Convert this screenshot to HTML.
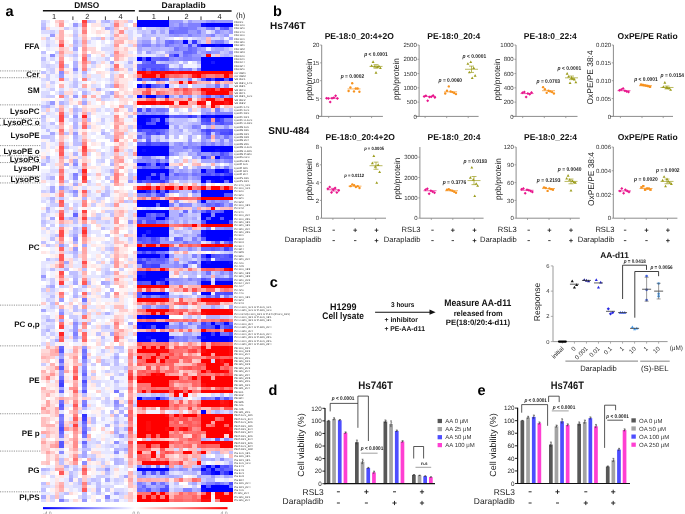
<!DOCTYPE html><html><head><meta charset="utf-8"><style>html,body{margin:0;padding:0;background:#fff;overflow:hidden}svg{display:block;will-change:transform;filter:blur(0.3px)}</style></head><body><svg width="685" height="514" viewBox="0 0 685 514" font-family='"Liberation Sans", sans-serif' text-rendering="geometricPrecision"><rect width="685" height="514" fill="#fff"/><g transform="translate(41.1,20.0) scale(4.58,3.39437)" shape-rendering="crispEdges"><path fill="#0000ff" d="M21 0h7v1h-7zM21 1h7v1h-7zM36 1h6v1h-6zM31 6h1v1h-1zM35 7h3v1h-3zM39 7h3v1h-3zM21 11h1v1h-1zM23 11h1v1h-1zM35 11h7v1h-7zM35 12h2v1h-2zM38 12h4v1h-4zM35 13h7v1h-7zM35 14h7v1h-7zM38 17h2v1h-2zM41 17h1v1h-1zM21 19h1v1h-1zM23 19h1v1h-1zM27 19h1v1h-1zM21 22h1v1h-1zM23 22h2v1h-2zM27 22h1v1h-1zM21 28h7v1h-7zM35 28h1v1h-1zM38 28h4v1h-4zM21 29h2v1h-2zM26 29h1v1h-1zM21 30h2v1h-2zM25 30h2v1h-2zM22 31h6v1h-6zM21 37h7v1h-7zM35 37h7v1h-7zM21 38h1v1h-1zM23 38h5v1h-5zM35 38h3v1h-3zM39 38h3v1h-3zM21 39h7v1h-7zM38 40h1v1h-1zM21 42h2v1h-2zM25 42h1v1h-1zM27 42h1v1h-1zM21 44h7v1h-7zM35 44h1v1h-1zM38 44h2v1h-2zM21 45h3v1h-3zM27 45h1v1h-1zM21 46h2v1h-2zM24 46h2v1h-2zM35 46h4v1h-4zM40 46h2v1h-2zM35 47h1v1h-1zM38 47h2v1h-2zM21 50h2v1h-2zM25 50h1v1h-1zM35 50h7v1h-7zM35 51h5v1h-5zM21 53h7v1h-7zM35 53h1v1h-1zM21 54h4v1h-4zM26 54h2v1h-2zM21 56h7v1h-7zM40 56h2v1h-2zM21 57h2v1h-2zM27 57h1v1h-1zM35 57h2v1h-2zM38 57h4v1h-4zM25 58h2v1h-2zM35 58h1v1h-1zM37 58h2v1h-2zM40 58h2v1h-2zM36 59h5v1h-5zM21 61h7v1h-7zM21 62h2v1h-2zM24 62h4v1h-4zM36 62h6v1h-6zM21 63h1v1h-1zM23 63h5v1h-5zM36 63h6v1h-6zM36 64h5v1h-5zM21 67h7v1h-7zM21 69h5v1h-5zM27 69h1v1h-1zM36 69h1v1h-1zM35 71h1v1h-1zM37 71h4v1h-4zM35 72h7v1h-7zM23 74h5v1h-5zM21 75h1v1h-1zM23 75h5v1h-5zM21 76h5v1h-5zM24 77h1v1h-1zM27 77h1v1h-1zM35 77h2v1h-2zM38 77h4v1h-4zM22 80h5v1h-5zM35 80h2v1h-2zM21 87h1v1h-1zM23 87h5v1h-5zM21 89h7v1h-7zM37 89h1v1h-1zM22 90h1v1h-1zM25 90h2v1h-2zM38 90h1v1h-1zM21 92h7v1h-7zM35 92h2v1h-2zM38 92h1v1h-1zM21 93h2v1h-2zM24 93h4v1h-4zM36 93h5v1h-5zM21 94h3v1h-3zM25 94h3v1h-3zM35 94h6v1h-6zM21 111h1v1h-1zM25 111h1v1h-1zM35 115h1v1h-1zM36 131h1v1h-1zM38 131h1v1h-1zM21 132h7v1h-7zM35 132h1v1h-1zM37 132h1v1h-1zM38 133h1v1h-1zM41 133h1v1h-1zM35 137h1v1h-1zM37 137h4v1h-4zM36 138h6v1h-6z"/><path fill="#0d0dff" d="M35 1h1v1h-1zM38 7h1v1h-1zM36 17h1v1h-1zM36 28h2v1h-2zM23 29h1v1h-1zM21 31h1v1h-1zM22 38h1v1h-1zM38 38h1v1h-1zM25 45h1v1h-1zM39 46h1v1h-1zM37 47h1v1h-1zM41 47h1v1h-1zM27 50h1v1h-1zM35 62h1v1h-1zM35 63h1v1h-1zM41 64h1v1h-1zM36 71h1v1h-1zM41 71h1v1h-1zM22 75h1v1h-1zM26 76h1v1h-1zM22 87h1v1h-1zM40 89h1v1h-1zM21 90h1v1h-1zM23 90h1v1h-1zM23 93h1v1h-1zM35 93h1v1h-1zM41 93h1v1h-1zM41 94h1v1h-1zM37 133h1v1h-1zM35 138h1v1h-1z"/><path fill="#1919ff" d="M37 12h1v1h-1zM40 44h1v1h-1zM23 62h1v1h-1zM21 74h2v1h-2z"/><path fill="#2626ff" d="M23 50h1v1h-1zM27 80h1v1h-1z"/><path fill="#3333ff" d="M33 6h1v1h-1zM34 7h1v1h-1zM29 10h1v1h-1zM21 17h1v1h-1zM25 17h1v1h-1zM32 28h1v1h-1zM38 29h1v1h-1zM35 40h1v1h-1zM26 42h1v1h-1zM41 45h1v1h-1zM23 46h1v1h-1zM21 47h1v1h-1zM26 47h1v1h-1zM36 56h1v1h-1zM21 71h1v1h-1zM9 116h1v1h-1zM40 133h1v1h-1z"/><path fill="#4040ff" d="M22 14h1v1h-1zM37 17h1v1h-1zM22 19h1v1h-1zM21 26h1v1h-1zM36 29h1v1h-1zM27 30h1v1h-1zM21 32h1v1h-1zM36 32h1v1h-1zM25 33h1v1h-1zM41 33h1v1h-1zM23 36h1v1h-1zM23 42h1v1h-1zM26 43h1v1h-1zM40 45h1v1h-1zM27 46h1v1h-1zM24 47h2v1h-2zM26 51h1v1h-1zM22 63h1v1h-1zM24 64h1v1h-1zM40 67h1v1h-1zM22 68h1v1h-1zM24 68h1v1h-1zM35 69h1v1h-1zM41 69h1v1h-1zM22 71h1v1h-1zM22 72h1v1h-1zM24 72h2v1h-2zM26 77h1v1h-1zM35 89h1v1h-1zM41 90h1v1h-1zM37 92h1v1h-1zM28 93h1v1h-1zM34 93h1v1h-1zM4 107h1v1h-1zM38 111h1v1h-1zM9 117h1v1h-1zM22 133h1v1h-1zM26 133h1v1h-1zM36 133h1v1h-1z"/><path fill="#4d4dff" d="M32 7h1v1h-1zM22 11h1v1h-1zM24 12h1v1h-1zM24 14h1v1h-1zM26 14h1v1h-1zM24 17h1v1h-1zM23 26h1v1h-1zM33 28h1v1h-1zM24 29h1v1h-1zM35 29h1v1h-1zM39 29h1v1h-1zM23 30h1v1h-1zM39 30h1v1h-1zM24 32h1v1h-1zM41 32h1v1h-1zM23 33h1v1h-1zM36 33h1v1h-1zM39 33h2v1h-2zM26 36h2v1h-2zM39 39h1v1h-1zM36 45h1v1h-1zM38 45h1v1h-1zM23 47h1v1h-1zM25 57h1v1h-1zM21 59h1v1h-1zM23 59h2v1h-2zM21 64h1v1h-1zM24 65h2v1h-2zM38 65h1v1h-1zM41 65h1v1h-1zM26 69h1v1h-1zM37 69h1v1h-1zM21 70h1v1h-1zM23 70h1v1h-1zM36 70h1v1h-1zM23 72h1v1h-1zM35 76h1v1h-1zM38 76h1v1h-1zM41 76h1v1h-1zM21 77h1v1h-1zM38 80h1v1h-1zM40 80h2v1h-2zM27 81h1v1h-1zM35 90h1v1h-1zM37 90h1v1h-1zM40 90h1v1h-1zM41 92h1v1h-1zM4 106h1v1h-1zM9 106h1v1h-1zM4 120h1v1h-1zM40 131h1v1h-1zM36 132h1v1h-1zM39 132h1v1h-1zM35 133h1v1h-1zM41 136h1v1h-1zM26 138h2v1h-2z"/><path fill="#5959ff" d="M40 2h1v1h-1zM26 11h2v1h-2zM22 13h5v1h-5zM25 14h1v1h-1zM26 17h1v1h-1zM35 17h1v1h-1zM40 17h1v1h-1zM24 19h1v1h-1zM39 22h1v1h-1zM29 28h3v1h-3zM24 30h1v1h-1zM36 30h1v1h-1zM38 30h1v1h-1zM22 32h2v1h-2zM25 32h1v1h-1zM35 32h1v1h-1zM37 32h1v1h-1zM39 32h2v1h-2zM24 33h1v1h-1zM21 36h2v1h-2zM24 36h2v1h-2zM27 40h1v1h-1zM40 40h2v1h-2zM22 43h1v1h-1zM36 44h2v1h-2zM35 45h1v1h-1zM22 47h1v1h-1zM26 50h1v1h-1zM25 51h1v1h-1zM40 51h2v1h-2zM38 54h1v1h-1zM39 56h1v1h-1zM23 57h1v1h-1zM26 57h1v1h-1zM23 58h1v1h-1zM27 58h1v1h-1zM36 58h1v1h-1zM39 58h1v1h-1zM35 59h1v1h-1zM41 59h1v1h-1zM22 64h1v1h-1zM25 64h1v1h-1zM35 64h1v1h-1zM22 65h1v1h-1zM37 67h1v1h-1zM38 69h1v1h-1zM40 69h1v1h-1zM25 70h2v1h-2zM39 70h3v1h-3zM31 72h1v1h-1zM27 76h1v1h-1zM39 76h2v1h-2zM22 77h2v1h-2zM21 80h1v1h-1zM39 80h1v1h-1zM21 81h1v1h-1zM23 81h1v1h-1zM26 81h1v1h-1zM38 81h1v1h-1zM39 89h1v1h-1zM24 90h1v1h-1zM27 90h1v1h-1zM36 90h1v1h-1zM4 97h1v1h-1zM4 102h1v1h-1zM9 109h1v1h-1zM23 111h2v1h-2zM26 111h1v1h-1zM40 111h1v1h-1zM4 113h1v1h-1zM9 121h1v1h-1zM4 124h1v1h-1zM4 125h1v1h-1zM35 131h1v1h-1zM37 131h1v1h-1zM39 131h1v1h-1zM24 133h1v1h-1zM39 133h1v1h-1zM27 137h1v1h-1zM36 137h1v1h-1zM23 138h1v1h-1z"/><path fill="#6666ff" d="M39 2h1v1h-1zM28 3h1v1h-1zM28 6h1v1h-1zM32 8h1v1h-1zM31 9h2v1h-2zM28 10h1v1h-1zM24 11h2v1h-2zM23 12h1v1h-1zM21 13h1v1h-1zM21 14h1v1h-1zM27 14h1v1h-1zM27 17h1v1h-1zM25 19h1v1h-1zM25 22h2v1h-2zM36 22h1v1h-1zM28 28h1v1h-1zM35 30h1v1h-1zM40 30h2v1h-2zM26 32h1v1h-1zM38 32h1v1h-1zM26 33h1v1h-1zM21 34h1v1h-1zM23 35h1v1h-1zM40 39h1v1h-1zM39 40h1v1h-1zM25 41h1v1h-1zM23 43h1v1h-1zM25 43h1v1h-1zM41 44h1v1h-1zM24 45h1v1h-1zM26 45h1v1h-1zM29 45h1v1h-1zM37 45h1v1h-1zM39 45h1v1h-1zM26 46h1v1h-1zM27 47h1v1h-1zM24 50h1v1h-1zM33 50h1v1h-1zM23 51h1v1h-1zM25 54h1v1h-1zM36 54h1v1h-1zM31 56h1v1h-1zM35 56h1v1h-1zM38 56h1v1h-1zM7 57h1v1h-1zM21 58h2v1h-2zM24 58h1v1h-1zM23 64h1v1h-1zM29 64h1v1h-1zM23 65h1v1h-1zM35 67h2v1h-2zM38 67h1v1h-1zM41 67h1v1h-1zM21 68h1v1h-1zM23 68h1v1h-1zM39 69h1v1h-1zM24 70h1v1h-1zM38 70h1v1h-1zM24 71h3v1h-3zM33 71h1v1h-1zM36 76h1v1h-1zM25 77h1v1h-1zM36 81h1v1h-1zM36 89h1v1h-1zM38 89h1v1h-1zM41 89h1v1h-1zM24 94h1v1h-1zM4 96h1v1h-1zM9 99h1v1h-1zM4 100h1v1h-1zM9 104h1v1h-1zM4 109h1v1h-1zM22 111h1v1h-1zM4 114h1v1h-1zM9 118h1v1h-1zM4 119h1v1h-1zM4 121h1v1h-1zM38 123h1v1h-1zM9 124h1v1h-1zM38 132h1v1h-1zM40 132h2v1h-2zM24 136h1v1h-1zM38 136h1v1h-1zM22 137h1v1h-1z"/><path fill="#7373ff" d="M30 2h2v1h-2zM37 2h1v1h-1zM29 3h3v1h-3zM27 6h1v1h-1zM27 7h1v1h-1zM29 8h1v1h-1zM33 8h1v1h-1zM33 9h1v1h-1zM31 10h1v1h-1zM22 12h1v1h-1zM27 13h1v1h-1zM23 14h1v1h-1zM34 14h1v1h-1zM22 17h2v1h-2zM38 19h1v1h-1zM22 22h1v1h-1zM25 26h2v1h-2zM38 26h1v1h-1zM25 29h1v1h-1zM38 33h1v1h-1zM23 34h1v1h-1zM36 34h1v1h-1zM40 34h1v1h-1zM31 37h1v1h-1zM34 37h1v1h-1zM37 39h1v1h-1zM36 40h1v1h-1zM24 43h1v1h-1zM33 45h1v1h-1zM36 47h1v1h-1zM40 47h1v1h-1zM37 54h1v1h-1zM39 54h1v1h-1zM37 56h1v1h-1zM24 57h1v1h-1zM25 59h2v1h-2zM30 64h1v1h-1zM21 65h1v1h-1zM31 65h1v1h-1zM40 65h1v1h-1zM25 68h2v1h-2zM22 70h1v1h-1zM27 70h1v1h-1zM35 70h1v1h-1zM23 71h1v1h-1zM36 74h1v1h-1zM9 82h1v1h-1zM39 90h1v1h-1zM39 92h2v1h-2zM9 97h1v1h-1zM4 105h1v1h-1zM9 107h1v1h-1zM16 109h1v1h-1zM27 111h1v1h-1zM35 111h1v1h-1zM4 112h1v1h-1zM9 113h1v1h-1zM4 116h1v1h-1zM4 118h1v1h-1zM9 120h1v1h-1zM9 122h1v1h-1zM25 131h1v1h-1zM41 131h1v1h-1zM26 136h1v1h-1zM41 137h1v1h-1zM21 138h1v1h-1z"/><path fill="#8080ff" d="M30 1h1v1h-1zM32 1h3v1h-3zM29 2h1v1h-1zM32 2h2v1h-2zM36 2h1v1h-1zM34 3h1v1h-1zM32 4h1v1h-1zM37 4h1v1h-1zM29 6h1v1h-1zM38 6h2v1h-2zM22 7h2v1h-2zM36 9h1v1h-1zM32 10h1v1h-1zM31 11h2v1h-2zM30 14h1v1h-1zM32 14h1v1h-1zM32 17h1v1h-1zM26 19h1v1h-1zM38 22h1v1h-1zM41 22h1v1h-1zM27 26h1v1h-1zM22 27h1v1h-1zM38 27h4v1h-4zM27 29h1v1h-1zM40 29h2v1h-2zM33 31h1v1h-1zM27 32h1v1h-1zM35 33h1v1h-1zM35 36h1v1h-1zM37 36h1v1h-1zM33 37h1v1h-1zM34 39h1v1h-1zM38 39h1v1h-1zM22 40h2v1h-2zM23 41h1v1h-1zM27 41h1v1h-1zM41 41h1v1h-1zM24 42h1v1h-1zM21 43h1v1h-1zM40 43h1v1h-1zM28 44h1v1h-1zM7 45h1v1h-1zM30 45h2v1h-2zM34 45h1v1h-1zM28 50h1v1h-1zM21 51h2v1h-2zM37 53h1v1h-1zM28 54h1v1h-1zM30 54h1v1h-1zM41 54h1v1h-1zM30 57h1v1h-1zM36 61h1v1h-1zM34 63h1v1h-1zM27 64h1v1h-1zM33 64h1v1h-1zM29 67h1v1h-1zM39 67h1v1h-1zM33 69h1v1h-1zM27 71h1v1h-1zM32 71h1v1h-1zM41 74h1v1h-1zM32 76h1v1h-1zM25 81h1v1h-1zM40 81h1v1h-1zM27 84h1v1h-1zM30 89h1v1h-1zM32 89h1v1h-1zM30 90h1v1h-1zM34 90h1v1h-1zM7 92h1v1h-1zM29 93h1v1h-1zM31 93h1v1h-1zM29 94h1v1h-1zM31 94h1v1h-1zM9 98h1v1h-1zM9 103h1v1h-1zM36 111h1v1h-1zM9 112h1v1h-1zM4 117h1v1h-1zM9 119h1v1h-1zM4 122h1v1h-1zM21 131h1v1h-1zM27 131h1v1h-1zM21 136h1v1h-1zM36 136h2v1h-2zM39 136h1v1h-1zM22 138h1v1h-1zM31 138h2v1h-2zM14 140h1v1h-1zM4 141h1v1h-1z"/><path fill="#8c8cff" d="M37 0h1v1h-1zM28 2h1v1h-1zM38 3h1v1h-1zM29 4h1v1h-1zM30 6h1v1h-1zM25 7h1v1h-1zM28 7h1v1h-1zM30 7h1v1h-1zM30 8h2v1h-2zM2 10h1v1h-1zM28 11h1v1h-1zM30 11h1v1h-1zM33 11h2v1h-2zM7 14h1v1h-1zM28 14h1v1h-1zM31 14h1v1h-1zM4 15h1v1h-1zM30 22h1v1h-1zM35 22h1v1h-1zM24 26h1v1h-1zM24 27h1v1h-1zM26 27h1v1h-1zM36 27h1v1h-1zM34 28h1v1h-1zM37 30h1v1h-1zM34 31h1v1h-1zM22 33h1v1h-1zM27 33h1v1h-1zM27 34h1v1h-1zM38 34h1v1h-1zM39 35h1v1h-1zM41 35h1v1h-1zM30 36h1v1h-1zM32 36h1v1h-1zM39 36h1v1h-1zM28 37h1v1h-1zM32 37h1v1h-1zM33 38h2v1h-2zM28 39h1v1h-1zM21 41h2v1h-2zM24 41h1v1h-1zM38 41h1v1h-1zM40 41h1v1h-1zM7 42h1v1h-1zM27 43h1v1h-1zM33 44h1v1h-1zM7 46h1v1h-1zM28 46h2v1h-2zM31 46h1v1h-1zM34 46h1v1h-1zM7 50h1v1h-1zM29 50h1v1h-1zM29 53h1v1h-1zM34 53h1v1h-1zM39 53h1v1h-1zM31 54h2v1h-2zM35 54h1v1h-1zM33 56h1v1h-1zM37 57h1v1h-1zM22 59h1v1h-1zM27 59h1v1h-1zM40 61h2v1h-2zM7 64h1v1h-1zM34 65h1v1h-1zM37 65h1v1h-1zM28 67h1v1h-1zM32 67h1v1h-1zM27 68h1v1h-1zM29 71h1v1h-1zM29 72h1v1h-1zM34 72h1v1h-1zM39 74h1v1h-1zM41 75h1v1h-1zM28 76h2v1h-2zM34 76h1v1h-1zM34 77h1v1h-1zM22 81h1v1h-1zM24 81h1v1h-1zM37 81h1v1h-1zM23 84h1v1h-1zM26 84h1v1h-1zM4 86h1v1h-1zM7 89h1v1h-1zM30 93h1v1h-1zM33 93h1v1h-1zM28 94h1v1h-1zM30 94h1v1h-1zM9 100h1v1h-1zM9 102h1v1h-1zM9 108h1v1h-1zM37 111h1v1h-1zM39 111h1v1h-1zM41 111h1v1h-1zM16 112h1v1h-1zM40 123h1v1h-1zM16 124h1v1h-1zM4 127h1v1h-1zM16 127h1v1h-1zM39 129h1v1h-1zM9 130h1v1h-1zM23 131h1v1h-1zM30 132h1v1h-1zM33 132h2v1h-2zM27 133h1v1h-1zM21 137h1v1h-1zM25 138h1v1h-1z"/><path fill="#9999ff" d="M28 0h3v1h-3zM32 0h1v1h-1zM36 0h1v1h-1zM38 0h4v1h-4zM7 1h1v1h-1zM28 1h1v1h-1zM31 1h1v1h-1zM24 3h1v1h-1zM32 3h2v1h-2zM41 3h1v1h-1zM2 4h1v1h-1zM28 4h1v1h-1zM30 4h1v1h-1zM33 4h2v1h-2zM36 4h1v1h-1zM40 4h1v1h-1zM22 6h2v1h-2zM37 6h1v1h-1zM21 7h1v1h-1zM29 7h1v1h-1zM34 8h1v1h-1zM23 9h1v1h-1zM28 9h2v1h-2zM35 9h1v1h-1zM37 9h2v1h-2zM41 9h1v1h-1zM33 10h2v1h-2zM29 11h1v1h-1zM29 14h1v1h-1zM4 16h1v1h-1zM40 19h1v1h-1zM7 22h1v1h-1zM32 22h1v1h-1zM2 24h1v1h-1zM21 27h1v1h-1zM23 27h1v1h-1zM25 27h1v1h-1zM7 28h1v1h-1zM40 31h1v1h-1zM7 33h1v1h-1zM22 34h1v1h-1zM35 34h1v1h-1zM41 34h1v1h-1zM32 35h1v1h-1zM35 35h1v1h-1zM29 36h1v1h-1zM33 36h1v1h-1zM36 36h1v1h-1zM41 36h1v1h-1zM29 37h2v1h-2zM29 38h2v1h-2zM35 39h2v1h-2zM41 39h1v1h-1zM26 41h1v1h-1zM38 43h1v1h-1zM30 44h1v1h-1zM34 44h1v1h-1zM28 45h1v1h-1zM32 45h1v1h-1zM30 46h1v1h-1zM33 46h1v1h-1zM19 47h1v1h-1zM4 49h1v1h-1zM34 50h1v1h-1zM24 51h1v1h-1zM36 53h1v1h-1zM38 53h1v1h-1zM40 53h1v1h-1zM19 59h1v1h-1zM38 61h2v1h-2zM26 64h1v1h-1zM26 65h4v1h-4zM32 65h2v1h-2zM4 66h1v1h-1zM7 67h1v1h-1zM28 69h1v1h-1zM26 72h3v1h-3zM30 72h1v1h-1zM0 75h1v1h-1zM30 76h1v1h-1zM33 76h1v1h-1zM29 77h2v1h-2zM35 81h1v1h-1zM4 82h1v1h-1zM22 84h1v1h-1zM25 84h1v1h-1zM7 90h1v1h-1zM28 90h2v1h-2zM31 90h1v1h-1zM7 91h1v1h-1zM7 93h1v1h-1zM32 93h1v1h-1zM33 94h2v1h-2zM9 96h1v1h-1zM4 98h1v1h-1zM4 101h1v1h-1zM4 103h1v1h-1zM4 104h1v1h-1zM9 105h1v1h-1zM16 113h1v1h-1zM18 116h1v1h-1zM17 122h1v1h-1zM9 125h1v1h-1zM14 132h1v1h-1zM28 132h1v1h-1zM31 132h1v1h-1zM37 134h1v1h-1zM22 136h1v1h-1zM40 136h1v1h-1zM25 137h2v1h-2zM24 138h1v1h-1zM9 141h1v1h-1z"/><path fill="#a6a6ff" d="M29 1h1v1h-1zM14 2h1v1h-1zM34 2h1v1h-1zM41 2h1v1h-1zM26 3h1v1h-1zM39 3h1v1h-1zM31 4h1v1h-1zM25 5h1v1h-1zM41 5h1v1h-1zM25 6h1v1h-1zM34 6h1v1h-1zM24 7h1v1h-1zM26 7h1v1h-1zM31 7h1v1h-1zM33 7h1v1h-1zM7 8h1v1h-1zM21 8h1v1h-1zM35 8h1v1h-1zM38 8h2v1h-2zM30 9h1v1h-1zM30 10h1v1h-1zM15 12h1v1h-1zM30 13h1v1h-1zM36 19h1v1h-1zM15 21h1v1h-1zM28 22h1v1h-1zM37 22h1v1h-1zM40 22h1v1h-1zM9 24h1v1h-1zM22 26h1v1h-1zM35 26h1v1h-1zM35 27h1v1h-1zM37 27h1v1h-1zM29 31h1v1h-1zM30 32h1v1h-1zM34 32h1v1h-1zM2 33h1v1h-1zM21 33h1v1h-1zM32 34h1v1h-1zM39 34h1v1h-1zM25 35h1v1h-1zM34 36h1v1h-1zM38 36h1v1h-1zM28 38h1v1h-1zM31 38h1v1h-1zM29 39h1v1h-1zM32 39h1v1h-1zM33 40h1v1h-1zM7 41h1v1h-1zM35 41h2v1h-2zM39 41h1v1h-1zM5 42h1v1h-1zM34 43h1v1h-1zM36 43h1v1h-1zM31 44h1v1h-1zM7 48h1v1h-1zM35 48h1v1h-1zM2 49h1v1h-1zM2 50h1v1h-1zM7 51h1v1h-1zM40 54h1v1h-1zM34 56h1v1h-1zM2 58h1v1h-1zM28 58h1v1h-1zM33 58h1v1h-1zM29 59h1v1h-1zM31 59h1v1h-1zM32 61h1v1h-1zM7 63h1v1h-1zM31 63h1v1h-1zM30 65h1v1h-1zM9 66h1v1h-1zM33 67h1v1h-1zM5 71h1v1h-1zM21 72h1v1h-1zM35 74h1v1h-1zM40 74h1v1h-1zM35 75h1v1h-1zM38 75h1v1h-1zM31 76h1v1h-1zM7 77h1v1h-1zM13 77h1v1h-1zM28 77h1v1h-1zM31 77h1v1h-1zM2 78h1v1h-1zM33 80h1v1h-1zM30 81h1v1h-1zM41 81h1v1h-1zM37 84h1v1h-1zM41 84h1v1h-1zM0 85h1v1h-1zM4 85h1v1h-1zM4 88h1v1h-1zM19 89h1v1h-1zM33 89h1v1h-1zM15 92h1v1h-1zM31 92h2v1h-2zM3 94h1v1h-1zM32 94h1v1h-1zM4 99h1v1h-1zM16 99h1v1h-1zM9 101h1v1h-1zM4 108h1v1h-1zM16 121h1v1h-1zM18 126h1v1h-1zM9 127h1v1h-1zM9 128h1v1h-1zM37 129h1v1h-1zM29 132h1v1h-1zM23 133h1v1h-1zM25 133h1v1h-1zM18 134h1v1h-1zM21 134h2v1h-2zM28 134h1v1h-1zM34 134h1v1h-1zM40 134h1v1h-1zM6 135h1v1h-1zM14 135h1v1h-1zM25 136h1v1h-1zM27 136h1v1h-1zM33 136h1v1h-1zM35 136h1v1h-1zM23 137h1v1h-1zM34 138h1v1h-1zM16 139h1v1h-1zM0 140h1v1h-1z"/><path fill="#b2b2ff" d="M14 0h1v1h-1zM33 0h3v1h-3zM0 2h1v1h-1zM21 2h1v1h-1zM26 2h1v1h-1zM35 2h1v1h-1zM35 3h1v1h-1zM40 3h1v1h-1zM22 4h1v1h-1zM35 4h1v1h-1zM39 4h1v1h-1zM7 6h1v1h-1zM21 6h1v1h-1zM32 6h1v1h-1zM40 6h1v1h-1zM24 8h2v1h-2zM28 8h1v1h-1zM37 8h1v1h-1zM21 9h1v1h-1zM27 9h1v1h-1zM34 9h1v1h-1zM35 10h1v1h-1zM40 10h1v1h-1zM7 12h1v1h-1zM19 12h1v1h-1zM27 12h2v1h-2zM34 12h1v1h-1zM7 13h1v1h-1zM15 14h1v1h-1zM9 15h1v1h-1zM34 17h1v1h-1zM15 19h1v1h-1zM37 19h1v1h-1zM12 20h1v1h-1zM9 21h1v1h-1zM34 22h1v1h-1zM4 24h1v1h-1zM1 25h1v1h-1zM7 26h1v1h-1zM36 26h1v1h-1zM27 27h1v1h-1zM7 30h1v1h-1zM28 30h1v1h-1zM33 30h2v1h-2zM7 31h1v1h-1zM32 31h1v1h-1zM36 31h1v1h-1zM13 33h1v1h-1zM33 33h2v1h-2zM7 34h1v1h-1zM36 35h1v1h-1zM31 36h1v1h-1zM40 36h1v1h-1zM7 39h1v1h-1zM33 39h1v1h-1zM1 40h1v1h-1zM21 40h1v1h-1zM24 40h1v1h-1zM37 41h1v1h-1zM0 42h1v1h-1zM15 42h1v1h-1zM29 43h1v1h-1zM31 43h1v1h-1zM35 43h1v1h-1zM41 43h1v1h-1zM15 44h1v1h-1zM29 44h1v1h-1zM2 46h1v1h-1zM32 46h1v1h-1zM6 50h1v1h-1zM13 51h1v1h-1zM27 51h1v1h-1zM33 51h1v1h-1zM2 52h1v1h-1zM9 52h1v1h-1zM34 54h1v1h-1zM1 55h1v1h-1zM33 55h1v1h-1zM28 56h2v1h-2zM28 57h2v1h-2zM31 57h1v1h-1zM6 58h1v1h-1zM29 58h1v1h-1zM31 58h1v1h-1zM9 60h1v1h-1zM7 61h1v1h-1zM28 61h1v1h-1zM29 62h1v1h-1zM33 62h2v1h-2zM33 63h1v1h-1zM34 64h1v1h-1zM7 65h1v1h-1zM30 67h2v1h-2zM7 68h1v1h-1zM31 69h1v1h-1zM34 69h1v1h-1zM31 70h1v1h-1zM34 70h1v1h-1zM28 71h1v1h-1zM34 71h1v1h-1zM5 73h1v1h-1zM33 74h1v1h-1zM38 74h1v1h-1zM36 75h1v1h-1zM39 75h1v1h-1zM7 76h1v1h-1zM14 77h1v1h-1zM32 77h2v1h-2zM9 78h1v1h-1zM15 79h1v1h-1zM7 81h1v1h-1zM34 81h1v1h-1zM9 85h1v1h-1zM14 86h1v1h-1zM36 87h3v1h-3zM1 88h1v1h-1zM29 89h1v1h-1zM34 89h1v1h-1zM1 91h1v1h-1zM17 110h1v1h-1zM26 110h1v1h-1zM29 111h1v1h-1zM17 113h1v1h-1zM9 114h1v1h-1zM16 114h1v1h-1zM17 115h1v1h-1zM38 115h1v1h-1zM16 116h1v1h-1zM16 118h1v1h-1zM14 119h1v1h-1zM16 120h1v1h-1zM18 120h1v1h-1zM35 123h1v1h-1zM41 123h1v1h-1zM16 126h1v1h-1zM38 127h1v1h-1zM16 129h1v1h-1zM35 129h2v1h-2zM16 130h1v1h-1zM41 130h1v1h-1zM5 131h1v1h-1zM22 131h1v1h-1zM30 131h1v1h-1zM0 132h1v1h-1zM21 133h1v1h-1zM33 133h1v1h-1zM6 134h1v1h-1zM25 134h1v1h-1zM27 134h1v1h-1zM29 134h1v1h-1zM41 134h1v1h-1zM36 135h2v1h-2zM24 137h1v1h-1zM12 138h1v1h-1zM33 138h1v1h-1zM16 141h1v1h-1z"/><path fill="#bfbfff" d="M10 0h1v1h-1zM13 0h1v1h-1zM0 1h1v1h-1zM15 2h1v1h-1zM25 2h1v1h-1zM27 2h1v1h-1zM38 2h1v1h-1zM22 3h1v1h-1zM7 4h1v1h-1zM23 4h2v1h-2zM27 4h1v1h-1zM38 4h1v1h-1zM15 5h1v1h-1zM22 5h2v1h-2zM35 5h1v1h-1zM39 5h1v1h-1zM26 6h1v1h-1zM7 7h1v1h-1zM22 8h2v1h-2zM26 8h2v1h-2zM40 8h1v1h-1zM0 9h1v1h-1zM24 9h1v1h-1zM40 9h1v1h-1zM7 10h1v1h-1zM10 10h1v1h-1zM15 10h1v1h-1zM26 10h1v1h-1zM39 10h1v1h-1zM41 10h1v1h-1zM0 11h1v1h-1zM11 12h1v1h-1zM26 12h1v1h-1zM29 12h1v1h-1zM31 12h1v1h-1zM19 14h1v1h-1zM33 14h1v1h-1zM0 15h1v1h-1zM29 17h3v1h-3zM7 18h1v1h-1zM7 19h1v1h-1zM30 19h2v1h-2zM4 21h1v1h-1zM13 22h2v1h-2zM31 22h1v1h-1zM0 25h1v1h-1zM19 26h1v1h-1zM32 26h1v1h-1zM39 26h1v1h-1zM41 26h1v1h-1zM7 27h1v1h-1zM0 28h1v1h-1zM19 28h1v1h-1zM7 29h1v1h-1zM10 29h1v1h-1zM29 29h3v1h-3zM34 29h1v1h-1zM2 30h1v1h-1zM29 30h2v1h-2zM32 30h1v1h-1zM31 31h1v1h-1zM38 31h2v1h-2zM1 32h1v1h-1zM29 32h1v1h-1zM32 32h2v1h-2zM5 33h1v1h-1zM29 33h2v1h-2zM0 34h2v1h-2zM25 34h1v1h-1zM29 34h1v1h-1zM7 35h1v1h-1zM21 35h1v1h-1zM38 35h1v1h-1zM7 36h2v1h-2zM28 36h1v1h-1zM5 37h1v1h-1zM32 38h1v1h-1zM34 40h1v1h-1zM1 41h1v1h-1zM20 41h1v1h-1zM41 42h1v1h-1zM39 43h1v1h-1zM8 44h1v1h-1zM32 44h1v1h-1zM19 45h1v1h-1zM14 46h1v1h-1zM19 46h1v1h-1zM15 47h1v1h-1zM28 47h1v1h-1zM30 47h2v1h-2zM33 47h2v1h-2zM5 49h1v1h-1zM14 50h1v1h-1zM30 50h3v1h-3zM14 51h1v1h-1zM31 51h1v1h-1zM34 51h1v1h-1zM4 52h1v1h-1zM2 53h1v1h-1zM18 53h1v1h-1zM1 56h1v1h-1zM7 56h1v1h-1zM15 57h1v1h-1zM33 57h1v1h-1zM7 58h1v1h-1zM12 58h1v1h-1zM30 58h1v1h-1zM32 58h1v1h-1zM0 59h1v1h-1zM7 59h1v1h-1zM28 59h1v1h-1zM33 59h2v1h-2zM4 60h1v1h-1zM13 61h1v1h-1zM31 61h1v1h-1zM35 61h1v1h-1zM7 62h1v1h-1zM30 62h1v1h-1zM3 63h1v1h-1zM14 63h1v1h-1zM32 63h1v1h-1zM2 64h1v1h-1zM31 64h1v1h-1zM0 65h1v1h-1zM39 65h1v1h-1zM1 66h1v1h-1zM15 67h1v1h-1zM41 68h1v1h-1zM7 69h1v1h-1zM1 70h1v1h-1zM28 70h1v1h-1zM30 70h1v1h-1zM32 70h1v1h-1zM15 71h1v1h-1zM31 71h1v1h-1zM2 73h1v1h-1zM9 73h1v1h-1zM6 74h2v1h-2zM14 74h1v1h-1zM31 74h2v1h-2zM7 75h1v1h-1zM32 75h2v1h-2zM10 77h1v1h-1zM1 78h1v1h-1zM7 79h1v1h-1zM7 80h1v1h-1zM14 80h1v1h-1zM2 81h1v1h-1zM14 81h1v1h-1zM28 81h2v1h-2zM31 81h1v1h-1zM2 83h1v1h-1zM9 83h1v1h-1zM7 84h1v1h-1zM24 84h1v1h-1zM38 84h1v1h-1zM7 85h1v1h-1zM9 86h1v1h-1zM32 87h1v1h-1zM2 88h1v1h-1zM7 88h1v1h-1zM10 89h1v1h-1zM14 90h1v1h-1zM32 90h1v1h-1zM12 92h1v1h-1zM34 92h1v1h-1zM13 93h1v1h-1zM7 94h1v1h-1zM16 96h2v1h-2zM16 98h1v1h-1zM13 100h1v1h-1zM16 100h1v1h-1zM13 101h2v1h-2zM16 101h1v1h-1zM18 102h1v1h-1zM17 104h1v1h-1zM15 105h1v1h-1zM16 106h1v1h-1zM9 110h1v1h-1zM24 110h1v1h-1zM39 110h1v1h-1zM30 111h1v1h-1zM20 113h1v1h-1zM15 115h1v1h-1zM41 115h1v1h-1zM11 117h1v1h-1zM11 118h1v1h-1zM10 120h1v1h-1zM36 123h1v1h-1zM9 126h2v1h-2zM17 126h1v1h-1zM37 127h1v1h-1zM41 127h1v1h-1zM8 128h1v1h-1zM35 128h1v1h-1zM4 129h1v1h-1zM11 129h1v1h-1zM17 129h1v1h-1zM40 129h1v1h-1zM4 130h1v1h-1zM17 130h1v1h-1zM34 131h1v1h-1zM1 132h1v1h-1zM7 132h1v1h-1zM6 133h1v1h-1zM14 133h1v1h-1zM31 133h2v1h-2zM23 134h1v1h-1zM26 134h1v1h-1zM30 134h1v1h-1zM35 134h2v1h-2zM38 134h1v1h-1zM8 135h1v1h-1zM11 135h1v1h-1zM0 136h1v1h-1zM8 136h1v1h-1zM10 136h1v1h-1zM12 136h1v1h-1zM23 136h1v1h-1zM29 136h1v1h-1zM32 136h1v1h-1zM12 137h1v1h-1zM0 138h1v1h-1zM14 138h1v1h-1zM29 138h2v1h-2zM5 139h1v1h-1zM9 139h1v1h-1zM12 139h1v1h-1zM9 140h1v1h-1zM5 141h1v1h-1zM12 141h1v1h-1zM14 141h1v1h-1z"/><path fill="#ccccff" d="M0 0h1v1h-1zM11 0h1v1h-1zM19 0h1v1h-1zM31 0h1v1h-1zM15 1h1v1h-1zM5 2h1v1h-1zM23 2h2v1h-2zM2 3h1v1h-1zM7 3h1v1h-1zM15 3h1v1h-1zM21 3h1v1h-1zM23 3h1v1h-1zM25 3h1v1h-1zM27 3h1v1h-1zM37 3h1v1h-1zM25 4h2v1h-2zM1 5h1v1h-1zM7 5h1v1h-1zM12 5h1v1h-1zM21 5h1v1h-1zM26 5h1v1h-1zM34 5h1v1h-1zM35 6h1v1h-1zM1 7h1v1h-1zM3 9h1v1h-1zM39 9h1v1h-1zM25 10h1v1h-1zM14 11h1v1h-1zM25 12h1v1h-1zM1 13h1v1h-1zM5 13h1v1h-1zM2 14h1v1h-1zM2 15h1v1h-1zM7 15h1v1h-1zM1 16h1v1h-1zM9 16h1v1h-1zM15 16h1v1h-1zM1 17h1v1h-1zM7 17h1v1h-1zM15 17h1v1h-1zM2 18h1v1h-1zM14 19h1v1h-1zM33 19h3v1h-3zM39 19h1v1h-1zM2 20h1v1h-1zM14 21h1v1h-1zM1 22h2v1h-2zM5 22h1v1h-1zM19 22h1v1h-1zM29 22h1v1h-1zM9 23h1v1h-1zM13 23h1v1h-1zM1 24h1v1h-1zM5 24h1v1h-1zM7 25h1v1h-1zM18 25h2v1h-2zM3 26h1v1h-1zM8 26h1v1h-1zM29 26h1v1h-1zM10 27h1v1h-1zM5 28h1v1h-1zM0 29h1v1h-1zM13 29h1v1h-1zM28 29h1v1h-1zM31 30h1v1h-1zM0 31h1v1h-1zM10 31h1v1h-1zM19 31h1v1h-1zM41 31h1v1h-1zM13 32h1v1h-1zM28 32h1v1h-1zM14 33h1v1h-1zM28 33h1v1h-1zM37 33h1v1h-1zM2 34h1v1h-1zM14 34h2v1h-2zM24 34h1v1h-1zM2 35h1v1h-1zM15 35h1v1h-1zM24 35h1v1h-1zM27 35h1v1h-1zM40 35h1v1h-1zM19 38h1v1h-1zM13 39h1v1h-1zM30 39h1v1h-1zM5 40h1v1h-1zM25 40h1v1h-1zM13 41h1v1h-1zM15 41h1v1h-1zM29 41h1v1h-1zM7 43h1v1h-1zM28 43h1v1h-1zM33 43h1v1h-1zM15 45h1v1h-1zM1 46h1v1h-1zM5 47h1v1h-1zM7 47h1v1h-1zM10 47h1v1h-1zM14 49h1v1h-1zM0 50h1v1h-1zM5 50h1v1h-1zM10 50h1v1h-1zM30 51h1v1h-1zM12 52h1v1h-1zM19 53h1v1h-1zM2 54h2v1h-2zM5 54h1v1h-1zM7 54h1v1h-1zM11 54h1v1h-1zM15 54h1v1h-1zM29 54h1v1h-1zM33 54h1v1h-1zM5 55h1v1h-1zM23 55h1v1h-1zM14 56h2v1h-2zM30 56h1v1h-1zM0 57h1v1h-1zM12 57h1v1h-1zM32 57h1v1h-1zM34 57h1v1h-1zM5 58h1v1h-1zM11 58h1v1h-1zM14 59h1v1h-1zM30 59h1v1h-1zM32 59h1v1h-1zM0 60h1v1h-1zM2 60h1v1h-1zM1 61h1v1h-1zM31 62h1v1h-1zM6 63h1v1h-1zM28 63h1v1h-1zM30 63h1v1h-1zM19 64h1v1h-1zM32 64h1v1h-1zM36 65h1v1h-1zM5 66h1v1h-1zM14 67h1v1h-1zM34 67h1v1h-1zM6 68h1v1h-1zM40 68h1v1h-1zM29 69h2v1h-2zM32 69h1v1h-1zM3 70h1v1h-1zM32 72h1v1h-1zM14 73h1v1h-1zM17 73h1v1h-1zM15 74h1v1h-1zM37 74h1v1h-1zM13 75h1v1h-1zM30 75h1v1h-1zM40 75h1v1h-1zM0 76h1v1h-1zM2 76h1v1h-1zM2 77h1v1h-1zM4 78h1v1h-1zM14 78h1v1h-1zM0 79h1v1h-1zM2 79h1v1h-1zM10 80h1v1h-1zM32 81h1v1h-1zM39 81h1v1h-1zM1 82h1v1h-1zM2 84h1v1h-1zM31 84h1v1h-1zM35 84h2v1h-2zM1 87h1v1h-1zM6 87h2v1h-2zM34 87h1v1h-1zM39 87h2v1h-2zM8 89h1v1h-1zM28 89h1v1h-1zM31 89h1v1h-1zM1 90h2v1h-2zM13 90h1v1h-1zM33 90h1v1h-1zM0 91h1v1h-1zM6 91h1v1h-1zM0 92h1v1h-1zM2 92h1v1h-1zM33 92h1v1h-1zM8 93h1v1h-1zM13 97h1v1h-1zM17 97h1v1h-1zM0 101h1v1h-1zM11 101h1v1h-1zM14 103h1v1h-1zM11 104h1v1h-1zM21 110h2v1h-2zM25 110h1v1h-1zM27 110h1v1h-1zM41 110h1v1h-1zM14 111h1v1h-1zM28 111h1v1h-1zM14 112h1v1h-1zM18 114h1v1h-1zM37 115h1v1h-1zM39 115h1v1h-1zM16 117h1v1h-1zM18 118h1v1h-1zM16 119h1v1h-1zM16 122h1v1h-1zM18 122h1v1h-1zM23 123h1v1h-1zM12 124h1v1h-1zM15 125h1v1h-1zM17 125h2v1h-2zM34 126h1v1h-1zM18 127h1v1h-1zM11 128h1v1h-1zM38 128h1v1h-1zM33 129h1v1h-1zM38 129h1v1h-1zM41 129h1v1h-1zM13 130h1v1h-1zM7 131h1v1h-1zM14 131h1v1h-1zM29 131h1v1h-1zM33 131h1v1h-1zM12 132h2v1h-2zM32 132h1v1h-1zM12 134h2v1h-2zM24 134h1v1h-1zM39 134h1v1h-1zM12 135h1v1h-1zM16 135h1v1h-1zM35 135h1v1h-1zM33 137h1v1h-1zM17 139h1v1h-1zM2 140h1v1h-1zM4 140h1v1h-1z"/><path fill="#d9d9ff" d="M15 0h1v1h-1zM8 1h1v1h-1zM13 1h1v1h-1zM7 2h1v1h-1zM0 3h2v1h-2zM19 3h1v1h-1zM15 4h1v1h-1zM19 4h1v1h-1zM11 5h1v1h-1zM19 5h1v1h-1zM27 5h1v1h-1zM31 5h1v1h-1zM33 5h1v1h-1zM37 5h2v1h-2zM1 6h1v1h-1zM8 6h1v1h-1zM10 6h1v1h-1zM24 6h1v1h-1zM8 7h1v1h-1zM15 7h1v1h-1zM19 7h1v1h-1zM13 8h3v1h-3zM41 8h1v1h-1zM7 9h1v1h-1zM15 9h1v1h-1zM25 9h1v1h-1zM6 10h1v1h-1zM21 10h1v1h-1zM37 10h1v1h-1zM2 11h1v1h-1zM7 11h1v1h-1zM10 11h1v1h-1zM19 11h1v1h-1zM0 12h1v1h-1zM3 12h1v1h-1zM21 12h1v1h-1zM0 13h1v1h-1zM2 13h1v1h-1zM11 13h1v1h-1zM15 13h1v1h-1zM18 13h2v1h-2zM29 13h1v1h-1zM34 13h1v1h-1zM1 14h1v1h-1zM10 14h1v1h-1zM15 15h1v1h-1zM0 17h1v1h-1zM5 17h1v1h-1zM10 17h1v1h-1zM28 17h1v1h-1zM15 18h1v1h-1zM0 19h1v1h-1zM6 19h1v1h-1zM11 19h1v1h-1zM28 19h1v1h-1zM4 20h1v1h-1zM8 20h2v1h-2zM0 21h2v1h-2zM7 21h1v1h-1zM10 21h1v1h-1zM0 22h1v1h-1zM33 22h1v1h-1zM5 23h1v1h-1zM14 23h1v1h-1zM2 25h1v1h-1zM24 25h1v1h-1zM0 26h1v1h-1zM12 26h1v1h-1zM14 26h1v1h-1zM40 26h1v1h-1zM1 27h1v1h-1zM5 27h1v1h-1zM15 27h1v1h-1zM30 27h1v1h-1zM10 28h1v1h-1zM6 29h1v1h-1zM8 29h1v1h-1zM32 29h1v1h-1zM0 30h1v1h-1zM13 30h1v1h-1zM3 31h1v1h-1zM28 31h1v1h-1zM30 31h1v1h-1zM7 32h1v1h-1zM15 32h1v1h-1zM18 33h1v1h-1zM31 33h2v1h-2zM8 34h1v1h-1zM26 34h1v1h-1zM33 34h1v1h-1zM8 35h1v1h-1zM26 35h1v1h-1zM0 36h1v1h-1zM5 36h1v1h-1zM13 36h1v1h-1zM0 37h1v1h-1zM15 37h1v1h-1zM15 38h1v1h-1zM10 39h1v1h-1zM15 39h1v1h-1zM19 39h1v1h-1zM31 39h1v1h-1zM8 40h1v1h-1zM13 40h1v1h-1zM26 40h1v1h-1zM30 40h1v1h-1zM0 41h1v1h-1zM12 41h1v1h-1zM32 41h1v1h-1zM38 42h1v1h-1zM2 44h2v1h-2zM14 44h1v1h-1zM19 44h1v1h-1zM1 45h1v1h-1zM6 45h1v1h-1zM8 45h1v1h-1zM10 45h1v1h-1zM20 45h1v1h-1zM6 46h1v1h-1zM20 47h1v1h-1zM32 47h1v1h-1zM10 48h1v1h-1zM6 49h1v1h-1zM9 49h1v1h-1zM1 50h1v1h-1zM10 51h1v1h-1zM19 51h1v1h-1zM1 52h1v1h-1zM13 52h1v1h-1zM0 53h1v1h-1zM12 53h1v1h-1zM41 53h1v1h-1zM14 54h1v1h-1zM7 55h1v1h-1zM24 55h1v1h-1zM3 56h1v1h-1zM5 56h1v1h-1zM19 56h1v1h-1zM32 56h1v1h-1zM19 57h1v1h-1zM0 58h1v1h-1zM10 58h1v1h-1zM19 58h1v1h-1zM34 58h1v1h-1zM1 59h1v1h-1zM12 59h2v1h-2zM5 60h1v1h-1zM10 60h1v1h-1zM19 60h1v1h-1zM8 61h1v1h-1zM10 61h1v1h-1zM14 61h1v1h-1zM6 62h1v1h-1zM8 62h1v1h-1zM10 62h1v1h-1zM19 62h1v1h-1zM28 62h1v1h-1zM32 62h1v1h-1zM2 63h1v1h-1zM29 63h1v1h-1zM3 65h1v1h-1zM14 65h1v1h-1zM19 65h1v1h-1zM2 66h1v1h-1zM15 66h1v1h-1zM5 68h1v1h-1zM13 68h1v1h-1zM15 68h1v1h-1zM39 68h1v1h-1zM14 69h1v1h-1zM2 70h1v1h-1zM7 70h1v1h-1zM15 70h1v1h-1zM19 70h1v1h-1zM33 70h1v1h-1zM12 71h1v1h-1zM30 71h1v1h-1zM5 72h1v1h-1zM14 72h1v1h-1zM19 72h1v1h-1zM0 73h1v1h-1zM4 73h1v1h-1zM13 73h1v1h-1zM0 74h1v1h-1zM13 74h1v1h-1zM30 74h1v1h-1zM34 74h1v1h-1zM6 75h1v1h-1zM8 75h1v1h-1zM14 75h1v1h-1zM19 75h1v1h-1zM10 76h1v1h-1zM15 77h1v1h-1zM37 77h1v1h-1zM5 78h1v1h-1zM8 79h1v1h-1zM1 80h2v1h-2zM19 80h1v1h-1zM28 80h1v1h-1zM8 81h1v1h-1zM13 81h1v1h-1zM2 82h1v1h-1zM16 82h1v1h-1zM21 84h1v1h-1zM30 84h1v1h-1zM39 84h1v1h-1zM8 85h1v1h-1zM6 86h1v1h-1zM13 86h1v1h-1zM15 86h1v1h-1zM0 87h1v1h-1zM19 87h1v1h-1zM31 87h1v1h-1zM41 87h1v1h-1zM11 88h1v1h-1zM0 89h1v1h-1zM2 89h1v1h-1zM9 91h1v1h-1zM13 91h3v1h-3zM28 92h2v1h-2zM1 93h1v1h-1zM3 93h1v1h-1zM5 93h1v1h-1zM2 94h1v1h-1zM13 94h1v1h-1zM19 94h1v1h-1zM0 95h1v1h-1zM2 95h1v1h-1zM13 95h1v1h-1zM15 99h1v1h-1zM10 100h1v1h-1zM14 100h1v1h-1zM37 100h1v1h-1zM15 102h3v1h-3zM16 103h1v1h-1zM18 103h1v1h-1zM16 104h1v1h-1zM10 105h1v1h-1zM11 106h2v1h-2zM12 107h1v1h-1zM16 107h1v1h-1zM16 108h3v1h-3zM8 109h1v1h-1zM4 110h1v1h-1zM23 110h1v1h-1zM37 110h1v1h-1zM12 111h1v1h-1zM34 111h1v1h-1zM13 112h1v1h-1zM18 112h1v1h-1zM20 112h1v1h-1zM14 113h1v1h-1zM8 115h1v1h-1zM13 115h1v1h-1zM29 115h1v1h-1zM40 115h1v1h-1zM13 117h1v1h-1zM8 118h1v1h-1zM6 119h1v1h-1zM8 119h1v1h-1zM17 120h1v1h-1zM0 122h1v1h-1zM4 123h1v1h-1zM9 123h1v1h-1zM11 123h1v1h-1zM18 123h1v1h-1zM37 123h1v1h-1zM39 123h1v1h-1zM10 124h2v1h-2zM17 124h1v1h-1zM10 125h1v1h-1zM14 125h1v1h-1zM29 126h1v1h-1zM25 127h1v1h-1zM10 128h1v1h-1zM39 128h1v1h-1zM13 129h1v1h-1zM15 129h1v1h-1zM18 130h1v1h-1zM35 130h1v1h-1zM40 130h1v1h-1zM24 131h1v1h-1zM26 131h1v1h-1zM5 132h1v1h-1zM8 132h1v1h-1zM0 133h1v1h-1zM7 133h1v1h-1zM20 133h1v1h-1zM28 133h1v1h-1zM30 133h1v1h-1zM34 133h1v1h-1zM2 134h1v1h-1zM7 134h1v1h-1zM14 134h1v1h-1zM17 134h1v1h-1zM10 135h1v1h-1zM17 135h1v1h-1zM7 136h1v1h-1zM16 136h1v1h-1zM20 136h1v1h-1zM34 136h1v1h-1zM0 137h2v1h-2zM7 137h2v1h-2zM13 137h3v1h-3zM29 137h1v1h-1zM8 138h1v1h-1zM16 138h2v1h-2zM28 138h1v1h-1zM4 139h1v1h-1zM18 139h1v1h-1zM8 140h1v1h-1zM17 140h1v1h-1zM0 141h1v1h-1zM2 141h1v1h-1zM15 141h1v1h-1z"/><path fill="#e6e6ff" d="M1 0h1v1h-1zM14 1h1v1h-1zM18 1h1v1h-1zM6 2h1v1h-1zM19 2h2v1h-2zM3 3h1v1h-1zM18 3h1v1h-1zM36 3h1v1h-1zM8 5h1v1h-1zM14 5h1v1h-1zM28 5h1v1h-1zM2 6h1v1h-1zM13 6h1v1h-1zM15 6h1v1h-1zM2 7h2v1h-2zM14 7h1v1h-1zM1 8h1v1h-1zM14 9h1v1h-1zM19 9h1v1h-1zM22 9h1v1h-1zM26 9h1v1h-1zM0 10h1v1h-1zM3 10h1v1h-1zM5 10h1v1h-1zM22 10h3v1h-3zM12 11h2v1h-2zM20 11h1v1h-1zM1 12h1v1h-1zM12 12h1v1h-1zM18 12h1v1h-1zM33 12h1v1h-1zM3 13h1v1h-1zM28 13h1v1h-1zM14 14h1v1h-1zM1 15h1v1h-1zM16 15h1v1h-1zM19 15h1v1h-1zM3 16h1v1h-1zM7 16h1v1h-1zM11 16h2v1h-2zM12 17h1v1h-1zM14 17h1v1h-1zM20 17h1v1h-1zM33 17h1v1h-1zM0 18h1v1h-1zM6 18h1v1h-1zM8 18h1v1h-1zM23 18h1v1h-1zM27 18h1v1h-1zM2 19h1v1h-1zM12 19h1v1h-1zM41 19h1v1h-1zM1 20h1v1h-1zM13 20h1v1h-1zM3 21h1v1h-1zM15 22h1v1h-1zM15 23h1v1h-1zM0 24h1v1h-1zM5 25h1v1h-1zM13 25h1v1h-1zM22 25h1v1h-1zM25 25h2v1h-2zM15 26h1v1h-1zM34 26h1v1h-1zM2 27h1v1h-1zM31 27h1v1h-1zM2 28h2v1h-2zM13 28h3v1h-3zM3 29h1v1h-1zM15 29h1v1h-1zM33 29h1v1h-1zM1 30h1v1h-1zM12 30h1v1h-1zM1 31h2v1h-2zM8 31h1v1h-1zM35 31h1v1h-1zM19 32h1v1h-1zM31 32h1v1h-1zM3 33h1v1h-1zM11 33h1v1h-1zM31 34h1v1h-1zM11 35h1v1h-1zM22 35h1v1h-1zM31 35h1v1h-1zM34 35h1v1h-1zM3 36h1v1h-1zM19 36h1v1h-1zM2 37h1v1h-1zM6 37h2v1h-2zM13 37h1v1h-1zM7 38h1v1h-1zM12 38h1v1h-1zM18 38h1v1h-1zM5 39h1v1h-1zM14 39h1v1h-1zM17 39h1v1h-1zM14 40h1v1h-1zM19 40h1v1h-1zM2 41h1v1h-1zM30 41h1v1h-1zM34 41h1v1h-1zM2 42h1v1h-1zM10 42h1v1h-1zM12 42h1v1h-1zM36 42h1v1h-1zM40 42h1v1h-1zM2 43h1v1h-1zM6 43h1v1h-1zM8 43h1v1h-1zM13 43h2v1h-2zM5 44h1v1h-1zM13 44h1v1h-1zM0 45h1v1h-1zM2 45h1v1h-1zM11 45h1v1h-1zM13 45h1v1h-1zM0 46h1v1h-1zM2 47h1v1h-1zM13 47h1v1h-1zM2 48h1v1h-1zM11 48h1v1h-1zM14 48h1v1h-1zM21 48h2v1h-2zM24 48h1v1h-1zM30 48h1v1h-1zM34 48h1v1h-1zM39 48h3v1h-3zM1 49h1v1h-1zM3 50h1v1h-1zM13 50h1v1h-1zM15 50h1v1h-1zM19 50h1v1h-1zM6 51h1v1h-1zM11 51h1v1h-1zM0 52h1v1h-1zM3 52h1v1h-1zM5 52h1v1h-1zM11 52h1v1h-1zM15 52h1v1h-1zM7 53h2v1h-2zM15 53h1v1h-1zM30 53h1v1h-1zM1 54h1v1h-1zM8 54h1v1h-1zM2 55h1v1h-1zM22 55h1v1h-1zM2 56h1v1h-1zM20 56h1v1h-1zM1 57h1v1h-1zM13 57h1v1h-1zM15 58h1v1h-1zM2 59h1v1h-1zM15 59h1v1h-1zM6 60h2v1h-2zM13 60h3v1h-3zM15 61h1v1h-1zM19 61h1v1h-1zM30 61h1v1h-1zM0 62h1v1h-1zM2 62h1v1h-1zM11 62h2v1h-2zM10 63h1v1h-1zM12 63h1v1h-1zM17 63h1v1h-1zM15 64h1v1h-1zM28 64h1v1h-1zM13 65h1v1h-1zM15 65h1v1h-1zM35 65h1v1h-1zM14 66h1v1h-1zM5 67h1v1h-1zM12 67h1v1h-1zM2 68h1v1h-1zM8 68h1v1h-1zM28 68h1v1h-1zM32 68h1v1h-1zM11 70h1v1h-1zM13 70h1v1h-1zM0 71h3v1h-3zM8 71h1v1h-1zM0 72h1v1h-1zM7 72h2v1h-2zM13 72h1v1h-1zM15 72h1v1h-1zM1 73h1v1h-1zM3 73h1v1h-1zM8 74h1v1h-1zM11 74h1v1h-1zM28 74h1v1h-1zM5 75h1v1h-1zM10 75h3v1h-3zM15 75h1v1h-1zM1 76h1v1h-1zM15 76h1v1h-1zM37 76h1v1h-1zM6 77h1v1h-1zM19 77h1v1h-1zM8 78h1v1h-1zM11 78h1v1h-1zM3 79h1v1h-1zM9 79h1v1h-1zM0 80h1v1h-1zM5 80h1v1h-1zM12 80h1v1h-1zM30 80h1v1h-1zM0 81h2v1h-2zM33 81h1v1h-1zM6 82h1v1h-1zM11 82h1v1h-1zM5 83h1v1h-1zM1 84h1v1h-1zM3 84h1v1h-1zM10 84h2v1h-2zM15 84h1v1h-1zM18 84h1v1h-1zM1 85h2v1h-2zM5 85h1v1h-1zM12 85h1v1h-1zM15 85h1v1h-1zM5 86h1v1h-1zM11 86h1v1h-1zM8 87h1v1h-1zM12 87h2v1h-2zM33 87h1v1h-1zM0 88h1v1h-1zM8 88h2v1h-2zM18 88h1v1h-1zM1 89h1v1h-1zM0 90h1v1h-1zM5 90h1v1h-1zM11 90h1v1h-1zM15 90h1v1h-1zM19 90h1v1h-1zM2 91h1v1h-1zM5 91h1v1h-1zM3 92h1v1h-1zM5 92h1v1h-1zM19 92h1v1h-1zM30 92h1v1h-1zM18 93h1v1h-1zM11 94h1v1h-1zM14 94h1v1h-1zM20 94h1v1h-1zM6 97h1v1h-1zM14 97h1v1h-1zM16 97h1v1h-1zM12 98h2v1h-2zM3 99h1v1h-1zM11 99h1v1h-1zM17 99h2v1h-2zM20 99h1v1h-1zM15 100h1v1h-1zM18 100h1v1h-1zM20 100h1v1h-1zM17 101h1v1h-1zM8 102h1v1h-1zM8 103h1v1h-1zM13 103h1v1h-1zM15 103h1v1h-1zM13 106h2v1h-2zM17 106h1v1h-1zM14 107h1v1h-1zM13 108h1v1h-1zM13 109h1v1h-1zM13 110h2v1h-2zM30 110h1v1h-1zM38 110h1v1h-1zM11 111h1v1h-1zM17 111h1v1h-1zM31 111h1v1h-1zM33 111h1v1h-1zM15 112h1v1h-1zM5 113h2v1h-2zM11 113h1v1h-1zM15 113h1v1h-1zM10 114h1v1h-1zM17 114h1v1h-1zM4 115h1v1h-1zM28 115h1v1h-1zM11 116h1v1h-1zM13 116h2v1h-2zM6 117h1v1h-1zM17 117h1v1h-1zM15 118h1v1h-1zM17 118h1v1h-1zM11 119h1v1h-1zM18 119h1v1h-1zM17 121h2v1h-2zM20 121h1v1h-1zM15 122h1v1h-1zM14 123h1v1h-1zM17 123h1v1h-1zM8 124h1v1h-1zM14 124h1v1h-1zM11 125h1v1h-1zM13 125h1v1h-1zM16 125h1v1h-1zM4 126h1v1h-1zM8 126h1v1h-1zM14 126h1v1h-1zM13 127h3v1h-3zM4 128h1v1h-1zM16 128h1v1h-1zM12 129h1v1h-1zM6 131h1v1h-1zM10 131h1v1h-1zM12 131h1v1h-1zM15 131h2v1h-2zM18 131h1v1h-1zM20 131h1v1h-1zM2 132h1v1h-1zM15 132h1v1h-1zM18 132h1v1h-1zM1 133h1v1h-1zM15 133h1v1h-1zM29 133h1v1h-1zM33 134h1v1h-1zM5 135h1v1h-1zM15 135h1v1h-1zM20 135h1v1h-1zM40 135h1v1h-1zM5 136h1v1h-1zM11 136h1v1h-1zM14 136h1v1h-1zM17 136h1v1h-1zM28 136h1v1h-1zM2 137h1v1h-1zM5 137h2v1h-2zM28 137h1v1h-1zM30 137h1v1h-1zM6 138h1v1h-1zM10 138h1v1h-1zM18 138h1v1h-1zM0 139h2v1h-2zM11 139h1v1h-1zM13 139h1v1h-1zM15 139h1v1h-1zM10 140h1v1h-1zM18 141h1v1h-1z"/><path fill="#f2f2ff" d="M5 0h1v1h-1zM7 0h1v1h-1zM1 1h1v1h-1zM6 1h1v1h-1zM2 2h2v1h-2zM8 2h1v1h-1zM22 2h1v1h-1zM8 3h1v1h-1zM20 3h1v1h-1zM0 4h2v1h-2zM14 4h1v1h-1zM20 4h1v1h-1zM21 4h1v1h-1zM41 4h1v1h-1zM2 5h1v1h-1zM32 5h1v1h-1zM40 5h1v1h-1zM0 6h1v1h-1zM11 6h1v1h-1zM41 6h1v1h-1zM0 7h1v1h-1zM5 7h1v1h-1zM10 7h2v1h-2zM13 7h1v1h-1zM18 7h1v1h-1zM2 8h1v1h-1zM6 8h1v1h-1zM36 8h1v1h-1zM1 10h1v1h-1zM12 10h1v1h-1zM14 10h1v1h-1zM1 11h1v1h-1zM3 11h1v1h-1zM11 11h1v1h-1zM14 12h1v1h-1zM17 12h1v1h-1zM30 12h1v1h-1zM10 13h1v1h-1zM31 13h3v1h-3zM8 14h1v1h-1zM8 15h1v1h-1zM10 15h1v1h-1zM2 16h1v1h-1zM5 16h1v1h-1zM2 17h2v1h-2zM11 17h1v1h-1zM13 17h1v1h-1zM3 18h1v1h-1zM5 18h1v1h-1zM9 18h1v1h-1zM12 18h1v1h-1zM14 18h1v1h-1zM19 18h1v1h-1zM21 18h1v1h-1zM24 18h1v1h-1zM5 19h1v1h-1zM8 19h1v1h-1zM19 19h1v1h-1zM29 19h1v1h-1zM0 20h1v1h-1zM5 20h1v1h-1zM7 20h1v1h-1zM10 20h1v1h-1zM14 20h1v1h-1zM11 21h1v1h-1zM8 22h1v1h-1zM12 22h1v1h-1zM18 22h1v1h-1zM4 23h1v1h-1zM7 23h1v1h-1zM10 23h2v1h-2zM16 23h1v1h-1zM20 23h1v1h-1zM11 24h1v1h-1zM33 25h1v1h-1zM2 26h1v1h-1zM5 26h1v1h-1zM13 26h1v1h-1zM30 26h1v1h-1zM8 27h1v1h-1zM12 27h2v1h-2zM28 27h2v1h-2zM1 28h1v1h-1zM8 28h1v1h-1zM12 28h1v1h-1zM20 28h1v1h-1zM5 29h1v1h-1zM14 29h1v1h-1zM18 29h2v1h-2zM5 30h1v1h-1zM14 30h1v1h-1zM14 31h1v1h-1zM0 32h1v1h-1zM2 32h1v1h-1zM5 32h1v1h-1zM0 33h2v1h-2zM10 33h1v1h-1zM15 33h1v1h-1zM10 34h1v1h-1zM12 34h2v1h-2zM28 34h1v1h-1zM1 35h1v1h-1zM3 35h1v1h-1zM5 35h1v1h-1zM28 35h3v1h-3zM33 35h1v1h-1zM2 36h1v1h-1zM14 37h1v1h-1zM19 37h1v1h-1zM0 38h1v1h-1zM5 38h1v1h-1zM14 38h1v1h-1zM1 39h1v1h-1zM3 39h1v1h-1zM8 39h1v1h-1zM2 40h2v1h-2zM10 40h1v1h-1zM28 40h1v1h-1zM3 41h1v1h-1zM18 41h1v1h-1zM28 41h1v1h-1zM1 42h1v1h-1zM8 42h1v1h-1zM32 42h1v1h-1zM3 43h1v1h-1zM15 43h1v1h-1zM19 43h1v1h-1zM37 43h1v1h-1zM0 44h2v1h-2zM6 44h2v1h-2zM11 44h1v1h-1zM3 45h1v1h-1zM5 45h1v1h-1zM14 45h1v1h-1zM5 46h1v1h-1zM11 46h1v1h-1zM1 47h1v1h-1zM3 47h1v1h-1zM8 47h1v1h-1zM11 47h1v1h-1zM29 47h1v1h-1zM0 48h1v1h-1zM5 48h1v1h-1zM13 48h1v1h-1zM18 48h1v1h-1zM0 49h1v1h-1zM3 49h1v1h-1zM8 49h1v1h-1zM11 49h2v1h-2zM15 49h1v1h-1zM11 50h1v1h-1zM2 51h1v1h-1zM5 51h1v1h-1zM12 51h1v1h-1zM15 51h1v1h-1zM1 53h1v1h-1zM5 53h2v1h-2zM17 54h1v1h-1zM19 54h1v1h-1zM10 55h1v1h-1zM13 55h1v1h-1zM15 55h1v1h-1zM19 55h1v1h-1zM25 55h1v1h-1zM27 55h1v1h-1zM0 56h1v1h-1zM6 56h1v1h-1zM8 56h1v1h-1zM2 57h1v1h-1zM5 57h2v1h-2zM14 57h1v1h-1zM18 57h1v1h-1zM8 60h1v1h-1zM2 61h2v1h-2zM20 61h1v1h-1zM0 63h2v1h-2zM5 63h1v1h-1zM13 63h1v1h-1zM1 64h1v1h-1zM17 64h2v1h-2zM1 65h1v1h-1zM5 65h1v1h-1zM11 65h1v1h-1zM10 66h1v1h-1zM2 67h1v1h-1zM10 67h1v1h-1zM3 68h1v1h-1zM10 68h3v1h-3zM14 68h1v1h-1zM33 68h1v1h-1zM38 68h1v1h-1zM5 69h2v1h-2zM11 69h1v1h-1zM19 69h1v1h-1zM8 70h1v1h-1zM10 70h1v1h-1zM37 70h1v1h-1zM7 71h1v1h-1zM14 71h1v1h-1zM18 71h1v1h-1zM1 72h1v1h-1zM33 72h1v1h-1zM2 74h1v1h-1zM18 74h1v1h-1zM2 75h1v1h-1zM8 76h1v1h-1zM12 76h1v1h-1zM18 76h2v1h-2zM1 77h1v1h-1zM3 77h1v1h-1zM5 77h1v1h-1zM0 78h1v1h-1zM13 79h1v1h-1zM19 79h1v1h-1zM27 79h1v1h-1zM29 80h1v1h-1zM37 80h1v1h-1zM3 81h1v1h-1zM6 81h1v1h-1zM10 81h1v1h-1zM19 81h1v1h-1zM0 82h1v1h-1zM13 82h3v1h-3zM18 82h1v1h-1zM1 83h1v1h-1zM18 83h1v1h-1zM0 84h1v1h-1zM14 84h1v1h-1zM29 84h1v1h-1zM32 84h1v1h-1zM40 84h1v1h-1zM16 85h1v1h-1zM0 86h1v1h-1zM2 86h1v1h-1zM2 87h1v1h-1zM11 87h1v1h-1zM14 87h2v1h-2zM18 87h1v1h-1zM35 87h1v1h-1zM13 88h1v1h-1zM13 89h1v1h-1zM15 89h1v1h-1zM6 90h1v1h-1zM8 90h1v1h-1zM4 91h1v1h-1zM10 91h1v1h-1zM1 92h1v1h-1zM6 92h1v1h-1zM10 92h1v1h-1zM0 93h1v1h-1zM14 93h2v1h-2zM19 93h1v1h-1zM0 94h1v1h-1zM5 94h2v1h-2zM8 94h1v1h-1zM15 94h1v1h-1zM4 95h1v1h-1zM7 95h2v1h-2zM0 96h1v1h-1zM12 96h1v1h-1zM5 97h1v1h-1zM10 97h1v1h-1zM12 97h1v1h-1zM18 97h1v1h-1zM15 98h1v1h-1zM13 99h2v1h-2zM8 100h1v1h-1zM1 101h1v1h-1zM15 101h1v1h-1zM18 101h1v1h-1zM11 102h1v1h-1zM10 103h1v1h-1zM17 103h1v1h-1zM8 104h1v1h-1zM13 104h1v1h-1zM18 104h1v1h-1zM6 105h1v1h-1zM13 105h1v1h-1zM16 105h3v1h-3zM2 106h1v1h-1zM15 106h1v1h-1zM18 106h1v1h-1zM8 107h1v1h-1zM15 107h1v1h-1zM17 107h2v1h-2zM5 108h1v1h-1zM12 108h1v1h-1zM15 108h1v1h-1zM14 109h1v1h-1zM17 109h1v1h-1zM11 110h1v1h-1zM32 110h1v1h-1zM34 110h2v1h-2zM40 110h1v1h-1zM10 112h2v1h-2zM8 113h1v1h-1zM13 113h1v1h-1zM11 114h1v1h-1zM9 115h1v1h-1zM23 115h3v1h-3zM27 115h1v1h-1zM31 115h1v1h-1zM10 116h1v1h-1zM17 116h1v1h-1zM14 117h1v1h-1zM18 117h1v1h-1zM20 117h1v1h-1zM12 118h3v1h-3zM20 118h1v1h-1zM13 119h1v1h-1zM14 120h1v1h-1zM20 120h1v1h-1zM5 121h1v1h-1zM10 121h1v1h-1zM13 121h1v1h-1zM12 122h1v1h-1zM14 122h1v1h-1zM12 123h1v1h-1zM15 123h1v1h-1zM18 124h1v1h-1zM20 124h1v1h-1zM12 126h2v1h-2zM31 126h1v1h-1zM17 127h1v1h-1zM5 128h1v1h-1zM14 128h1v1h-1zM17 128h1v1h-1zM20 128h1v1h-1zM36 128h1v1h-1zM14 129h1v1h-1zM18 129h1v1h-1zM37 130h1v1h-1zM39 130h1v1h-1zM1 131h2v1h-2zM8 131h1v1h-1zM11 131h1v1h-1zM6 132h1v1h-1zM17 132h1v1h-1zM20 132h1v1h-1zM12 133h1v1h-1zM17 133h2v1h-2zM5 134h1v1h-1zM11 134h1v1h-1zM15 134h1v1h-1zM2 135h1v1h-1zM4 135h1v1h-1zM38 135h2v1h-2zM2 136h1v1h-1zM13 136h1v1h-1zM15 136h1v1h-1zM11 137h1v1h-1zM18 137h1v1h-1zM32 137h1v1h-1zM7 138h1v1h-1zM2 139h1v1h-1zM15 140h2v1h-2zM6 141h1v1h-1zM17 141h1v1h-1zM20 141h1v1h-1zM37 141h1v1h-1z"/><path fill="#ffffff" d="M2 0h1v1h-1zM6 0h1v1h-1zM8 0h1v1h-1zM20 0h1v1h-1zM2 1h1v1h-1zM5 1h1v1h-1zM10 1h1v1h-1zM19 1h1v1h-1zM10 2h1v1h-1zM12 2h1v1h-1zM5 3h2v1h-2zM10 3h1v1h-1zM10 4h2v1h-2zM13 4h1v1h-1zM5 5h2v1h-2zM29 5h1v1h-1zM6 6h1v1h-1zM12 6h1v1h-1zM14 6h1v1h-1zM12 7h1v1h-1zM0 8h1v1h-1zM8 8h1v1h-1zM12 8h1v1h-1zM1 9h2v1h-2zM8 9h1v1h-1zM10 9h1v1h-1zM20 9h1v1h-1zM11 10h1v1h-1zM5 11h1v1h-1zM8 11h1v1h-1zM15 11h1v1h-1zM2 12h1v1h-1zM5 12h2v1h-2zM32 12h1v1h-1zM6 13h1v1h-1zM13 13h1v1h-1zM0 14h1v1h-1zM12 14h2v1h-2zM11 15h1v1h-1zM14 16h1v1h-1zM18 16h1v1h-1zM8 17h1v1h-1zM10 18h1v1h-1zM13 18h1v1h-1zM20 18h1v1h-1zM3 19h1v1h-1zM13 19h1v1h-1zM20 19h1v1h-1zM32 19h1v1h-1zM3 20h1v1h-1zM15 20h2v1h-2zM19 20h1v1h-1zM2 21h1v1h-1zM8 21h1v1h-1zM13 21h1v1h-1zM3 22h1v1h-1zM2 23h1v1h-1zM12 24h1v1h-1zM14 24h1v1h-1zM16 24h1v1h-1zM19 24h1v1h-1zM6 25h1v1h-1zM8 25h1v1h-1zM14 25h1v1h-1zM21 25h1v1h-1zM23 25h1v1h-1zM28 26h1v1h-1zM31 26h1v1h-1zM14 27h1v1h-1zM17 27h1v1h-1zM33 27h2v1h-2zM6 28h1v1h-1zM11 28h1v1h-1zM2 29h1v1h-1zM11 29h1v1h-1zM3 30h1v1h-1zM6 30h1v1h-1zM5 31h1v1h-1zM13 31h1v1h-1zM15 31h1v1h-1zM10 32h1v1h-1zM14 32h1v1h-1zM20 32h1v1h-1zM12 33h1v1h-1zM3 34h1v1h-1zM6 34h1v1h-1zM11 34h1v1h-1zM18 34h1v1h-1zM30 34h1v1h-1zM34 34h1v1h-1zM6 35h1v1h-1zM12 35h3v1h-3zM19 35h1v1h-1zM10 36h1v1h-1zM14 36h2v1h-2zM20 36h1v1h-1zM11 37h2v1h-2zM2 38h1v1h-1zM6 38h1v1h-1zM13 38h1v1h-1zM2 39h1v1h-1zM11 39h1v1h-1zM11 40h1v1h-1zM29 40h1v1h-1zM32 40h1v1h-1zM11 41h1v1h-1zM14 41h1v1h-1zM19 41h1v1h-1zM11 42h1v1h-1zM14 42h1v1h-1zM31 42h1v1h-1zM39 42h1v1h-1zM0 43h2v1h-2zM5 43h1v1h-1zM30 43h1v1h-1zM10 44h1v1h-1zM17 44h1v1h-1zM20 44h1v1h-1zM18 45h1v1h-1zM3 46h1v1h-1zM8 46h1v1h-1zM10 46h1v1h-1zM13 46h1v1h-1zM6 47h1v1h-1zM12 47h1v1h-1zM14 47h1v1h-1zM1 48h1v1h-1zM3 48h1v1h-1zM36 48h1v1h-1zM38 48h1v1h-1zM16 49h1v1h-1zM18 49h2v1h-2zM20 50h1v1h-1zM29 51h1v1h-1zM6 52h1v1h-1zM14 52h1v1h-1zM18 52h1v1h-1zM10 53h1v1h-1zM14 53h1v1h-1zM0 54h1v1h-1zM6 54h1v1h-1zM3 55h1v1h-1zM8 55h1v1h-1zM11 55h2v1h-2zM26 55h1v1h-1zM10 56h1v1h-1zM12 56h1v1h-1zM10 57h1v1h-1zM3 58h1v1h-1zM17 59h1v1h-1zM1 60h1v1h-1zM3 60h1v1h-1zM11 60h1v1h-1zM11 61h1v1h-1zM13 62h2v1h-2zM17 62h2v1h-2zM11 63h1v1h-1zM15 63h1v1h-1zM5 64h1v1h-1zM8 64h1v1h-1zM14 64h1v1h-1zM2 65h1v1h-1zM8 65h1v1h-1zM12 65h1v1h-1zM6 66h1v1h-1zM8 66h1v1h-1zM0 67h2v1h-2zM8 67h1v1h-1zM11 67h1v1h-1zM19 67h2v1h-2zM19 68h1v1h-1zM36 68h1v1h-1zM0 69h2v1h-2zM10 69h1v1h-1zM13 69h1v1h-1zM0 70h1v1h-1zM14 70h1v1h-1zM17 70h1v1h-1zM11 71h1v1h-1zM6 73h1v1h-1zM10 73h2v1h-2zM15 73h1v1h-1zM18 73h1v1h-1zM1 74h1v1h-1zM5 74h1v1h-1zM10 74h1v1h-1zM12 74h1v1h-1zM1 75h1v1h-1zM34 75h1v1h-1zM6 76h1v1h-1zM13 76h1v1h-1zM0 77h1v1h-1zM12 77h1v1h-1zM3 78h1v1h-1zM7 78h1v1h-1zM13 78h1v1h-1zM15 78h2v1h-2zM19 78h1v1h-1zM5 79h1v1h-1zM10 79h1v1h-1zM14 79h1v1h-1zM16 79h1v1h-1zM6 80h1v1h-1zM8 80h1v1h-1zM13 80h1v1h-1zM15 80h1v1h-1zM34 80h1v1h-1zM5 81h1v1h-1zM5 82h1v1h-1zM8 82h1v1h-1zM19 82h1v1h-1zM4 83h1v1h-1zM7 83h1v1h-1zM11 83h1v1h-1zM13 83h1v1h-1zM19 83h1v1h-1zM19 84h1v1h-1zM3 85h1v1h-1zM14 85h1v1h-1zM1 86h1v1h-1zM5 87h1v1h-1zM28 87h3v1h-3zM6 88h1v1h-1zM12 88h1v1h-1zM14 88h1v1h-1zM19 88h2v1h-2zM3 89h1v1h-1zM11 89h1v1h-1zM18 89h1v1h-1zM3 90h1v1h-1zM10 90h1v1h-1zM17 90h1v1h-1zM20 91h1v1h-1zM10 93h2v1h-2zM20 93h1v1h-1zM1 94h1v1h-1zM6 95h1v1h-1zM10 95h2v1h-2zM14 95h1v1h-1zM16 95h1v1h-1zM18 95h1v1h-1zM13 96h1v1h-1zM18 96h1v1h-1zM11 97h1v1h-1zM11 98h1v1h-1zM17 98h2v1h-2zM8 99h1v1h-1zM2 100h1v1h-1zM11 100h1v1h-1zM17 100h1v1h-1zM12 101h1v1h-1zM6 102h1v1h-1zM10 102h1v1h-1zM12 102h1v1h-1zM14 102h1v1h-1zM12 103h1v1h-1zM12 104h1v1h-1zM8 105h1v1h-1zM14 105h1v1h-1zM0 107h1v1h-1zM5 107h1v1h-1zM13 107h1v1h-1zM8 108h1v1h-1zM10 109h2v1h-2zM18 109h1v1h-1zM5 110h1v1h-1zM12 110h1v1h-1zM15 110h2v1h-2zM18 110h1v1h-1zM1 111h1v1h-1zM15 111h1v1h-1zM18 111h1v1h-1zM32 111h1v1h-1zM12 112h1v1h-1zM12 113h1v1h-1zM18 113h1v1h-1zM6 114h1v1h-1zM14 114h2v1h-2zM5 115h1v1h-1zM10 115h1v1h-1zM14 115h1v1h-1zM18 115h1v1h-1zM8 116h1v1h-1zM12 117h1v1h-1zM2 118h1v1h-1zM12 119h1v1h-1zM12 120h1v1h-1zM15 120h1v1h-1zM11 121h2v1h-2zM6 122h1v1h-1zM8 122h1v1h-1zM11 122h1v1h-1zM2 123h1v1h-1zM16 123h1v1h-1zM21 123h1v1h-1zM13 124h1v1h-1zM8 125h1v1h-1zM5 126h1v1h-1zM15 126h1v1h-1zM10 127h1v1h-1zM0 128h1v1h-1zM37 128h1v1h-1zM40 128h1v1h-1zM0 129h1v1h-1zM9 129h1v1h-1zM2 130h1v1h-1zM8 130h1v1h-1zM15 130h1v1h-1zM36 130h1v1h-1zM0 131h1v1h-1zM17 131h1v1h-1zM19 132h1v1h-1zM3 133h1v1h-1zM10 133h1v1h-1zM1 134h1v1h-1zM8 134h1v1h-1zM31 134h1v1h-1zM0 135h2v1h-2zM13 135h1v1h-1zM18 136h1v1h-1zM30 136h2v1h-2zM16 137h2v1h-2zM1 138h1v1h-1zM13 138h1v1h-1zM8 139h1v1h-1zM10 139h1v1h-1zM14 139h1v1h-1zM5 140h3v1h-3zM12 140h1v1h-1zM3 141h1v1h-1zM10 141h1v1h-1zM13 141h1v1h-1z"/><path fill="#fff2f2" d="M12 0h1v1h-1zM11 2h1v1h-1zM17 2h1v1h-1zM11 3h1v1h-1zM14 3h1v1h-1zM5 4h1v1h-1zM12 4h1v1h-1zM10 5h1v1h-1zM20 5h1v1h-1zM24 5h1v1h-1zM30 5h1v1h-1zM3 6h1v1h-1zM5 6h1v1h-1zM18 6h1v1h-1zM17 7h1v1h-1zM3 8h1v1h-1zM19 8h2v1h-2zM13 9h1v1h-1zM8 10h1v1h-1zM20 10h1v1h-1zM6 11h1v1h-1zM18 11h1v1h-1zM20 12h1v1h-1zM8 13h1v1h-1zM14 13h1v1h-1zM17 13h1v1h-1zM3 14h1v1h-1zM5 14h2v1h-2zM11 14h1v1h-1zM20 14h1v1h-1zM3 15h1v1h-1zM6 15h1v1h-1zM14 15h1v1h-1zM17 15h1v1h-1zM0 16h1v1h-1zM6 16h1v1h-1zM8 16h1v1h-1zM6 17h1v1h-1zM19 17h1v1h-1zM1 18h1v1h-1zM4 18h1v1h-1zM10 19h1v1h-1zM17 21h1v1h-1zM6 22h1v1h-1zM10 22h1v1h-1zM0 23h2v1h-2zM3 23h1v1h-1zM8 23h1v1h-1zM3 24h1v1h-1zM7 24h1v1h-1zM15 24h1v1h-1zM36 24h1v1h-1zM3 25h1v1h-1zM10 25h3v1h-3zM16 25h1v1h-1zM27 25h1v1h-1zM39 25h1v1h-1zM18 26h1v1h-1zM0 27h1v1h-1zM3 27h1v1h-1zM17 28h1v1h-1zM1 29h1v1h-1zM12 29h1v1h-1zM8 30h1v1h-1zM11 30h1v1h-1zM15 30h1v1h-1zM18 30h3v1h-3zM12 31h1v1h-1zM3 32h1v1h-1zM8 32h1v1h-1zM11 32h2v1h-2zM8 33h1v1h-1zM20 34h1v1h-1zM0 35h1v1h-1zM17 35h1v1h-1zM1 36h1v1h-1zM6 36h1v1h-1zM12 36h1v1h-1zM1 37h1v1h-1zM3 37h1v1h-1zM8 37h1v1h-1zM10 37h1v1h-1zM1 38h1v1h-1zM0 39h1v1h-1zM12 40h1v1h-1zM15 40h1v1h-1zM18 40h1v1h-1zM20 40h1v1h-1zM31 40h1v1h-1zM5 41h1v1h-1zM8 41h1v1h-1zM13 42h1v1h-1zM17 42h1v1h-1zM19 42h1v1h-1zM35 42h1v1h-1zM12 43h1v1h-1zM18 43h1v1h-1zM32 43h1v1h-1zM12 44h1v1h-1zM17 47h2v1h-2zM9 48h1v1h-1zM15 48h1v1h-1zM19 48h2v1h-2zM32 48h1v1h-1zM10 49h1v1h-1zM17 49h1v1h-1zM18 50h1v1h-1zM8 51h1v1h-1zM16 51h1v1h-1zM32 51h1v1h-1zM7 52h2v1h-2zM10 52h1v1h-1zM20 52h1v1h-1zM12 54h1v1h-1zM18 54h1v1h-1zM20 54h1v1h-1zM9 55h1v1h-1zM14 55h1v1h-1zM18 55h1v1h-1zM21 55h1v1h-1zM1 58h1v1h-1zM17 58h1v1h-1zM3 59h1v1h-1zM10 59h1v1h-1zM18 59h1v1h-1zM6 61h1v1h-1zM12 61h1v1h-1zM18 61h1v1h-1zM37 61h1v1h-1zM1 62h1v1h-1zM3 62h1v1h-1zM20 62h1v1h-1zM8 63h1v1h-1zM0 64h1v1h-1zM6 64h1v1h-1zM11 64h3v1h-3zM12 66h2v1h-2zM17 66h1v1h-1zM3 67h1v1h-1zM1 68h1v1h-1zM18 68h1v1h-1zM35 68h1v1h-1zM2 69h1v1h-1zM12 70h1v1h-1zM10 71h1v1h-1zM10 72h1v1h-1zM12 72h1v1h-1zM7 73h1v1h-1zM16 73h1v1h-1zM19 73h1v1h-1zM3 74h1v1h-1zM17 74h1v1h-1zM29 75h1v1h-1zM31 75h1v1h-1zM3 76h1v1h-1zM11 76h1v1h-1zM8 77h1v1h-1zM11 77h1v1h-1zM20 77h1v1h-1zM4 79h1v1h-1zM6 79h1v1h-1zM17 79h2v1h-2zM20 79h1v1h-1zM17 80h1v1h-1zM31 80h2v1h-2zM11 81h1v1h-1zM15 81h1v1h-1zM18 81h1v1h-1zM3 82h1v1h-1zM12 82h1v1h-1zM12 83h1v1h-1zM15 83h1v1h-1zM5 84h1v1h-1zM8 84h1v1h-1zM20 84h1v1h-1zM6 85h1v1h-1zM10 85h1v1h-1zM13 85h1v1h-1zM19 85h1v1h-1zM3 86h1v1h-1zM7 86h2v1h-2zM16 86h1v1h-1zM18 86h1v1h-1zM5 88h1v1h-1zM5 89h1v1h-1zM12 89h1v1h-1zM20 89h1v1h-1zM18 90h1v1h-1zM3 91h1v1h-1zM11 91h2v1h-2zM8 92h1v1h-1zM11 92h1v1h-1zM14 92h1v1h-1zM2 93h1v1h-1zM12 93h1v1h-1zM10 94h1v1h-1zM18 94h1v1h-1zM3 95h1v1h-1zM5 95h1v1h-1zM19 95h1v1h-1zM5 96h2v1h-2zM11 96h1v1h-1zM8 98h1v1h-1zM14 98h1v1h-1zM5 99h1v1h-1zM6 100h1v1h-1zM3 101h1v1h-1zM6 101h1v1h-1zM10 101h1v1h-1zM0 102h1v1h-1zM13 102h1v1h-1zM1 103h1v1h-1zM5 104h2v1h-2zM10 104h1v1h-1zM15 104h1v1h-1zM3 105h1v1h-1zM12 105h1v1h-1zM0 106h1v1h-1zM8 106h1v1h-1zM20 106h1v1h-1zM6 107h1v1h-1zM10 107h1v1h-1zM20 107h1v1h-1zM2 108h1v1h-1zM10 108h2v1h-2zM14 108h1v1h-1zM5 109h1v1h-1zM15 109h1v1h-1zM20 109h1v1h-1zM3 110h1v1h-1zM10 110h1v1h-1zM36 110h1v1h-1zM2 111h1v1h-1zM8 111h1v1h-1zM13 111h1v1h-1zM0 112h1v1h-1zM6 112h1v1h-1zM3 113h1v1h-1zM13 114h1v1h-1zM20 114h1v1h-1zM25 114h1v1h-1zM11 115h2v1h-2zM16 115h1v1h-1zM20 115h1v1h-1zM0 116h2v1h-2zM5 116h2v1h-2zM12 116h1v1h-1zM3 117h1v1h-1zM5 117h1v1h-1zM15 117h1v1h-1zM10 119h1v1h-1zM15 119h1v1h-1zM0 120h1v1h-1zM6 121h1v1h-1zM13 122h1v1h-1zM1 123h1v1h-1zM8 123h1v1h-1zM15 124h1v1h-1zM2 126h1v1h-1zM11 126h1v1h-1zM3 127h1v1h-1zM5 127h1v1h-1zM8 127h1v1h-1zM20 127h1v1h-1zM13 128h1v1h-1zM15 128h1v1h-1zM6 129h1v1h-1zM11 130h1v1h-1zM11 132h1v1h-1zM2 133h1v1h-1zM8 133h1v1h-1zM11 133h1v1h-1zM16 133h1v1h-1zM3 134h1v1h-1zM16 134h1v1h-1zM32 134h1v1h-1zM7 135h1v1h-1zM18 135h1v1h-1zM41 135h1v1h-1zM6 136h1v1h-1zM10 137h1v1h-1zM31 137h1v1h-1zM34 137h1v1h-1zM2 138h1v1h-1zM5 138h1v1h-1zM15 138h1v1h-1zM19 138h1v1h-1zM7 139h1v1h-1zM20 139h1v1h-1zM11 140h1v1h-1zM13 140h1v1h-1zM37 140h1v1h-1zM8 141h1v1h-1zM11 141h1v1h-1z"/><path fill="#ffe6e6" d="M3 1h1v1h-1zM11 1h2v1h-2zM4 2h1v1h-1zM13 2h1v1h-1zM13 3h1v1h-1zM3 4h1v1h-1zM6 4h1v1h-1zM8 4h1v1h-1zM17 4h1v1h-1zM20 6h1v1h-1zM17 8h1v1h-1zM12 9h1v1h-1zM19 10h1v1h-1zM27 10h1v1h-1zM8 12h1v1h-1zM16 12h1v1h-1zM12 13h1v1h-1zM20 13h1v1h-1zM18 14h1v1h-1zM13 15h1v1h-1zM18 15h1v1h-1zM20 15h1v1h-1zM13 16h1v1h-1zM19 16h1v1h-1zM17 17h2v1h-2zM11 18h1v1h-1zM17 18h2v1h-2zM37 18h1v1h-1zM1 19h1v1h-1zM18 19h1v1h-1zM6 20h1v1h-1zM18 20h1v1h-1zM12 21h1v1h-1zM19 21h1v1h-1zM20 22h1v1h-1zM19 23h1v1h-1zM33 23h1v1h-1zM6 24h1v1h-1zM17 24h1v1h-1zM15 25h1v1h-1zM10 26h1v1h-1zM17 26h1v1h-1zM20 26h1v1h-1zM6 27h1v1h-1zM11 27h1v1h-1zM16 27h1v1h-1zM19 27h1v1h-1zM32 27h1v1h-1zM18 28h1v1h-1zM6 31h1v1h-1zM11 31h1v1h-1zM17 31h1v1h-1zM9 32h1v1h-1zM19 33h2v1h-2zM5 34h1v1h-1zM10 35h1v1h-1zM11 36h1v1h-1zM16 36h1v1h-1zM18 36h1v1h-1zM18 37h1v1h-1zM20 37h1v1h-1zM20 38h1v1h-1zM6 39h1v1h-1zM12 39h1v1h-1zM6 40h2v1h-2zM10 41h1v1h-1zM6 42h1v1h-1zM20 42h1v1h-1zM10 43h2v1h-2zM18 44h1v1h-1zM12 46h1v1h-1zM15 46h1v1h-1zM17 46h2v1h-2zM6 48h1v1h-1zM37 48h1v1h-1zM7 49h1v1h-1zM13 49h1v1h-1zM8 50h1v1h-1zM17 50h1v1h-1zM0 51h2v1h-2zM28 51h1v1h-1zM16 52h1v1h-1zM3 53h1v1h-1zM13 53h1v1h-1zM31 53h1v1h-1zM10 54h1v1h-1zM13 54h1v1h-1zM0 55h1v1h-1zM4 55h1v1h-1zM16 55h2v1h-2zM11 56h1v1h-1zM3 57h1v1h-1zM8 57h1v1h-1zM13 58h2v1h-2zM18 58h1v1h-1zM20 58h1v1h-1zM8 59h1v1h-1zM16 60h1v1h-1zM18 60h1v1h-1zM20 60h1v1h-1zM0 61h1v1h-1zM5 61h1v1h-1zM17 61h1v1h-1zM5 62h1v1h-1zM16 63h1v1h-1zM20 63h1v1h-1zM3 64h1v1h-1zM20 64h1v1h-1zM6 65h1v1h-1zM10 65h1v1h-1zM18 65h1v1h-1zM20 65h1v1h-1zM0 66h1v1h-1zM11 66h1v1h-1zM16 66h1v1h-1zM19 66h2v1h-2zM13 67h1v1h-1zM17 67h2v1h-2zM0 68h1v1h-1zM17 68h1v1h-1zM30 68h1v1h-1zM34 68h1v1h-1zM37 68h1v1h-1zM3 69h1v1h-1zM12 69h1v1h-1zM15 69h1v1h-1zM20 69h1v1h-1zM5 70h1v1h-1zM18 70h1v1h-1zM20 70h1v1h-1zM3 71h1v1h-1zM2 72h1v1h-1zM11 72h1v1h-1zM17 72h1v1h-1zM20 72h1v1h-1zM20 73h1v1h-1zM19 74h1v1h-1zM3 75h1v1h-1zM28 75h1v1h-1zM17 76h1v1h-1zM18 77h1v1h-1zM6 78h1v1h-1zM12 78h1v1h-1zM18 78h1v1h-1zM20 78h1v1h-1zM11 79h1v1h-1zM3 80h1v1h-1zM11 80h1v1h-1zM12 81h1v1h-1zM17 81h1v1h-1zM7 82h1v1h-1zM10 82h1v1h-1zM17 82h1v1h-1zM20 82h1v1h-1zM29 82h1v1h-1zM8 83h1v1h-1zM14 83h1v1h-1zM16 83h2v1h-2zM6 84h1v1h-1zM12 84h1v1h-1zM33 84h1v1h-1zM11 85h1v1h-1zM17 86h1v1h-1zM19 86h1v1h-1zM3 87h1v1h-1zM3 88h1v1h-1zM14 89h1v1h-1zM19 91h1v1h-1zM13 92h1v1h-1zM12 94h1v1h-1zM17 94h1v1h-1zM15 95h1v1h-1zM20 95h1v1h-1zM30 95h1v1h-1zM8 97h1v1h-1zM15 97h1v1h-1zM10 99h1v1h-1zM3 100h1v1h-1zM5 100h1v1h-1zM20 101h1v1h-1zM3 103h1v1h-1zM6 103h1v1h-1zM20 103h1v1h-1zM14 104h1v1h-1zM5 105h1v1h-1zM6 106h1v1h-1zM10 106h1v1h-1zM1 107h2v1h-2zM11 107h1v1h-1zM1 108h1v1h-1zM3 108h1v1h-1zM3 109h1v1h-1zM6 109h1v1h-1zM2 110h1v1h-1zM6 110h1v1h-1zM8 110h1v1h-1zM16 111h1v1h-1zM20 111h1v1h-1zM2 112h1v1h-1zM8 112h1v1h-1zM17 112h1v1h-1zM5 114h1v1h-1zM12 114h1v1h-1zM2 117h1v1h-1zM3 119h1v1h-1zM17 119h1v1h-1zM20 119h1v1h-1zM11 120h1v1h-1zM14 121h1v1h-1zM2 122h1v1h-1zM5 123h1v1h-1zM13 123h1v1h-1zM6 124h1v1h-1zM5 125h1v1h-1zM12 125h1v1h-1zM20 125h1v1h-1zM3 126h1v1h-1zM20 126h1v1h-1zM6 127h1v1h-1zM2 128h1v1h-1zM12 128h1v1h-1zM18 128h1v1h-1zM29 128h1v1h-1zM2 129h1v1h-1zM8 129h1v1h-1zM5 130h1v1h-1zM10 130h1v1h-1zM12 130h1v1h-1zM14 130h1v1h-1zM38 130h1v1h-1zM5 133h1v1h-1zM13 133h1v1h-1zM0 134h1v1h-1zM4 134h1v1h-1zM10 134h1v1h-1zM20 134h1v1h-1zM3 135h1v1h-1zM28 135h1v1h-1zM11 138h1v1h-1zM20 138h1v1h-1zM37 139h1v1h-1zM1 140h1v1h-1zM20 140h1v1h-1zM1 141h1v1h-1z"/><path fill="#ffd9d9" d="M17 0h1v1h-1zM17 1h1v1h-1zM1 2h1v1h-1zM12 3h1v1h-1zM16 3h1v1h-1zM18 4h1v1h-1zM0 5h1v1h-1zM3 5h1v1h-1zM16 5h1v1h-1zM19 6h1v1h-1zM6 7h1v1h-1zM5 8h1v1h-1zM10 8h2v1h-2zM5 9h2v1h-2zM11 9h1v1h-1zM17 9h2v1h-2zM18 10h1v1h-1zM17 11h1v1h-1zM13 12h1v1h-1zM12 15h1v1h-1zM10 16h1v1h-1zM16 16h1v1h-1zM11 20h1v1h-1zM17 20h1v1h-1zM5 21h2v1h-2zM18 21h1v1h-1zM6 23h1v1h-1zM17 23h2v1h-2zM25 23h1v1h-1zM10 24h1v1h-1zM13 24h1v1h-1zM18 24h1v1h-1zM29 24h1v1h-1zM9 25h1v1h-1zM20 25h1v1h-1zM6 26h1v1h-1zM11 26h1v1h-1zM33 26h1v1h-1zM37 26h1v1h-1zM18 27h1v1h-1zM20 29h1v1h-1zM10 30h1v1h-1zM18 31h1v1h-1zM20 31h1v1h-1zM6 32h1v1h-1zM17 32h1v1h-1zM6 33h1v1h-1zM19 34h1v1h-1zM18 35h1v1h-1zM37 35h1v1h-1zM17 37h1v1h-1zM3 38h1v1h-1zM8 38h1v1h-1zM11 38h1v1h-1zM18 39h1v1h-1zM0 40h1v1h-1zM33 41h1v1h-1zM3 42h1v1h-1zM18 42h1v1h-1zM28 42h2v1h-2zM0 47h1v1h-1zM12 48h1v1h-1zM25 48h1v1h-1zM3 51h1v1h-1zM17 51h1v1h-1zM20 51h1v1h-1zM11 53h1v1h-1zM16 53h1v1h-1zM33 53h1v1h-1zM20 55h1v1h-1zM38 55h1v1h-1zM13 56h1v1h-1zM18 56h1v1h-1zM11 57h1v1h-1zM8 58h1v1h-1zM6 59h1v1h-1zM12 60h1v1h-1zM15 62h1v1h-1zM19 63h1v1h-1zM10 64h1v1h-1zM3 66h1v1h-1zM6 67h1v1h-1zM8 69h1v1h-1zM17 69h1v1h-1zM6 70h1v1h-1zM6 71h1v1h-1zM17 71h1v1h-1zM19 71h2v1h-2zM6 72h1v1h-1zM8 73h1v1h-1zM12 73h1v1h-1zM34 73h1v1h-1zM16 75h1v1h-1zM18 75h1v1h-1zM20 75h1v1h-1zM5 76h1v1h-1zM14 76h1v1h-1zM17 77h1v1h-1zM10 78h1v1h-1zM31 78h1v1h-1zM12 79h1v1h-1zM38 79h1v1h-1zM18 80h1v1h-1zM10 83h1v1h-1zM20 83h1v1h-1zM13 84h1v1h-1zM20 85h1v1h-1zM20 86h1v1h-1zM10 87h1v1h-1zM17 87h1v1h-1zM10 88h1v1h-1zM15 88h1v1h-1zM6 89h1v1h-1zM17 89h1v1h-1zM12 90h1v1h-1zM18 91h1v1h-1zM25 91h1v1h-1zM18 92h1v1h-1zM6 93h1v1h-1zM9 95h1v1h-1zM12 95h1v1h-1zM34 95h1v1h-1zM2 96h1v1h-1zM10 96h1v1h-1zM15 96h1v1h-1zM0 97h2v1h-2zM20 97h1v1h-1zM5 98h1v1h-1zM34 98h1v1h-1zM12 99h1v1h-1zM0 100h1v1h-1zM5 101h1v1h-1zM1 102h1v1h-1zM22 102h1v1h-1zM30 103h1v1h-1zM3 104h1v1h-1zM20 104h1v1h-1zM2 105h1v1h-1zM11 105h1v1h-1zM5 106h1v1h-1zM3 107h1v1h-1zM20 108h1v1h-1zM34 108h1v1h-1zM0 110h1v1h-1zM20 110h1v1h-1zM0 111h1v1h-1zM10 111h1v1h-1zM3 112h1v1h-1zM0 113h1v1h-1zM2 113h1v1h-1zM10 113h1v1h-1zM1 114h2v1h-2zM8 114h1v1h-1zM2 115h1v1h-1zM2 116h1v1h-1zM20 116h1v1h-1zM8 117h1v1h-1zM10 117h1v1h-1zM1 118h1v1h-1zM5 118h1v1h-1zM2 120h2v1h-2zM8 120h1v1h-1zM3 121h1v1h-1zM3 122h1v1h-1zM5 122h1v1h-1zM32 122h1v1h-1zM40 122h1v1h-1zM3 123h1v1h-1zM20 123h1v1h-1zM28 123h1v1h-1zM1 124h1v1h-1zM1 125h1v1h-1zM6 125h1v1h-1zM0 127h1v1h-1zM11 127h2v1h-2zM6 128h1v1h-1zM20 129h1v1h-1zM20 130h1v1h-1zM13 131h1v1h-1zM10 132h1v1h-1zM16 132h1v1h-1zM3 136h1v1h-1zM20 137h1v1h-1zM3 138h1v1h-1zM6 139h1v1h-1zM18 140h1v1h-1zM7 141h1v1h-1z"/><path fill="#ffcccc" d="M3 0h1v1h-1zM18 0h1v1h-1zM18 2h1v1h-1zM17 5h2v1h-2zM16 8h1v1h-1zM18 8h1v1h-1zM13 10h1v1h-1zM38 10h1v1h-1zM17 14h1v1h-1zM5 15h1v1h-1zM20 16h1v1h-1zM16 17h1v1h-1zM39 18h1v1h-1zM17 19h1v1h-1zM20 20h1v1h-1zM25 20h1v1h-1zM24 21h1v1h-1zM17 22h1v1h-1zM12 23h1v1h-1zM20 24h1v1h-1zM36 25h1v1h-1zM41 25h1v1h-1zM1 26h1v1h-1zM9 26h1v1h-1zM17 29h1v1h-1zM18 32h1v1h-1zM9 34h1v1h-1zM10 38h1v1h-1zM17 38h1v1h-1zM9 40h1v1h-1zM9 41h1v1h-1zM16 43h1v1h-1zM20 43h1v1h-1zM8 48h1v1h-1zM17 48h1v1h-1zM27 48h1v1h-1zM29 48h1v1h-1zM31 48h1v1h-1zM12 50h1v1h-1zM16 50h1v1h-1zM18 51h1v1h-1zM17 52h1v1h-1zM19 52h1v1h-1zM26 52h1v1h-1zM28 53h1v1h-1zM32 53h1v1h-1zM6 55h1v1h-1zM31 55h2v1h-2zM35 55h1v1h-1zM16 56h1v1h-1zM16 57h1v1h-1zM5 59h1v1h-1zM11 59h1v1h-1zM20 59h1v1h-1zM17 60h1v1h-1zM29 61h1v1h-1zM34 61h1v1h-1zM17 65h1v1h-1zM7 66h1v1h-1zM29 66h1v1h-1zM20 68h1v1h-1zM18 69h1v1h-1zM13 71h1v1h-1zM28 73h1v1h-1zM31 73h1v1h-1zM20 74h1v1h-1zM9 75h1v1h-1zM17 75h1v1h-1zM1 79h1v1h-1zM22 79h1v1h-1zM20 81h1v1h-1zM0 83h1v1h-1zM6 83h1v1h-1zM39 83h1v1h-1zM17 85h2v1h-2zM34 85h1v1h-1zM10 86h1v1h-1zM12 86h1v1h-1zM31 86h1v1h-1zM16 87h1v1h-1zM20 87h1v1h-1zM17 88h1v1h-1zM33 91h1v1h-1zM17 92h1v1h-1zM1 95h1v1h-1zM17 95h1v1h-1zM8 96h1v1h-1zM19 96h2v1h-2zM28 96h1v1h-1zM0 98h2v1h-2zM6 98h1v1h-1zM10 98h1v1h-1zM31 98h1v1h-1zM2 99h1v1h-1zM6 99h1v1h-1zM1 100h1v1h-1zM33 100h1v1h-1zM30 101h1v1h-1zM2 102h1v1h-1zM5 102h1v1h-1zM21 102h1v1h-1zM11 103h1v1h-1zM0 104h2v1h-2zM30 104h1v1h-1zM33 104h1v1h-1zM1 106h1v1h-1zM3 106h1v1h-1zM0 109h2v1h-2zM12 109h1v1h-1zM33 110h1v1h-1zM3 111h1v1h-1zM6 111h1v1h-1zM9 111h1v1h-1zM5 112h1v1h-1zM31 112h1v1h-1zM6 115h1v1h-1zM34 115h1v1h-1zM15 116h1v1h-1zM1 117h1v1h-1zM3 118h1v1h-1zM10 118h1v1h-1zM5 119h1v1h-1zM1 120h1v1h-1zM13 120h1v1h-1zM2 121h1v1h-1zM8 121h1v1h-1zM31 122h1v1h-1zM0 123h1v1h-1zM10 123h1v1h-1zM27 123h1v1h-1zM2 124h1v1h-1zM5 124h1v1h-1zM0 125h1v1h-1zM0 126h2v1h-2zM6 126h1v1h-1zM24 126h2v1h-2zM2 127h1v1h-1zM7 127h1v1h-1zM36 127h1v1h-1zM40 127h1v1h-1zM1 128h1v1h-1zM28 128h1v1h-1zM32 128h1v1h-1zM1 129h1v1h-1zM5 129h1v1h-1zM29 129h1v1h-1zM0 130h1v1h-1zM3 130h1v1h-1zM6 130h1v1h-1zM31 130h1v1h-1zM3 131h2v1h-2zM9 134h1v1h-1zM9 135h1v1h-1zM1 136h1v1h-1zM3 137h1v1h-1zM3 139h1v1h-1zM19 141h1v1h-1z"/><path fill="#ffbfbf" d="M16 2h1v1h-1zM9 4h1v1h-1zM36 5h1v1h-1zM20 7h1v1h-1zM4 8h1v1h-1zM17 10h1v1h-1zM10 12h1v1h-1zM16 18h1v1h-1zM26 18h1v1h-1zM28 18h1v1h-1zM35 18h1v1h-1zM27 20h1v1h-1zM16 21h1v1h-1zM20 21h1v1h-1zM21 21h1v1h-1zM26 23h1v1h-1zM8 24h1v1h-1zM4 25h1v1h-1zM34 25h1v1h-1zM40 25h1v1h-1zM4 34h1v1h-1zM17 34h1v1h-1zM4 35h1v1h-1zM17 36h1v1h-1zM16 39h1v1h-1zM17 40h1v1h-1zM37 40h1v1h-1zM6 41h1v1h-1zM31 41h1v1h-1zM4 42h1v1h-1zM16 42h1v1h-1zM33 42h1v1h-1zM12 45h1v1h-1zM17 45h1v1h-1zM20 46h1v1h-1zM4 48h1v1h-1zM23 52h1v1h-1zM28 55h1v1h-1zM30 55h1v1h-1zM39 55h2v1h-2zM17 57h1v1h-1zM20 57h1v1h-1zM33 61h1v1h-1zM16 64h1v1h-1zM16 65h1v1h-1zM4 68h1v1h-1zM16 68h1v1h-1zM29 68h1v1h-1zM3 72h1v1h-1zM18 72h1v1h-1zM29 73h1v1h-1zM16 77h1v1h-1zM17 78h1v1h-1zM29 78h1v1h-1zM28 79h1v1h-1zM20 80h1v1h-1zM31 82h1v1h-1zM33 82h1v1h-1zM25 83h1v1h-1zM35 83h1v1h-1zM41 83h1v1h-1zM16 84h2v1h-2zM34 84h1v1h-1zM34 88h1v1h-1zM20 90h1v1h-1zM8 91h1v1h-1zM16 91h1v1h-1zM21 91h2v1h-2zM29 91h1v1h-1zM31 91h1v1h-1zM34 91h1v1h-1zM20 92h1v1h-1zM28 95h1v1h-1zM31 95h1v1h-1zM14 96h1v1h-1zM7 98h1v1h-1zM20 98h1v1h-1zM1 99h1v1h-1zM12 100h1v1h-1zM30 100h1v1h-1zM34 100h1v1h-1zM7 101h2v1h-2zM29 101h1v1h-1zM31 101h2v1h-2zM20 102h1v1h-1zM24 102h1v1h-1zM27 102h1v1h-1zM2 103h1v1h-1zM32 103h1v1h-1zM32 104h1v1h-1zM0 105h1v1h-1zM29 107h1v1h-1zM32 108h1v1h-1zM37 108h1v1h-1zM2 109h1v1h-1zM5 111h1v1h-1zM23 114h1v1h-1zM35 114h2v1h-2zM0 115h1v1h-1zM21 115h1v1h-1zM30 115h1v1h-1zM32 115h1v1h-1zM36 115h1v1h-1zM3 116h1v1h-1zM0 117h1v1h-1zM0 118h1v1h-1zM6 118h1v1h-1zM0 119h1v1h-1zM6 120h1v1h-1zM15 121h1v1h-1zM1 122h1v1h-1zM20 122h1v1h-1zM35 122h1v1h-1zM6 123h1v1h-1zM26 123h1v1h-1zM29 123h1v1h-1zM33 125h1v1h-1zM27 126h2v1h-2zM32 126h2v1h-2zM39 126h1v1h-1zM41 126h1v1h-1zM22 127h1v1h-1zM39 127h1v1h-1zM3 128h1v1h-1zM25 128h1v1h-1zM27 128h1v1h-1zM41 128h1v1h-1zM28 129h1v1h-1zM30 129h1v1h-1zM32 129h1v1h-1zM1 130h1v1h-1zM19 131h1v1h-1zM19 134h1v1h-1zM26 135h1v1h-1zM31 135h1v1h-1zM19 136h1v1h-1zM19 137h1v1h-1zM19 139h1v1h-1zM28 139h1v1h-1zM34 139h1v1h-1zM3 140h1v1h-1zM19 140h1v1h-1z"/><path fill="#ffb2b2" d="M4 0h1v1h-1zM16 0h1v1h-1zM20 1h1v1h-1zM4 3h1v1h-1zM4 4h1v1h-1zM4 5h1v1h-1zM9 5h1v1h-1zM13 5h1v1h-1zM16 6h2v1h-2zM36 6h1v1h-1zM9 7h1v1h-1zM9 9h1v1h-1zM4 10h1v1h-1zM17 16h1v1h-1zM22 18h1v1h-1zM25 18h1v1h-1zM29 18h1v1h-1zM31 18h1v1h-1zM34 18h1v1h-1zM36 18h1v1h-1zM40 18h2v1h-2zM4 19h1v1h-1zM21 20h2v1h-2zM24 20h1v1h-1zM26 20h1v1h-1zM28 21h1v1h-1zM33 21h1v1h-1zM11 22h1v1h-1zM21 23h2v1h-2zM28 23h1v1h-1zM31 23h1v1h-1zM32 24h1v1h-1zM28 25h1v1h-1zM30 25h3v1h-3zM20 27h1v1h-1zM16 30h2v1h-2zM4 31h1v1h-1zM37 31h1v1h-1zM16 32h1v1h-1zM9 33h1v1h-1zM37 34h1v1h-1zM4 41h1v1h-1zM16 41h1v1h-1zM30 42h1v1h-1zM34 42h1v1h-1zM37 42h1v1h-1zM4 43h1v1h-1zM33 48h1v1h-1zM20 49h1v1h-1zM17 53h1v1h-1zM20 53h1v1h-1zM36 55h1v1h-1zM41 55h1v1h-1zM17 56h1v1h-1zM16 62h1v1h-1zM18 63h1v1h-1zM18 66h1v1h-1zM16 67h1v1h-1zM9 69h1v1h-1zM16 69h1v1h-1zM9 70h1v1h-1zM33 73h1v1h-1zM9 74h1v1h-1zM37 75h1v1h-1zM20 76h1v1h-1zM28 78h1v1h-1zM32 78h3v1h-3zM25 79h1v1h-1zM30 79h1v1h-1zM32 79h1v1h-1zM9 81h1v1h-1zM16 81h1v1h-1zM32 82h1v1h-1zM3 83h1v1h-1zM22 83h1v1h-1zM27 83h2v1h-2zM32 83h1v1h-1zM34 83h1v1h-1zM40 83h1v1h-1zM4 84h1v1h-1zM28 84h1v1h-1zM32 85h1v1h-1zM16 88h1v1h-1zM25 88h1v1h-1zM27 91h1v1h-1zM17 93h1v1h-1zM33 95h1v1h-1zM36 95h1v1h-1zM1 96h1v1h-1zM3 96h1v1h-1zM7 96h1v1h-1zM2 97h1v1h-1zM2 98h2v1h-2zM33 98h1v1h-1zM0 99h1v1h-1zM7 100h1v1h-1zM2 101h1v1h-1zM0 103h1v1h-1zM31 103h1v1h-1zM7 106h1v1h-1zM0 108h1v1h-1zM1 110h1v1h-1zM28 110h1v1h-1zM7 111h1v1h-1zM29 112h1v1h-1zM30 114h2v1h-2zM33 114h1v1h-1zM39 114h1v1h-1zM1 115h1v1h-1zM3 115h1v1h-1zM22 115h1v1h-1zM26 115h1v1h-1zM30 118h1v1h-1zM1 119h2v1h-2zM1 121h1v1h-1zM10 122h1v1h-1zM19 123h1v1h-1zM22 123h1v1h-1zM36 126h2v1h-2zM40 126h1v1h-1zM23 127h1v1h-1zM33 127h1v1h-1zM30 128h1v1h-1zM34 128h1v1h-1zM3 129h1v1h-1zM10 129h1v1h-1zM19 129h1v1h-1zM24 129h1v1h-1zM32 130h2v1h-2zM32 131h1v1h-1zM19 133h1v1h-1zM22 135h1v1h-1zM24 135h2v1h-2zM32 135h1v1h-1zM4 136h1v1h-1zM4 138h1v1h-1zM28 140h1v1h-1z"/><path fill="#ffa6a6" d="M16 4h1v1h-1zM16 10h1v1h-1zM16 11h1v1h-1zM9 19h1v1h-1zM28 20h1v1h-1zM30 21h1v1h-1zM34 21h1v1h-1zM16 22h1v1h-1zM30 23h1v1h-1zM34 23h1v1h-1zM33 24h1v1h-1zM17 25h1v1h-1zM4 26h1v1h-1zM16 26h1v1h-1zM9 27h1v1h-1zM9 29h1v1h-1zM16 33h2v1h-2zM9 35h1v1h-1zM16 40h1v1h-1zM9 43h1v1h-1zM16 44h1v1h-1zM16 48h1v1h-1zM26 48h1v1h-1zM28 48h1v1h-1zM34 55h1v1h-1zM4 59h1v1h-1zM16 61h1v1h-1zM4 65h1v1h-1zM9 65h1v1h-1zM9 67h1v1h-1zM9 68h1v1h-1zM31 68h1v1h-1zM16 70h1v1h-1zM29 70h1v1h-1zM30 73h1v1h-1zM16 74h1v1h-1zM29 74h1v1h-1zM4 76h1v1h-1zM24 79h1v1h-1zM35 79h1v1h-1zM28 82h1v1h-1zM21 86h1v1h-1zM26 88h1v1h-1zM17 91h1v1h-1zM36 96h1v1h-1zM7 97h1v1h-1zM37 98h1v1h-1zM25 100h1v1h-1zM19 102h1v1h-1zM26 102h1v1h-1zM5 103h1v1h-1zM33 103h1v1h-1zM28 104h2v1h-2zM20 105h1v1h-1zM37 105h1v1h-1zM7 107h1v1h-1zM30 107h1v1h-1zM32 107h1v1h-1zM33 108h1v1h-1zM7 110h1v1h-1zM19 110h1v1h-1zM4 111h1v1h-1zM1 112h1v1h-1zM33 112h1v1h-1zM1 113h1v1h-1zM3 114h1v1h-1zM21 114h1v1h-1zM24 114h1v1h-1zM7 115h1v1h-1zM37 118h1v1h-1zM0 121h1v1h-1zM30 121h1v1h-1zM7 122h1v1h-1zM25 123h1v1h-1zM0 124h1v1h-1zM3 124h1v1h-1zM2 125h1v1h-1zM28 125h1v1h-1zM7 126h1v1h-1zM30 126h1v1h-1zM35 126h1v1h-1zM38 126h1v1h-1zM1 127h1v1h-1zM31 128h1v1h-1zM33 128h1v1h-1zM34 129h1v1h-1zM19 130h1v1h-1zM21 130h1v1h-1zM9 131h1v1h-1zM31 131h1v1h-1zM3 132h2v1h-2zM19 135h1v1h-1zM21 135h1v1h-1zM23 135h1v1h-1zM27 135h1v1h-1zM29 135h1v1h-1zM4 137h1v1h-1zM29 139h1v1h-1z"/><path fill="#ff9999" d="M4 1h1v1h-1zM9 2h1v1h-1zM9 6h1v1h-1zM16 7h1v1h-1zM9 8h1v1h-1zM4 9h1v1h-1zM4 11h1v1h-1zM9 13h1v1h-1zM16 14h1v1h-1zM31 16h1v1h-1zM27 21h1v1h-1zM29 23h1v1h-1zM29 25h1v1h-1zM16 29h1v1h-1zM37 29h1v1h-1zM4 30h1v1h-1zM16 31h1v1h-1zM16 34h1v1h-1zM20 35h1v1h-1zM16 37h1v1h-1zM20 39h1v1h-1zM4 40h1v1h-1zM17 41h1v1h-1zM17 43h1v1h-1zM23 48h1v1h-1zM4 50h1v1h-1zM9 51h1v1h-1zM21 52h1v1h-1zM16 54h1v1h-1zM29 55h1v1h-1zM16 58h1v1h-1zM9 59h1v1h-1zM16 59h1v1h-1zM34 60h1v1h-1zM9 64h1v1h-1zM4 71h1v1h-1zM16 71h1v1h-1zM16 72h1v1h-1zM29 79h1v1h-1zM34 79h1v1h-1zM9 84h1v1h-1zM33 85h1v1h-1zM9 90h1v1h-1zM16 90h1v1h-1zM23 91h1v1h-1zM39 91h1v1h-1zM16 92h1v1h-1zM29 95h1v1h-1zM32 96h1v1h-1zM3 97h1v1h-1zM19 97h1v1h-1zM7 99h1v1h-1zM19 100h1v1h-1zM3 102h1v1h-1zM29 102h1v1h-1zM2 104h1v1h-1zM19 107h1v1h-1zM31 107h1v1h-1zM6 108h1v1h-1zM30 108h1v1h-1zM19 111h1v1h-1zM0 114h1v1h-1zM7 118h1v1h-1zM5 120h1v1h-1zM7 121h1v1h-1zM28 121h1v1h-1zM7 123h1v1h-1zM24 123h1v1h-1zM31 124h1v1h-1zM3 125h1v1h-1zM29 127h2v1h-2zM7 128h1v1h-1zM7 130h1v1h-1zM28 131h1v1h-1zM9 137h1v1h-1z"/><path fill="#ff8c8c" d="M17 3h1v1h-1zM4 6h1v1h-1zM16 9h1v1h-1zM9 10h1v1h-1zM4 14h1v1h-1zM16 19h1v1h-1zM33 20h1v1h-1zM29 21h1v1h-1zM9 22h1v1h-1zM39 23h1v1h-1zM38 25h1v1h-1zM16 28h1v1h-1zM9 30h1v1h-1zM4 33h1v1h-1zM4 36h1v1h-1zM4 45h1v1h-1zM16 47h1v1h-1zM27 52h1v1h-1zM9 53h1v1h-1zM9 57h1v1h-1zM4 61h1v1h-1zM9 72h1v1h-1zM9 76h1v1h-1zM16 76h1v1h-1zM39 79h1v1h-1zM41 79h1v1h-1zM16 80h1v1h-1zM4 81h1v1h-1zM21 83h1v1h-1zM22 86h1v1h-1zM25 86h1v1h-1zM26 91h1v1h-1zM32 95h1v1h-1zM21 96h1v1h-1zM32 98h1v1h-1zM35 99h1v1h-1zM19 101h1v1h-1zM24 101h1v1h-1zM33 101h1v1h-1zM26 103h1v1h-1zM7 104h1v1h-1zM27 104h1v1h-1zM31 105h1v1h-1zM7 108h1v1h-1zM19 109h1v1h-1zM7 112h1v1h-1zM34 112h1v1h-1zM19 113h1v1h-1zM31 113h1v1h-1zM33 113h1v1h-1zM7 114h1v1h-1zM19 114h1v1h-1zM28 114h1v1h-1zM34 114h1v1h-1zM33 115h1v1h-1zM19 119h1v1h-1zM33 120h1v1h-1zM19 122h1v1h-1zM7 124h1v1h-1zM7 125h1v1h-1zM30 125h1v1h-1zM26 129h1v1h-1zM31 129h1v1h-1zM28 130h1v1h-1zM31 139h1v1h-1zM40 139h1v1h-1zM34 140h1v1h-1z"/><path fill="#ff8080" d="M16 1h1v1h-1zM9 3h1v1h-1zM9 12h1v1h-1zM9 14h1v1h-1zM36 16h2v1h-2zM9 17h1v1h-1zM38 18h1v1h-1zM30 20h1v1h-1zM26 21h1v1h-1zM4 22h1v1h-1zM9 36h1v1h-1zM9 42h1v1h-1zM16 45h1v1h-1zM16 46h1v1h-1zM4 47h1v1h-1zM29 49h1v1h-1zM31 49h1v1h-1zM33 49h1v1h-1zM36 49h1v1h-1zM4 51h1v1h-1zM22 52h1v1h-1zM25 52h1v1h-1zM9 54h1v1h-1zM28 60h1v1h-1zM4 64h1v1h-1zM25 66h1v1h-1zM31 66h1v1h-1zM22 73h1v1h-1zM25 73h1v1h-1zM23 83h1v1h-1zM26 83h1v1h-1zM27 86h2v1h-2zM22 88h1v1h-1zM30 88h1v1h-1zM32 88h1v1h-1zM36 88h1v1h-1zM38 88h1v1h-1zM41 88h1v1h-1zM9 89h1v1h-1zM16 89h1v1h-1zM24 95h1v1h-1zM25 96h1v1h-1zM31 97h1v1h-1zM34 97h1v1h-1zM19 98h1v1h-1zM21 98h1v1h-1zM29 98h1v1h-1zM19 99h1v1h-1zM33 99h2v1h-2zM23 101h1v1h-1zM41 102h1v1h-1zM29 103h1v1h-1zM36 104h2v1h-2zM1 105h1v1h-1zM29 106h1v1h-1zM22 108h1v1h-1zM40 108h1v1h-1zM34 109h1v1h-1zM28 112h1v1h-1zM28 113h1v1h-1zM30 113h1v1h-1zM37 114h2v1h-2zM7 116h1v1h-1zM32 117h1v1h-1zM19 118h1v1h-1zM36 119h1v1h-1zM7 120h1v1h-1zM34 120h1v1h-1zM29 122h1v1h-1zM30 123h2v1h-2zM32 124h2v1h-2zM29 125h1v1h-1zM19 126h1v1h-1zM19 127h1v1h-1zM19 128h1v1h-1zM23 128h1v1h-1zM29 130h1v1h-1zM34 135h1v1h-1zM9 136h1v1h-1zM25 139h1v1h-1zM33 139h1v1h-1zM26 140h1v1h-1zM31 140h2v1h-2zM38 141h1v1h-1z"/><path fill="#ff7373" d="M4 12h1v1h-1zM16 13h1v1h-1zM21 16h1v1h-1zM28 16h1v1h-1zM30 16h1v1h-1zM32 16h1v1h-1zM39 16h1v1h-1zM4 17h1v1h-1zM33 18h1v1h-1zM32 20h1v1h-1zM32 21h1v1h-1zM41 21h1v1h-1zM23 23h1v1h-1zM38 23h1v1h-1zM4 32h1v1h-1zM16 35h1v1h-1zM16 38h1v1h-1zM9 39h1v1h-1zM4 44h1v1h-1zM26 49h1v1h-1zM32 52h2v1h-2zM4 56h1v1h-1zM29 60h1v1h-1zM22 66h1v1h-1zM33 66h1v1h-1zM4 72h1v1h-1zM21 73h1v1h-1zM24 73h1v1h-1zM32 73h1v1h-1zM38 73h1v1h-1zM4 75h1v1h-1zM26 79h1v1h-1zM40 79h1v1h-1zM4 80h1v1h-1zM29 83h1v1h-1zM21 85h2v1h-2zM29 85h1v1h-1zM23 86h1v1h-1zM29 86h1v1h-1zM32 86h1v1h-1zM34 86h1v1h-1zM4 87h1v1h-1zM9 87h1v1h-1zM21 88h1v1h-1zM24 88h1v1h-1zM27 88h1v1h-1zM29 88h1v1h-1zM35 88h1v1h-1zM37 88h1v1h-1zM4 89h1v1h-1zM28 91h1v1h-1zM30 91h1v1h-1zM37 91h1v1h-1zM9 93h1v1h-1zM16 94h1v1h-1zM22 95h2v1h-2zM25 95h2v1h-2zM41 95h1v1h-1zM30 96h1v1h-1zM33 96h1v1h-1zM29 97h2v1h-2zM22 98h1v1h-1zM24 98h1v1h-1zM26 98h2v1h-2zM22 99h1v1h-1zM28 99h2v1h-2zM32 99h1v1h-1zM21 100h1v1h-1zM31 100h1v1h-1zM22 101h1v1h-1zM25 101h1v1h-1zM27 101h1v1h-1zM40 101h1v1h-1zM7 102h1v1h-1zM30 102h1v1h-1zM35 102h1v1h-1zM39 102h1v1h-1zM23 103h1v1h-1zM34 103h1v1h-1zM41 103h1v1h-1zM22 104h1v1h-1zM35 104h1v1h-1zM39 104h1v1h-1zM30 105h1v1h-1zM19 106h1v1h-1zM32 106h1v1h-1zM34 106h1v1h-1zM21 107h3v1h-3zM28 107h1v1h-1zM34 107h1v1h-1zM19 108h1v1h-1zM21 108h1v1h-1zM23 108h1v1h-1zM25 108h3v1h-3zM29 108h1v1h-1zM31 108h1v1h-1zM35 108h1v1h-1zM23 109h1v1h-1zM33 109h1v1h-1zM32 112h1v1h-1zM32 113h1v1h-1zM22 114h1v1h-1zM29 114h1v1h-1zM19 116h1v1h-1zM38 117h1v1h-1zM28 118h1v1h-1zM33 118h1v1h-1zM31 119h1v1h-1zM19 121h1v1h-1zM29 121h1v1h-1zM32 121h2v1h-2zM35 121h1v1h-1zM28 122h1v1h-1zM30 122h1v1h-1zM34 122h1v1h-1zM34 123h1v1h-1zM29 124h1v1h-1zM34 124h1v1h-1zM19 125h1v1h-1zM25 125h1v1h-1zM31 125h1v1h-1zM23 126h1v1h-1zM26 127h1v1h-1zM34 127h1v1h-1zM22 128h1v1h-1zM7 129h1v1h-1zM23 129h1v1h-1zM27 129h1v1h-1zM9 133h1v1h-1zM30 135h1v1h-1zM21 139h3v1h-3zM27 139h1v1h-1zM32 139h1v1h-1zM35 139h1v1h-1zM22 140h1v1h-1zM29 140h2v1h-2zM28 141h1v1h-1zM31 141h2v1h-2z"/><path fill="#ff6666" d="M9 1h1v1h-1zM9 11h1v1h-1zM4 13h1v1h-1zM25 16h1v1h-1zM29 16h1v1h-1zM38 16h1v1h-1zM41 16h1v1h-1zM23 20h1v1h-1zM34 20h1v1h-1zM22 21h1v1h-1zM25 21h1v1h-1zM31 21h1v1h-1zM4 27h1v1h-1zM9 31h1v1h-1zM4 38h1v1h-1zM4 46h1v1h-1zM24 49h1v1h-1zM34 49h1v1h-1zM39 49h1v1h-1zM24 52h1v1h-1zM28 52h1v1h-1zM30 52h2v1h-2zM4 54h1v1h-1zM30 60h1v1h-1zM9 63h1v1h-1zM28 66h1v1h-1zM34 66h1v1h-1zM4 67h1v1h-1zM35 73h1v1h-1zM39 73h1v1h-1zM30 78h1v1h-1zM21 79h1v1h-1zM36 79h2v1h-2zM9 80h1v1h-1zM24 83h1v1h-1zM33 83h1v1h-1zM30 85h2v1h-2zM23 88h1v1h-1zM28 88h1v1h-1zM31 88h1v1h-1zM33 88h1v1h-1zM24 91h1v1h-1zM32 91h1v1h-1zM36 91h1v1h-1zM38 91h1v1h-1zM9 92h1v1h-1zM4 93h1v1h-1zM16 93h1v1h-1zM9 94h1v1h-1zM27 95h1v1h-1zM35 95h1v1h-1zM39 95h2v1h-2zM23 96h1v1h-1zM27 96h1v1h-1zM31 96h1v1h-1zM34 96h1v1h-1zM28 97h1v1h-1zM23 98h1v1h-1zM30 98h1v1h-1zM23 99h1v1h-1zM25 99h2v1h-2zM31 99h1v1h-1zM39 99h2v1h-2zM22 100h1v1h-1zM27 100h1v1h-1zM32 100h1v1h-1zM28 101h1v1h-1zM28 102h1v1h-1zM33 102h1v1h-1zM7 103h1v1h-1zM19 103h1v1h-1zM21 103h1v1h-1zM24 103h1v1h-1zM27 103h2v1h-2zM21 104h1v1h-1zM31 104h1v1h-1zM34 104h1v1h-1zM41 104h1v1h-1zM34 105h1v1h-1zM28 106h1v1h-1zM30 106h2v1h-2zM33 106h1v1h-1zM33 107h1v1h-1zM24 108h1v1h-1zM36 108h1v1h-1zM38 108h1v1h-1zM41 108h1v1h-1zM7 109h1v1h-1zM21 109h1v1h-1zM31 109h1v1h-1zM19 112h1v1h-1zM27 114h1v1h-1zM19 115h1v1h-1zM28 116h1v1h-1zM34 116h1v1h-1zM19 117h1v1h-1zM29 117h1v1h-1zM34 118h1v1h-1zM28 119h3v1h-3zM33 119h1v1h-1zM37 119h1v1h-1zM40 119h1v1h-1zM31 121h1v1h-1zM34 121h1v1h-1zM23 122h1v1h-1zM25 122h1v1h-1zM33 123h1v1h-1zM30 124h1v1h-1zM24 125h1v1h-1zM32 125h1v1h-1zM34 125h1v1h-1zM36 125h3v1h-3zM21 126h2v1h-2zM28 127h1v1h-1zM21 128h1v1h-1zM21 129h2v1h-2zM25 129h1v1h-1zM33 135h1v1h-1zM30 139h1v1h-1zM24 140h1v1h-1zM33 140h1v1h-1zM29 141h2v1h-2zM33 141h1v1h-1z"/><path fill="#ff5959" d="M27 16h1v1h-1zM35 16h1v1h-1zM29 20h1v1h-1zM38 20h1v1h-1zM24 23h1v1h-1zM27 23h1v1h-1zM35 23h1v1h-1zM35 25h1v1h-1zM4 37h1v1h-1zM4 39h1v1h-1zM9 45h1v1h-1zM9 47h1v1h-1zM41 49h1v1h-1zM9 50h1v1h-1zM4 53h1v1h-1zM4 57h1v1h-1zM32 60h1v1h-1zM9 61h1v1h-1zM30 66h1v1h-1zM32 66h1v1h-1zM4 69h1v1h-1zM4 70h1v1h-1zM27 73h1v1h-1zM36 73h2v1h-2zM9 77h1v1h-1zM31 79h1v1h-1zM30 82h1v1h-1zM34 82h1v1h-1zM30 83h1v1h-1zM36 83h2v1h-2zM28 85h1v1h-1zM33 86h1v1h-1zM40 88h1v1h-1zM4 94h1v1h-1zM21 95h1v1h-1zM38 95h1v1h-1zM29 96h1v1h-1zM30 99h1v1h-1zM36 99h2v1h-2zM41 99h1v1h-1zM28 100h2v1h-2zM21 101h1v1h-1zM26 101h1v1h-1zM25 102h1v1h-1zM31 102h1v1h-1zM34 102h1v1h-1zM40 102h1v1h-1zM22 103h1v1h-1zM38 104h1v1h-1zM32 105h1v1h-1zM28 108h1v1h-1zM28 109h1v1h-1zM30 112h1v1h-1zM7 113h1v1h-1zM29 113h1v1h-1zM26 114h1v1h-1zM40 114h2v1h-2zM7 117h1v1h-1zM33 117h2v1h-2zM39 117h1v1h-1zM29 118h1v1h-1zM31 118h2v1h-2zM32 119h1v1h-1zM34 119h1v1h-1zM29 120h1v1h-1zM33 122h1v1h-1zM32 123h1v1h-1zM28 124h1v1h-1zM21 125h2v1h-2zM35 125h1v1h-1zM26 126h1v1h-1zM26 128h1v1h-1zM9 132h1v1h-1zM4 133h1v1h-1zM9 138h1v1h-1zM34 141h1v1h-1z"/><path fill="#ff4d4d" d="M4 7h1v1h-1zM31 20h1v1h-1zM23 21h1v1h-1zM4 28h1v1h-1zM4 29h1v1h-1zM9 38h1v1h-1zM29 52h1v1h-1zM34 52h1v1h-1zM31 60h1v1h-1zM4 62h1v1h-1zM4 63h1v1h-1zM9 71h1v1h-1zM23 73h1v1h-1zM4 74h1v1h-1zM23 79h1v1h-1zM33 79h1v1h-1zM31 83h1v1h-1zM38 83h1v1h-1zM39 88h1v1h-1zM37 95h1v1h-1zM32 97h1v1h-1zM28 98h1v1h-1zM38 99h1v1h-1zM34 101h2v1h-2zM23 102h1v1h-1zM32 102h1v1h-1zM36 103h1v1h-1zM19 104h1v1h-1zM23 104h1v1h-1zM40 104h1v1h-1zM7 105h1v1h-1zM39 108h1v1h-1zM34 113h1v1h-1zM30 116h1v1h-1zM28 117h1v1h-1zM30 117h2v1h-2zM19 120h1v1h-1zM32 120h1v1h-1zM19 124h1v1h-1zM27 127h1v1h-1zM30 130h1v1h-1z"/><path fill="#ff4040" d="M9 0h1v1h-1zM35 21h1v1h-1zM32 23h1v1h-1zM9 37h1v1h-1zM9 56h1v1h-1zM4 58h1v1h-1zM9 58h1v1h-1zM4 77h1v1h-1zM30 86h1v1h-1zM4 90h1v1h-1zM33 97h1v1h-1zM25 103h1v1h-1zM32 114h1v1h-1zM7 119h1v1h-1z"/><path fill="#ff3333" d="M9 46h1v1h-1zM9 62h1v1h-1zM19 105h1v1h-1z"/><path fill="#ff2626" d="M23 15h1v1h-1zM9 28h1v1h-1zM9 44h1v1h-1zM4 92h1v1h-1z"/><path fill="#ff1919" d="M33 16h1v1h-1zM25 24h1v1h-1zM40 24h1v1h-1zM21 49h1v1h-1zM40 66h1v1h-1zM39 100h1v1h-1zM39 112h1v1h-1zM30 120h1v1h-1zM41 120h1v1h-1z"/><path fill="#ff0d0d" d="M26 15h1v1h-1zM29 15h1v1h-1zM41 15h1v1h-1zM36 20h1v1h-1zM40 20h1v1h-1zM28 24h1v1h-1zM35 24h1v1h-1zM22 49h1v1h-1zM35 60h1v1h-1zM37 66h1v1h-1zM40 73h1v1h-1zM27 82h1v1h-1zM41 85h1v1h-1zM35 86h1v1h-1zM41 96h1v1h-1zM26 97h2v1h-2zM35 97h1v1h-1zM41 97h1v1h-1zM41 98h1v1h-1zM39 101h1v1h-1zM40 103h1v1h-1zM25 104h1v1h-1zM21 105h1v1h-1zM35 107h1v1h-1zM30 109h1v1h-1zM40 112h1v1h-1zM39 113h2v1h-2zM27 116h1v1h-1zM23 118h1v1h-1zM23 119h1v1h-1zM23 120h1v1h-1zM27 120h1v1h-1zM31 120h1v1h-1zM26 130h1v1h-1zM24 141h1v1h-1zM35 141h2v1h-2z"/><path fill="#ff0000" d="M36 10h1v1h-1zM21 15h2v1h-2zM24 15h2v1h-2zM27 15h2v1h-2zM30 15h11v1h-11zM22 16h3v1h-3zM26 16h1v1h-1zM34 16h1v1h-1zM40 16h1v1h-1zM30 18h1v1h-1zM32 18h1v1h-1zM35 20h1v1h-1zM37 20h1v1h-1zM39 20h1v1h-1zM41 20h1v1h-1zM36 21h5v1h-5zM36 23h2v1h-2zM40 23h2v1h-2zM21 24h4v1h-4zM26 24h2v1h-2zM30 24h2v1h-2zM34 24h1v1h-1zM37 24h3v1h-3zM41 24h1v1h-1zM37 25h1v1h-1zM23 49h1v1h-1zM25 49h1v1h-1zM27 49h2v1h-2zM30 49h1v1h-1zM32 49h1v1h-1zM35 49h1v1h-1zM37 49h2v1h-2zM40 49h1v1h-1zM35 52h7v1h-7zM37 55h1v1h-1zM21 60h7v1h-7zM33 60h1v1h-1zM36 60h6v1h-6zM21 66h1v1h-1zM23 66h2v1h-2zM26 66h2v1h-2zM35 66h2v1h-2zM38 66h2v1h-2zM41 66h1v1h-1zM26 73h1v1h-1zM41 73h1v1h-1zM21 78h7v1h-7zM35 78h7v1h-7zM21 82h6v1h-6zM35 82h7v1h-7zM23 85h5v1h-5zM35 85h6v1h-6zM24 86h1v1h-1zM26 86h1v1h-1zM36 86h6v1h-6zM35 91h1v1h-1zM40 91h2v1h-2zM22 96h1v1h-1zM24 96h1v1h-1zM26 96h1v1h-1zM35 96h1v1h-1zM37 96h4v1h-4zM21 97h5v1h-5zM36 97h5v1h-5zM25 98h1v1h-1zM35 98h2v1h-2zM38 98h3v1h-3zM21 99h1v1h-1zM24 99h1v1h-1zM27 99h1v1h-1zM23 100h2v1h-2zM26 100h1v1h-1zM35 100h2v1h-2zM38 100h1v1h-1zM40 100h2v1h-2zM36 101h3v1h-3zM41 101h1v1h-1zM36 102h3v1h-3zM35 103h1v1h-1zM37 103h3v1h-3zM24 104h1v1h-1zM26 104h1v1h-1zM22 105h8v1h-8zM33 105h1v1h-1zM35 105h2v1h-2zM38 105h4v1h-4zM21 106h7v1h-7zM35 106h7v1h-7zM24 107h4v1h-4zM36 107h6v1h-6zM22 109h1v1h-1zM24 109h4v1h-4zM29 109h1v1h-1zM32 109h1v1h-1zM35 109h7v1h-7zM29 110h1v1h-1zM31 110h1v1h-1zM21 112h7v1h-7zM35 112h4v1h-4zM41 112h1v1h-1zM21 113h7v1h-7zM35 113h4v1h-4zM41 113h1v1h-1zM21 116h6v1h-6zM29 116h1v1h-1zM31 116h3v1h-3zM35 116h7v1h-7zM21 117h7v1h-7zM35 117h3v1h-3zM40 117h2v1h-2zM21 118h2v1h-2zM24 118h4v1h-4zM35 118h2v1h-2zM38 118h4v1h-4zM21 119h2v1h-2zM24 119h4v1h-4zM35 119h1v1h-1zM38 119h2v1h-2zM41 119h1v1h-1zM21 120h2v1h-2zM24 120h3v1h-3zM28 120h1v1h-1zM35 120h6v1h-6zM21 121h7v1h-7zM36 121h6v1h-6zM21 122h2v1h-2zM24 122h1v1h-1zM26 122h2v1h-2zM36 122h4v1h-4zM41 122h1v1h-1zM21 124h7v1h-7zM35 124h7v1h-7zM23 125h1v1h-1zM26 125h2v1h-2zM39 125h3v1h-3zM21 127h1v1h-1zM24 127h1v1h-1zM31 127h2v1h-2zM35 127h1v1h-1zM24 128h1v1h-1zM22 130h4v1h-4zM27 130h1v1h-1zM34 130h1v1h-1zM24 139h1v1h-1zM26 139h1v1h-1zM36 139h1v1h-1zM38 139h2v1h-2zM41 139h1v1h-1zM21 140h1v1h-1zM23 140h1v1h-1zM25 140h1v1h-1zM27 140h1v1h-1zM35 140h2v1h-2zM38 140h4v1h-4zM21 141h3v1h-3zM25 141h3v1h-3zM39 141h3v1h-3z"/></g>
<text x="39.60" y="48.90" font-size="8" fill="#111" font-weight="bold" text-anchor="end" >FFA</text>
<text x="39.60" y="77.20" font-size="8" fill="#111" font-weight="bold" text-anchor="end" >Cer</text>
<line x1="0" y1="70.92" x2="41" y2="70.92" stroke="#666" stroke-width="0.7" stroke-dasharray="1.2 1.1"/>
<text x="39.60" y="93.00" font-size="8" fill="#111" font-weight="bold" text-anchor="end" >SM</text>
<line x1="0" y1="77.70" x2="41" y2="77.70" stroke="#666" stroke-width="0.7" stroke-dasharray="1.2 1.1"/>
<text x="39.60" y="113.70" font-size="8" fill="#111" font-weight="bold" text-anchor="end" >LysoPC</text>
<line x1="0" y1="104.86" x2="41" y2="104.86" stroke="#666" stroke-width="0.7" stroke-dasharray="1.2 1.1"/>
<text x="39.60" y="125.00" font-size="8" fill="#111" font-weight="bold" text-anchor="end" >LysoPC o</text>
<line x1="0" y1="118.44" x2="41" y2="118.44" stroke="#666" stroke-width="0.7" stroke-dasharray="1.2 1.1"/>
<text x="39.60" y="137.80" font-size="8" fill="#111" font-weight="bold" text-anchor="end" >LysoPE</text>
<line x1="0" y1="125.23" x2="41" y2="125.23" stroke="#666" stroke-width="0.7" stroke-dasharray="1.2 1.1"/>
<text x="39.60" y="154.10" font-size="8" fill="#111" font-weight="bold" text-anchor="end" >LysoPE o</text>
<line x1="0" y1="145.59" x2="41" y2="145.59" stroke="#666" stroke-width="0.7" stroke-dasharray="1.2 1.1"/>
<text x="39.60" y="161.80" font-size="8" fill="#111" font-weight="bold" text-anchor="end" >LysoPG</text>
<line x1="0" y1="155.77" x2="41" y2="155.77" stroke="#666" stroke-width="0.7" stroke-dasharray="1.2 1.1"/>
<text x="39.60" y="170.70" font-size="8" fill="#111" font-weight="bold" text-anchor="end" >LysoPI</text>
<line x1="0" y1="162.56" x2="41" y2="162.56" stroke="#666" stroke-width="0.7" stroke-dasharray="1.2 1.1"/>
<text x="39.60" y="182.10" font-size="8" fill="#111" font-weight="bold" text-anchor="end" >LysoPS</text>
<line x1="0" y1="176.14" x2="41" y2="176.14" stroke="#666" stroke-width="0.7" stroke-dasharray="1.2 1.1"/>
<text x="39.60" y="249.90" font-size="8" fill="#111" font-weight="bold" text-anchor="end" >PC</text>
<line x1="0" y1="182.93" x2="41" y2="182.93" stroke="#666" stroke-width="0.7" stroke-dasharray="1.2 1.1"/>
<text x="39.60" y="326.90" font-size="8" fill="#111" font-weight="bold" text-anchor="end" >PC o,p</text>
<line x1="0" y1="305.13" x2="41" y2="305.13" stroke="#666" stroke-width="0.7" stroke-dasharray="1.2 1.1"/>
<text x="39.60" y="383.20" font-size="8" fill="#111" font-weight="bold" text-anchor="end" >PE</text>
<line x1="0" y1="345.86" x2="41" y2="345.86" stroke="#666" stroke-width="0.7" stroke-dasharray="1.2 1.1"/>
<text x="39.60" y="435.70" font-size="8" fill="#111" font-weight="bold" text-anchor="end" >PE p</text>
<line x1="0" y1="413.75" x2="41" y2="413.75" stroke="#666" stroke-width="0.7" stroke-dasharray="1.2 1.1"/>
<text x="39.60" y="472.80" font-size="8" fill="#111" font-weight="bold" text-anchor="end" >PG</text>
<line x1="0" y1="451.08" x2="41" y2="451.08" stroke="#666" stroke-width="0.7" stroke-dasharray="1.2 1.1"/>
<text x="39.60" y="499.80" font-size="8" fill="#111" font-weight="bold" text-anchor="end" >PI,PS</text>
<line x1="0" y1="491.82" x2="41" y2="491.82" stroke="#666" stroke-width="0.7" stroke-dasharray="1.2 1.1"/>
<g font-size="2.65" fill="#333" text-rendering="geometricPrecision"><text x="234.2" y="22.65">FFA 8:0</text><text x="234.2" y="26.04">FFA 10:0</text><text x="234.2" y="29.44">FFA 12:0</text><text x="234.2" y="32.83">FFA 14:0</text><text x="234.2" y="36.22">FFA 16:0</text><text x="234.2" y="39.62">FFA 16:1</text><text x="234.2" y="43.01">FFA 18:0</text><text x="234.2" y="46.41">FFA 18:1</text><text x="234.2" y="49.80">FFA 18:2</text><text x="234.2" y="53.20">FFA 18:3</text><text x="234.2" y="56.59">FFA 20:0</text><text x="234.2" y="59.99">FFA 20:1</text><text x="234.2" y="63.38">FFA 20:4</text><text x="234.2" y="66.77">FFA 22:4</text><text x="234.2" y="70.17">FFA 22:6</text><text x="234.2" y="73.56">Cer d18:1</text><text x="234.2" y="76.96">Cer d18:2</text><text x="234.2" y="80.35">SM d16:1</text><text x="234.2" y="83.75">SM d18:0_14:0</text><text x="234.2" y="87.14">SM d18:1</text><text x="234.2" y="90.53">SM d34:0</text><text x="234.2" y="93.93">SM d34:1</text><text x="234.2" y="97.32">SM d18:1_16:0</text><text x="234.2" y="100.72">SM d36:2</text><text x="234.2" y="104.11">SM d18:2</text><text x="234.2" y="107.51">LysoPC 14:0</text><text x="234.2" y="110.90">LysoPC 16:0</text><text x="234.2" y="114.30">LysoPC 18:0</text><text x="234.2" y="117.69">LysoPC 18:1</text><text x="234.2" y="121.08">LysoPC O-16:0</text><text x="234.2" y="124.48">LysoPC O-18:0</text><text x="234.2" y="127.87">LysoPE 16:0</text><text x="234.2" y="131.27">LysoPE 18:0</text><text x="234.2" y="134.66">LysoPE 18:1</text><text x="234.2" y="138.06">LysoPE 18:2</text><text x="234.2" y="141.45">LysoPE 20:4</text><text x="234.2" y="144.84">LysoPE 22:6</text><text x="234.2" y="148.24">LysoPE O-16:0</text><text x="234.2" y="151.63">LysoPE O-18:0</text><text x="234.2" y="155.03">LysoPE P-18:0</text><text x="234.2" y="158.42">LysoPG 16:0</text><text x="234.2" y="161.82">LysoPG 18:1</text><text x="234.2" y="165.21">LysoPI 16:0</text><text x="234.2" y="168.60">LysoPI 18:0</text><text x="234.2" y="172.00">LysoPI 18:1</text><text x="234.2" y="175.39">LysoPI 20:4</text><text x="234.2" y="178.79">LysoPS 18:0</text><text x="234.2" y="182.18">LysoPS 18:1</text><text x="234.2" y="185.58">PC 14:0_16:0</text><text x="234.2" y="188.97">PC 16:0_16:1</text><text x="234.2" y="192.37">PC 30:0</text><text x="234.2" y="195.76">PC 32:0</text><text x="234.2" y="199.15">PC 32:1</text><text x="234.2" y="202.55">PC 32:2</text><text x="234.2" y="205.94">PC 16:0_18:1</text><text x="234.2" y="209.34">PC 34:2</text><text x="234.2" y="212.73">PC 34:1</text><text x="234.2" y="216.13">PC 16:0_20:4</text><text x="234.2" y="219.52">PC 16:0_22:6</text><text x="234.2" y="222.91">PC 18:0_18:1</text><text x="234.2" y="226.31">PC 18:1_18:1</text><text x="234.2" y="229.70">PC 18:0_20:4</text><text x="234.2" y="233.10">PC 18:0_22:6</text><text x="234.2" y="236.49">PC 36:1</text><text x="234.2" y="239.89">PC 36:2</text><text x="234.2" y="243.28">PC 36:3</text><text x="234.2" y="246.68">PC 36:4</text><text x="234.2" y="250.07">PC 38:4</text><text x="234.2" y="253.46">PC 38:5</text><text x="234.2" y="256.86">PC 38:6</text><text x="234.2" y="260.25">PC 18:1_20:4</text><text x="234.2" y="263.65">PC 40:6</text><text x="234.2" y="267.04">PC 40:5</text><text x="234.2" y="270.44">PC 16:0_18:2</text><text x="234.2" y="273.83">PC 18:0_18:2</text><text x="234.2" y="277.22">PC 18:1_18:2</text><text x="234.2" y="280.62">PC 18:0_20:3</text><text x="234.2" y="284.01">PC 20:4_20:4</text><text x="234.2" y="287.41">PC 40:7</text><text x="234.2" y="290.80">PC 42:6</text><text x="234.2" y="294.20">PC 44:6</text><text x="234.2" y="297.59">PC 16:1_18:1</text><text x="234.2" y="300.99">PC 32:3</text><text x="234.2" y="304.38">PC 34:3</text><text x="234.2" y="307.77">PC O-16:1_16:1 or P-16:0_16:1</text><text x="234.2" y="311.17">PC O-18:1_16:0 or P-18:0_16:0</text><text x="234.2" y="314.56">PC O-34:2(O-16:1_18:1 or P-34:1(P-16:0_18:1)</text><text x="234.2" y="317.96">PC O-16:1_18:1 or P-16:0_18:1</text><text x="234.2" y="321.35">PC O-18:1_18:1 or P-18:0_18:1</text><text x="234.2" y="324.75">PC O-16:0_20:4</text><text x="234.2" y="328.14">PC O-18:1_20:4 or P-18:0_20:4</text><text x="234.2" y="331.53">PC O-18:0_20:4</text><text x="234.2" y="334.93">PC O-16:1_20:4 or P-16:0_20:4</text><text x="234.2" y="338.32">PC O-18:1_22:6 or P-18:0_22:6</text><text x="234.2" y="341.72">PC O-16:1_22:6 or P-16:0_22:6</text><text x="234.2" y="345.11">PC O-18:1_22:4 or P-18:0_22:4</text><text x="234.2" y="348.51">PE 16:0_18:1</text><text x="234.2" y="351.90">PE 16:0_18:2</text><text x="234.2" y="355.30">PE 16:0_20:4</text><text x="234.2" y="358.69">PE 16:0_22:6</text><text x="234.2" y="362.08">PE 18:0_18:1</text><text x="234.2" y="365.48">PE 18:0_18:2</text><text x="234.2" y="368.87">PE 18:0_20:3</text><text x="234.2" y="372.27">PE 18:0_20:4</text><text x="234.2" y="375.66">PE 18:0_22:4</text><text x="234.2" y="379.06">PE 18:0_22:5</text><text x="234.2" y="382.45">PE 18:0_22:6</text><text x="234.2" y="385.84">PE 18:1_18:1</text><text x="234.2" y="389.24">PE 18:1_20:4</text><text x="234.2" y="392.63">PE 36:1</text><text x="234.2" y="396.03">PE 36:2</text><text x="234.2" y="399.42">PE 38:4</text><text x="234.2" y="402.82">PE 38:5</text><text x="234.2" y="406.21">PE 40:6</text><text x="234.2" y="409.60">PE 40:5</text><text x="234.2" y="413.00">PE 18:1_22:6</text><text x="234.2" y="416.39">PE P-16:0_18:1</text><text x="234.2" y="419.79">PE P-16:0_20:4</text><text x="234.2" y="423.18">PE P-16:0_22:6</text><text x="234.2" y="426.58">PE P-18:0_18:1</text><text x="234.2" y="429.97">PE P-18:0_20:4</text><text x="234.2" y="433.37">PE P-18:0_22:4</text><text x="234.2" y="436.76">PE P-18:0_22:6</text><text x="234.2" y="440.15">PE P-18:1_20:4</text><text x="234.2" y="443.55">PE P-18:1_22:6</text><text x="234.2" y="446.94">PE P-16:0_22:4</text><text x="234.2" y="450.34">PE P-18:0_18:2</text><text x="234.2" y="453.73">PG 16:0_18:1</text><text x="234.2" y="457.13">PG 18:0_18:1</text><text x="234.2" y="460.52">PG 18:1_18:1</text><text x="234.2" y="463.91">PG 16:0_16:0</text><text x="234.2" y="467.31">PG 34:1</text><text x="234.2" y="470.70">PG 34:2</text><text x="234.2" y="474.10">PG 36:1</text><text x="234.2" y="477.49">PG 36:2</text><text x="234.2" y="480.89">PG 38:4</text><text x="234.2" y="484.28">PG 18:0_20:4</text><text x="234.2" y="487.68">PG 18:1_20:4</text><text x="234.2" y="491.07">PG 40:6</text><text x="234.2" y="494.46">PI 18:0_20:4</text><text x="234.2" y="497.86">PS 18:0_18:1</text><text x="234.2" y="501.25">PS 18:0_20:4</text></g>
<text x="5.60" y="15.80" font-size="14.5" fill="#000" font-weight="bold" >a</text>
<text x="86.80" y="8.30" font-size="8.4" fill="#111" font-weight="bold" text-anchor="middle" textLength="25.00" lengthAdjust="spacingAndGlyphs" >DMSO</text>
<text x="183.60" y="8.30" font-size="8.4" fill="#111" font-weight="bold" text-anchor="middle" textLength="44.00" lengthAdjust="spacingAndGlyphs" >Darapladib</text>
<line x1="42.9" y1="10.7" x2="134.9" y2="10.7" stroke="#111" stroke-width="1.5"/>
<line x1="138.8" y1="10.9" x2="231.6" y2="10.9" stroke="#111" stroke-width="1.5"/>
<text x="54.00" y="18.50" font-size="7.4" fill="#1a1a1a" text-anchor="middle" >1</text>
<text x="87.20" y="18.50" font-size="7.4" fill="#1a1a1a" text-anchor="middle" >2</text>
<text x="120.50" y="18.50" font-size="7.4" fill="#1a1a1a" text-anchor="middle" >4</text>
<text x="153.70" y="18.50" font-size="7.4" fill="#1a1a1a" text-anchor="middle" >1</text>
<text x="186.50" y="18.50" font-size="7.4" fill="#1a1a1a" text-anchor="middle" >2</text>
<text x="219.50" y="18.50" font-size="7.4" fill="#1a1a1a" text-anchor="middle" >4</text>
<line x1="72.9" y1="16.4" x2="72.9" y2="20" stroke="#222" stroke-width="0.9"/>
<line x1="105.4" y1="16.4" x2="105.4" y2="20" stroke="#222" stroke-width="0.9"/>
<line x1="137.4" y1="16.4" x2="137.4" y2="20" stroke="#222" stroke-width="0.9"/>
<line x1="168.5" y1="16.4" x2="168.5" y2="20" stroke="#222" stroke-width="0.9"/>
<line x1="201.0" y1="16.4" x2="201.0" y2="20" stroke="#222" stroke-width="0.9"/>
<text x="236.00" y="17.90" font-size="7.5" fill="#1a1a1a" >(h)</text>
<defs><linearGradient id="cb" x1="0" x2="1" y1="0" y2="0"><stop offset="0" stop-color="#0000ff"/><stop offset="0.5" stop-color="#ffffff"/><stop offset="1" stop-color="#ff0000"/></linearGradient></defs>
<rect x="43" y="507.1" width="184.5" height="2.1" fill="url(#cb)"/>
<text x="43.00" y="514.90" font-size="5" fill="#777" >-4.0</text>
<text x="136.00" y="514.90" font-size="5" fill="#777" text-anchor="middle" >0.0</text>
<text x="227.50" y="514.90" font-size="5" fill="#777" text-anchor="end" >4.0</text>
<text x="273.00" y="16.10" font-size="14.5" fill="#000" font-weight="bold" >b</text>
<text x="269.70" y="286.70" font-size="14.5" fill="#000" font-weight="bold" >c</text>
<text x="268.60" y="395.10" font-size="14.5" fill="#000" font-weight="bold" >d</text>
<text x="477.50" y="395.10" font-size="14.5" fill="#000" font-weight="bold" >e</text>
<text x="270.10" y="28.80" font-size="10" fill="#111" font-weight="bold" >Hs746T</text>
<text x="268.30" y="134.30" font-size="10" fill="#111" font-weight="bold" >SNU-484</text>
<line x1="321.7" y1="45.0" x2="321.7" y2="116.4" stroke="#8c8c8c" stroke-width="1"/>
<line x1="318.1" y1="116.4" x2="382.9" y2="116.4" stroke="#8c8c8c" stroke-width="1"/>
<line x1="320.09999999999997" y1="116.40" x2="321.7" y2="116.40" stroke="#8c8c8c" stroke-width="0.8"/>
<text x="319.40" y="118.50" font-size="6.0" fill="#333" text-anchor="end" >0</text>
<line x1="320.09999999999997" y1="98.55" x2="321.7" y2="98.55" stroke="#8c8c8c" stroke-width="0.8"/>
<text x="319.40" y="100.65" font-size="6.0" fill="#333" text-anchor="end" >5</text>
<line x1="320.09999999999997" y1="80.70" x2="321.7" y2="80.70" stroke="#8c8c8c" stroke-width="0.8"/>
<text x="319.40" y="82.80" font-size="6.0" fill="#333" text-anchor="end" >10</text>
<line x1="320.09999999999997" y1="62.85" x2="321.7" y2="62.85" stroke="#8c8c8c" stroke-width="0.8"/>
<text x="319.40" y="64.95" font-size="6.0" fill="#333" text-anchor="end" >15</text>
<line x1="320.09999999999997" y1="45.00" x2="321.7" y2="45.00" stroke="#8c8c8c" stroke-width="0.8"/>
<text x="319.40" y="47.10" font-size="6.0" fill="#333" text-anchor="end" >20</text>
<line x1="328.7" y1="116.4" x2="328.7" y2="118.10000000000001" stroke="#8c8c8c" stroke-width="0.8"/>
<polygon points="326.60,96.69 328.10,98.19 326.60,99.69 325.10,98.19" fill="#e8168c"/>
<polygon points="328.40,97.05 329.90,98.55 328.40,100.05 326.90,98.55" fill="#e8168c"/>
<polygon points="330.20,100.62 331.70,102.12 330.20,103.62 328.70,102.12" fill="#e8168c"/>
<polygon points="332.00,96.69 333.50,98.19 332.00,99.69 330.50,98.19" fill="#e8168c"/>
<polygon points="333.80,96.34 335.30,97.84 333.80,99.34 332.30,97.84" fill="#e8168c"/>
<polygon points="335.60,94.19 337.10,95.69 335.60,97.19 334.10,95.69" fill="#e8168c"/>
<polygon points="337.40,97.05 338.90,98.55 337.40,100.05 335.90,98.55" fill="#e8168c"/>
<line x1="325.50" y1="98.19" x2="338.50" y2="98.19" stroke="#e8168c" stroke-width="0.7"/>
<line x1="350.3" y1="116.4" x2="350.3" y2="118.10000000000001" stroke="#8c8c8c" stroke-width="0.8"/>
<circle cx="348.60" cy="91.05" r="1.19" fill="#f7921e"/>
<circle cx="350.40" cy="87.48" r="1.19" fill="#f7921e"/>
<circle cx="352.20" cy="83.20" r="1.19" fill="#f7921e"/>
<circle cx="354.00" cy="91.41" r="1.19" fill="#f7921e"/>
<circle cx="355.80" cy="88.55" r="1.19" fill="#f7921e"/>
<circle cx="357.60" cy="88.55" r="1.19" fill="#f7921e"/>
<circle cx="359.40" cy="91.77" r="1.19" fill="#f7921e"/>
<line x1="347.50" y1="88.91" x2="360.50" y2="88.91" stroke="#f7921e" stroke-width="0.7"/>
<line x1="371.6" y1="116.4" x2="371.6" y2="118.10000000000001" stroke="#8c8c8c" stroke-width="0.8"/>
<polygon points="371.65,64.27 373.09,66.86 370.21,66.86" fill="#9c9c1c"/>
<polygon points="373.10,60.34 374.54,62.93 371.66,62.93" fill="#9c9c1c"/>
<polygon points="374.55,64.98 375.99,67.57 373.11,67.57" fill="#9c9c1c"/>
<polygon points="376.00,71.05 377.44,73.64 374.56,73.64" fill="#9c9c1c"/>
<polygon points="377.45,65.34 378.89,67.93 376.01,67.93" fill="#9c9c1c"/>
<polygon points="378.90,64.63 380.34,67.21 377.46,67.21" fill="#9c9c1c"/>
<polygon points="380.35,66.41 381.79,69.00 378.91,69.00" fill="#9c9c1c"/>
<line x1="369.50" y1="66.42" x2="382.50" y2="66.42" stroke="#9c9c1c" stroke-width="0.7"/>
<line x1="376.00" y1="64.64" x2="376.00" y2="68.20" stroke="#9c9c1c" stroke-width="0.7"/>
<line x1="373.50" y1="64.64" x2="378.50" y2="64.64" stroke="#9c9c1c" stroke-width="0.7"/>
<line x1="373.50" y1="68.20" x2="378.50" y2="68.20" stroke="#9c9c1c" stroke-width="0.7"/>
<text x="359.30" y="39.20" font-size="8.5" fill="#111" font-weight="bold" text-anchor="middle" >PE-18:0_20:4+2O</text>
<text x="309.60" y="79.50" font-size="8.4" fill="#222" text-anchor="middle" transform="rotate(-90 309.60 79.50)" dy="2.9">ppb/protein</text>
<text x="352.50" y="78.00" font-size="5.49" font-weight="bold" fill="#222" text-anchor="middle" textLength="23.56" lengthAdjust="spacingAndGlyphs"><tspan font-style="italic">p</tspan> = 0.0002</text>
<text x="376.00" y="56.40" font-size="5.49" font-weight="bold" fill="#222" text-anchor="middle" textLength="23.56" lengthAdjust="spacingAndGlyphs"><tspan font-style="italic">p</tspan> &lt; 0.0001</text>
<line x1="419.1" y1="45.0" x2="419.1" y2="116.4" stroke="#8c8c8c" stroke-width="1"/>
<line x1="415.5" y1="116.4" x2="478.6" y2="116.4" stroke="#8c8c8c" stroke-width="1"/>
<line x1="417.5" y1="116.40" x2="419.1" y2="116.40" stroke="#8c8c8c" stroke-width="0.8"/>
<text x="416.80" y="118.50" font-size="6.0" fill="#333" text-anchor="end" >0</text>
<line x1="417.5" y1="102.12" x2="419.1" y2="102.12" stroke="#8c8c8c" stroke-width="0.8"/>
<text x="416.80" y="104.22" font-size="6.0" fill="#333" text-anchor="end" >500</text>
<line x1="417.5" y1="87.84" x2="419.1" y2="87.84" stroke="#8c8c8c" stroke-width="0.8"/>
<text x="416.80" y="89.94" font-size="6.0" fill="#333" text-anchor="end" >1000</text>
<line x1="417.5" y1="73.56" x2="419.1" y2="73.56" stroke="#8c8c8c" stroke-width="0.8"/>
<text x="416.80" y="75.66" font-size="6.0" fill="#333" text-anchor="end" >1500</text>
<line x1="417.5" y1="59.28" x2="419.1" y2="59.28" stroke="#8c8c8c" stroke-width="0.8"/>
<text x="416.80" y="61.38" font-size="6.0" fill="#333" text-anchor="end" >2000</text>
<line x1="417.5" y1="45.00" x2="419.1" y2="45.00" stroke="#8c8c8c" stroke-width="0.8"/>
<text x="416.80" y="47.10" font-size="6.0" fill="#333" text-anchor="end" >2500</text>
<line x1="425.1" y1="116.4" x2="425.1" y2="118.10000000000001" stroke="#8c8c8c" stroke-width="0.8"/>
<polygon points="424.10,94.91 425.60,96.41 424.10,97.91 422.60,96.41" fill="#e8168c"/>
<polygon points="425.90,94.34 427.40,95.84 425.90,97.34 424.40,95.84" fill="#e8168c"/>
<polygon points="427.70,99.19 429.20,100.69 427.70,102.19 426.20,100.69" fill="#e8168c"/>
<polygon points="429.50,95.48 431.00,96.98 429.50,98.48 428.00,96.98" fill="#e8168c"/>
<polygon points="431.30,95.19 432.80,96.69 431.30,98.19 429.80,96.69" fill="#e8168c"/>
<polygon points="433.10,94.05 434.60,95.55 433.10,97.05 431.60,95.55" fill="#e8168c"/>
<polygon points="434.90,96.05 436.40,97.55 434.90,99.05 433.40,97.55" fill="#e8168c"/>
<line x1="423.00" y1="96.41" x2="436.00" y2="96.41" stroke="#e8168c" stroke-width="0.7"/>
<line x1="446.7" y1="116.4" x2="446.7" y2="118.10000000000001" stroke="#8c8c8c" stroke-width="0.8"/>
<circle cx="445.20" cy="93.55" r="1.19" fill="#f7921e"/>
<circle cx="447.00" cy="90.70" r="1.19" fill="#f7921e"/>
<circle cx="448.80" cy="86.41" r="1.19" fill="#f7921e"/>
<circle cx="450.60" cy="91.55" r="1.19" fill="#f7921e"/>
<circle cx="452.40" cy="92.12" r="1.19" fill="#f7921e"/>
<circle cx="454.20" cy="92.98" r="1.19" fill="#f7921e"/>
<circle cx="456.00" cy="94.12" r="1.19" fill="#f7921e"/>
<line x1="444.10" y1="91.84" x2="457.10" y2="91.84" stroke="#f7921e" stroke-width="0.7"/>
<line x1="468.2" y1="116.4" x2="468.2" y2="118.10000000000001" stroke="#8c8c8c" stroke-width="0.8"/>
<polygon points="467.88,62.13 469.31,64.71 466.44,64.71" fill="#9c9c1c"/>
<polygon points="469.32,70.69 470.76,73.28 467.89,73.28" fill="#9c9c1c"/>
<polygon points="470.77,60.47 472.21,63.06 469.34,63.06" fill="#9c9c1c"/>
<polygon points="472.23,76.41 473.66,78.99 470.79,78.99" fill="#9c9c1c"/>
<polygon points="473.68,66.41 475.11,69.00 472.24,69.00" fill="#9c9c1c"/>
<polygon points="475.12,74.12 476.56,76.71 473.69,76.71" fill="#9c9c1c"/>
<line x1="465.00" y1="69.28" x2="478.00" y2="69.28" stroke="#9c9c1c" stroke-width="0.7"/>
<line x1="471.50" y1="66.13" x2="471.50" y2="72.42" stroke="#9c9c1c" stroke-width="0.7"/>
<line x1="469.00" y1="66.13" x2="474.00" y2="66.13" stroke="#9c9c1c" stroke-width="0.7"/>
<line x1="469.00" y1="72.42" x2="474.00" y2="72.42" stroke="#9c9c1c" stroke-width="0.7"/>
<text x="453.80" y="39.20" font-size="8.5" fill="#111" font-weight="bold" text-anchor="middle" >PE-18:0_20:4</text>
<text x="395.80" y="79.00" font-size="8.4" fill="#222" text-anchor="middle" transform="rotate(-90 395.80 79.00)" dy="2.9">ppb/protein</text>
<text x="450.30" y="82.00" font-size="5.49" font-weight="bold" fill="#222" text-anchor="middle" textLength="23.56" lengthAdjust="spacingAndGlyphs"><tspan font-style="italic">p</tspan> = 0.0060</text>
<text x="474.40" y="57.80" font-size="5.49" font-weight="bold" fill="#222" text-anchor="middle" textLength="23.56" lengthAdjust="spacingAndGlyphs"><tspan font-style="italic">p</tspan> &lt; 0.0001</text>
<line x1="516.0" y1="45.0" x2="516.0" y2="116.4" stroke="#8c8c8c" stroke-width="1"/>
<line x1="512.5" y1="116.4" x2="577.5" y2="116.4" stroke="#8c8c8c" stroke-width="1"/>
<line x1="514.4" y1="116.40" x2="516.0" y2="116.40" stroke="#8c8c8c" stroke-width="0.8"/>
<text x="513.70" y="118.50" font-size="6.0" fill="#333" text-anchor="end" >0</text>
<line x1="514.4" y1="102.12" x2="516.0" y2="102.12" stroke="#8c8c8c" stroke-width="0.8"/>
<text x="513.70" y="104.22" font-size="6.0" fill="#333" text-anchor="end" >200</text>
<line x1="514.4" y1="87.84" x2="516.0" y2="87.84" stroke="#8c8c8c" stroke-width="0.8"/>
<text x="513.70" y="89.94" font-size="6.0" fill="#333" text-anchor="end" >400</text>
<line x1="514.4" y1="73.56" x2="516.0" y2="73.56" stroke="#8c8c8c" stroke-width="0.8"/>
<text x="513.70" y="75.66" font-size="6.0" fill="#333" text-anchor="end" >600</text>
<line x1="514.4" y1="59.28" x2="516.0" y2="59.28" stroke="#8c8c8c" stroke-width="0.8"/>
<text x="513.70" y="61.38" font-size="6.0" fill="#333" text-anchor="end" >800</text>
<line x1="514.4" y1="45.00" x2="516.0" y2="45.00" stroke="#8c8c8c" stroke-width="0.8"/>
<text x="513.70" y="47.10" font-size="6.0" fill="#333" text-anchor="end" >1000</text>
<line x1="522.7" y1="116.4" x2="522.7" y2="118.10000000000001" stroke="#8c8c8c" stroke-width="0.8"/>
<polygon points="522.50,91.34 524.00,92.84 522.50,94.34 521.00,92.84" fill="#e8168c"/>
<polygon points="524.30,90.62 525.80,92.12 524.30,93.62 522.80,92.12" fill="#e8168c"/>
<polygon points="526.10,95.62 527.60,97.12 526.10,98.62 524.60,97.12" fill="#e8168c"/>
<polygon points="527.90,92.05 529.40,93.55 527.90,95.05 526.40,93.55" fill="#e8168c"/>
<polygon points="529.70,92.77 531.20,94.27 529.70,95.77 528.20,94.27" fill="#e8168c"/>
<polygon points="531.50,90.98 533.00,92.48 531.50,93.98 530.00,92.48" fill="#e8168c"/>
<line x1="520.50" y1="93.55" x2="533.50" y2="93.55" stroke="#e8168c" stroke-width="0.7"/>
<line x1="544.3" y1="116.4" x2="544.3" y2="118.10000000000001" stroke="#8c8c8c" stroke-width="0.8"/>
<circle cx="543.10" cy="87.13" r="1.19" fill="#f7921e"/>
<circle cx="544.90" cy="89.27" r="1.19" fill="#f7921e"/>
<circle cx="546.70" cy="92.84" r="1.19" fill="#f7921e"/>
<circle cx="548.50" cy="90.70" r="1.19" fill="#f7921e"/>
<circle cx="550.30" cy="91.41" r="1.19" fill="#f7921e"/>
<circle cx="552.10" cy="92.12" r="1.19" fill="#f7921e"/>
<circle cx="553.90" cy="93.55" r="1.19" fill="#f7921e"/>
<line x1="542.00" y1="90.70" x2="555.00" y2="90.70" stroke="#f7921e" stroke-width="0.7"/>
<line x1="565.8" y1="116.4" x2="565.8" y2="118.10000000000001" stroke="#8c8c8c" stroke-width="0.8"/>
<polygon points="567.15,72.12 568.59,74.71 565.71,74.71" fill="#9c9c1c"/>
<polygon points="568.60,74.98 570.04,77.57 567.16,77.57" fill="#9c9c1c"/>
<polygon points="570.05,81.40 571.49,83.99 568.61,83.99" fill="#9c9c1c"/>
<polygon points="571.50,76.41 572.94,78.99 570.06,78.99" fill="#9c9c1c"/>
<polygon points="572.95,77.12 574.39,79.71 571.51,79.71" fill="#9c9c1c"/>
<polygon points="574.40,77.83 575.84,80.42 572.96,80.42" fill="#9c9c1c"/>
<polygon points="575.85,80.69 577.29,83.28 574.41,83.28" fill="#9c9c1c"/>
<line x1="565.00" y1="77.84" x2="578.00" y2="77.84" stroke="#9c9c1c" stroke-width="0.7"/>
<line x1="571.50" y1="76.06" x2="571.50" y2="79.63" stroke="#9c9c1c" stroke-width="0.7"/>
<line x1="569.00" y1="76.06" x2="574.00" y2="76.06" stroke="#9c9c1c" stroke-width="0.7"/>
<line x1="569.00" y1="79.63" x2="574.00" y2="79.63" stroke="#9c9c1c" stroke-width="0.7"/>
<text x="550.30" y="39.20" font-size="8.5" fill="#111" font-weight="bold" text-anchor="middle" >PE-18:0_22:4</text>
<text x="497.20" y="79.50" font-size="8.4" fill="#222" text-anchor="middle" transform="rotate(-90 497.20 79.50)" dy="2.9">ppb/protein</text>
<text x="548.30" y="83.00" font-size="5.49" font-weight="bold" fill="#222" text-anchor="middle" textLength="23.56" lengthAdjust="spacingAndGlyphs"><tspan font-style="italic">p</tspan> = 0.0703</text>
<text x="569.40" y="70.00" font-size="5.49" font-weight="bold" fill="#222" text-anchor="middle" textLength="23.56" lengthAdjust="spacingAndGlyphs"><tspan font-style="italic">p</tspan> &lt; 0.0001</text>
<line x1="613.4" y1="45.0" x2="613.4" y2="116.4" stroke="#8c8c8c" stroke-width="1"/>
<line x1="610" y1="116.4" x2="673.0" y2="116.4" stroke="#8c8c8c" stroke-width="1"/>
<line x1="611.8" y1="116.40" x2="613.4" y2="116.40" stroke="#8c8c8c" stroke-width="0.8"/>
<text x="611.10" y="118.50" font-size="6.0" fill="#333" text-anchor="end" >0</text>
<line x1="611.8" y1="98.55" x2="613.4" y2="98.55" stroke="#8c8c8c" stroke-width="0.8"/>
<text x="611.10" y="100.65" font-size="6.0" fill="#333" text-anchor="end" >0.005</text>
<line x1="611.8" y1="80.70" x2="613.4" y2="80.70" stroke="#8c8c8c" stroke-width="0.8"/>
<text x="611.10" y="82.80" font-size="6.0" fill="#333" text-anchor="end" >0.010</text>
<line x1="611.8" y1="62.85" x2="613.4" y2="62.85" stroke="#8c8c8c" stroke-width="0.8"/>
<text x="611.10" y="64.95" font-size="6.0" fill="#333" text-anchor="end" >0.015</text>
<line x1="611.8" y1="45.00" x2="613.4" y2="45.00" stroke="#8c8c8c" stroke-width="0.8"/>
<text x="611.10" y="47.10" font-size="6.0" fill="#333" text-anchor="end" >0.020</text>
<line x1="620.4" y1="116.4" x2="620.4" y2="118.10000000000001" stroke="#8c8c8c" stroke-width="0.8"/>
<polygon points="619.50,88.84 621.00,90.34 619.50,91.84 618.00,90.34" fill="#e8168c"/>
<polygon points="621.30,88.12 622.80,89.62 621.30,91.12 619.80,89.62" fill="#e8168c"/>
<polygon points="623.10,87.05 624.60,88.55 623.10,90.05 621.60,88.55" fill="#e8168c"/>
<polygon points="624.90,89.20 626.40,90.70 624.90,92.20 623.40,90.70" fill="#e8168c"/>
<polygon points="626.70,89.91 628.20,91.41 626.70,92.91 625.20,91.41" fill="#e8168c"/>
<polygon points="628.50,90.62 630.00,92.12 628.50,93.62 627.00,92.12" fill="#e8168c"/>
<line x1="617.50" y1="90.70" x2="630.50" y2="90.70" stroke="#e8168c" stroke-width="0.7"/>
<line x1="642.0" y1="116.4" x2="642.0" y2="118.10000000000001" stroke="#8c8c8c" stroke-width="0.8"/>
<rect x="639.81" y="83.44" width="2.38" height="2.38" fill="#f7921e"/>
<rect x="641.61" y="83.80" width="2.38" height="2.38" fill="#f7921e"/>
<rect x="643.41" y="84.15" width="2.38" height="2.38" fill="#f7921e"/>
<rect x="645.21" y="84.51" width="2.38" height="2.38" fill="#f7921e"/>
<rect x="647.01" y="84.87" width="2.38" height="2.38" fill="#f7921e"/>
<rect x="648.81" y="85.58" width="2.38" height="2.38" fill="#f7921e"/>
<line x1="639.00" y1="85.70" x2="652.00" y2="85.70" stroke="#f7921e" stroke-width="0.7"/>
<line x1="663.2" y1="116.4" x2="663.2" y2="118.10000000000001" stroke="#8c8c8c" stroke-width="0.8"/>
<polygon points="663.38,85.33 664.81,87.92 661.94,87.92" fill="#9c9c1c"/>
<polygon points="664.83,81.05 666.26,83.64 663.39,83.64" fill="#9c9c1c"/>
<polygon points="666.27,86.05 667.71,88.63 664.84,88.63" fill="#9c9c1c"/>
<polygon points="667.73,86.40 669.16,88.99 666.29,88.99" fill="#9c9c1c"/>
<polygon points="669.17,86.76 670.61,89.35 667.74,89.35" fill="#9c9c1c"/>
<polygon points="670.62,88.19 672.06,90.78 669.19,90.78" fill="#9c9c1c"/>
<line x1="660.50" y1="87.48" x2="673.50" y2="87.48" stroke="#9c9c1c" stroke-width="0.7"/>
<line x1="667.00" y1="86.06" x2="667.00" y2="88.91" stroke="#9c9c1c" stroke-width="0.7"/>
<line x1="664.50" y1="86.06" x2="669.50" y2="86.06" stroke="#9c9c1c" stroke-width="0.7"/>
<line x1="664.50" y1="88.91" x2="669.50" y2="88.91" stroke="#9c9c1c" stroke-width="0.7"/>
<text x="647.60" y="39.20" font-size="8.5" fill="#111" font-weight="bold" text-anchor="middle" >OxPE/PE Ratio</text>
<text x="590.20" y="77.40" font-size="8.4" fill="#222" text-anchor="middle" transform="rotate(-90 590.20 77.40)" dy="2.9">OxPE/PE 38:4</text>
<text x="646.00" y="80.50" font-size="5.49" font-weight="bold" fill="#222" text-anchor="middle" textLength="23.56" lengthAdjust="spacingAndGlyphs"><tspan font-style="italic">p</tspan> &lt; 0.0001</text>
<text x="672.30" y="77.30" font-size="5.49" font-weight="bold" fill="#222" text-anchor="middle" textLength="23.56" lengthAdjust="spacingAndGlyphs"><tspan font-style="italic">p</tspan> = 0.0154</text>
<line x1="321.5" y1="147.0" x2="321.5" y2="218.2" stroke="#8c8c8c" stroke-width="1"/>
<line x1="321.5" y1="218.2" x2="386.0" y2="218.2" stroke="#8c8c8c" stroke-width="1"/>
<line x1="319.9" y1="218.20" x2="321.5" y2="218.20" stroke="#8c8c8c" stroke-width="0.8"/>
<text x="319.20" y="220.30" font-size="6.0" fill="#333" text-anchor="end" >0</text>
<line x1="319.9" y1="200.40" x2="321.5" y2="200.40" stroke="#8c8c8c" stroke-width="0.8"/>
<text x="319.20" y="202.50" font-size="6.0" fill="#333" text-anchor="end" >2</text>
<line x1="319.9" y1="182.60" x2="321.5" y2="182.60" stroke="#8c8c8c" stroke-width="0.8"/>
<text x="319.20" y="184.70" font-size="6.0" fill="#333" text-anchor="end" >4</text>
<line x1="319.9" y1="164.80" x2="321.5" y2="164.80" stroke="#8c8c8c" stroke-width="0.8"/>
<text x="319.20" y="166.90" font-size="6.0" fill="#333" text-anchor="end" >6</text>
<line x1="319.9" y1="147.00" x2="321.5" y2="147.00" stroke="#8c8c8c" stroke-width="0.8"/>
<text x="319.20" y="149.10" font-size="6.0" fill="#333" text-anchor="end" >8</text>
<line x1="332.9" y1="218.2" x2="332.9" y2="219.89999999999998" stroke="#8c8c8c" stroke-width="0.8"/>
<polygon points="327.90,187.33 329.40,188.83 327.90,190.33 326.40,188.83" fill="#e8168c"/>
<polygon points="329.70,185.55 331.20,187.05 329.70,188.55 328.20,187.05" fill="#e8168c"/>
<polygon points="331.50,190.89 333.00,192.39 331.50,193.89 330.00,192.39" fill="#e8168c"/>
<polygon points="333.30,188.22 334.80,189.72 333.30,191.22 331.80,189.72" fill="#e8168c"/>
<polygon points="335.10,186.44 336.60,187.94 335.10,189.44 333.60,187.94" fill="#e8168c"/>
<polygon points="336.90,190.89 338.40,192.39 336.90,193.89 335.40,192.39" fill="#e8168c"/>
<polygon points="338.70,189.11 340.20,190.61 338.70,192.11 337.20,190.61" fill="#e8168c"/>
<line x1="326.80" y1="189.72" x2="339.80" y2="189.72" stroke="#e8168c" stroke-width="0.7"/>
<line x1="333.30" y1="188.38" x2="333.30" y2="191.05" stroke="#e8168c" stroke-width="0.7"/>
<line x1="330.80" y1="188.38" x2="335.80" y2="188.38" stroke="#e8168c" stroke-width="0.7"/>
<line x1="330.80" y1="191.05" x2="335.80" y2="191.05" stroke="#e8168c" stroke-width="0.7"/>
<line x1="354.4" y1="218.2" x2="354.4" y2="219.89999999999998" stroke="#8c8c8c" stroke-width="0.8"/>
<circle cx="350.50" cy="186.16" r="1.19" fill="#f7921e"/>
<circle cx="352.30" cy="184.38" r="1.19" fill="#f7921e"/>
<circle cx="354.10" cy="185.27" r="1.19" fill="#f7921e"/>
<circle cx="355.90" cy="187.05" r="1.19" fill="#f7921e"/>
<circle cx="357.70" cy="186.16" r="1.19" fill="#f7921e"/>
<circle cx="359.50" cy="187.94" r="1.19" fill="#f7921e"/>
<line x1="348.50" y1="186.16" x2="361.50" y2="186.16" stroke="#f7921e" stroke-width="0.7"/>
<line x1="375.7" y1="218.2" x2="375.7" y2="219.89999999999998" stroke="#8c8c8c" stroke-width="0.8"/>
<polygon points="372.38,161.58 373.81,164.17 370.94,164.17" fill="#9c9c1c"/>
<polygon points="373.82,154.46 375.26,157.05 372.39,157.05" fill="#9c9c1c"/>
<polygon points="375.27,165.14 376.71,167.73 373.84,167.73" fill="#9c9c1c"/>
<polygon points="376.73,181.16 378.16,183.75 375.29,183.75" fill="#9c9c1c"/>
<polygon points="378.18,163.36 379.61,165.95 376.74,165.95" fill="#9c9c1c"/>
<polygon points="379.62,170.48 381.06,173.07 378.19,173.07" fill="#9c9c1c"/>
<line x1="369.50" y1="165.69" x2="382.50" y2="165.69" stroke="#9c9c1c" stroke-width="0.7"/>
<line x1="376.00" y1="162.13" x2="376.00" y2="169.25" stroke="#9c9c1c" stroke-width="0.7"/>
<line x1="373.50" y1="162.13" x2="378.50" y2="162.13" stroke="#9c9c1c" stroke-width="0.7"/>
<line x1="373.50" y1="169.25" x2="378.50" y2="169.25" stroke="#9c9c1c" stroke-width="0.7"/>
<text x="360.20" y="140.30" font-size="8.5" fill="#111" font-weight="bold" text-anchor="middle" >PE-18:0_20:4+2O</text>
<text x="309.30" y="179.30" font-size="8.4" fill="#222" text-anchor="middle" transform="rotate(-90 309.30 179.30)" dy="2.9">ppb/protein</text>
<text x="354.20" y="177.00" font-size="4.59" font-weight="bold" fill="#222" text-anchor="middle" textLength="19.72" lengthAdjust="spacingAndGlyphs"><tspan font-style="italic">p</tspan> = 0.0112</text>
<text x="374.10" y="150.00" font-size="4.59" font-weight="bold" fill="#222" text-anchor="middle" textLength="19.72" lengthAdjust="spacingAndGlyphs"><tspan font-style="italic">p</tspan> = 0.0005</text>
<line x1="419.9" y1="147.0" x2="419.9" y2="218.2" stroke="#8c8c8c" stroke-width="1"/>
<line x1="419.9" y1="218.2" x2="483.6" y2="218.2" stroke="#8c8c8c" stroke-width="1"/>
<line x1="418.29999999999995" y1="218.20" x2="419.9" y2="218.20" stroke="#8c8c8c" stroke-width="0.8"/>
<text x="417.60" y="220.30" font-size="6.0" fill="#333" text-anchor="end" >0</text>
<line x1="418.29999999999995" y1="197.86" x2="419.9" y2="197.86" stroke="#8c8c8c" stroke-width="0.8"/>
<text x="417.60" y="199.96" font-size="6.0" fill="#333" text-anchor="end" >1000</text>
<line x1="418.29999999999995" y1="177.51" x2="419.9" y2="177.51" stroke="#8c8c8c" stroke-width="0.8"/>
<text x="417.60" y="179.61" font-size="6.0" fill="#333" text-anchor="end" >2000</text>
<line x1="418.29999999999995" y1="157.17" x2="419.9" y2="157.17" stroke="#8c8c8c" stroke-width="0.8"/>
<text x="417.60" y="159.27" font-size="6.0" fill="#333" text-anchor="end" >3000</text>
<line x1="431.3" y1="218.2" x2="431.3" y2="219.89999999999998" stroke="#8c8c8c" stroke-width="0.8"/>
<polygon points="425.50,188.22 427.00,189.72 425.50,191.22 424.00,189.72" fill="#e8168c"/>
<polygon points="427.30,187.20 428.80,188.70 427.30,190.20 425.80,188.70" fill="#e8168c"/>
<polygon points="429.10,192.29 430.60,193.79 429.10,195.29 427.60,193.79" fill="#e8168c"/>
<polygon points="430.90,189.24 432.40,190.74 430.90,192.24 429.40,190.74" fill="#e8168c"/>
<polygon points="432.70,190.25 434.20,191.75 432.70,193.25 431.20,191.75" fill="#e8168c"/>
<polygon points="434.50,191.27 436.00,192.77 434.50,194.27 433.00,192.77" fill="#e8168c"/>
<line x1="423.50" y1="190.74" x2="436.50" y2="190.74" stroke="#e8168c" stroke-width="0.7"/>
<line x1="452.8" y1="218.2" x2="452.8" y2="219.89999999999998" stroke="#8c8c8c" stroke-width="0.8"/>
<circle cx="447.00" cy="189.72" r="1.19" fill="#f7921e"/>
<circle cx="448.80" cy="189.31" r="1.19" fill="#f7921e"/>
<circle cx="450.60" cy="190.13" r="1.19" fill="#f7921e"/>
<circle cx="452.40" cy="190.74" r="1.19" fill="#f7921e"/>
<circle cx="454.20" cy="191.75" r="1.19" fill="#f7921e"/>
<circle cx="456.00" cy="192.77" r="1.19" fill="#f7921e"/>
<line x1="445.00" y1="190.74" x2="458.00" y2="190.74" stroke="#f7921e" stroke-width="0.7"/>
<line x1="474.1" y1="218.2" x2="474.1" y2="219.89999999999998" stroke="#8c8c8c" stroke-width="0.8"/>
<polygon points="470.38,176.08 471.81,178.66 468.94,178.66" fill="#9c9c1c"/>
<polygon points="471.82,165.91 473.26,168.49 470.39,168.49" fill="#9c9c1c"/>
<polygon points="473.27,178.11 474.71,180.70 471.84,180.70" fill="#9c9c1c"/>
<polygon points="474.73,194.39 476.16,196.97 473.29,196.97" fill="#9c9c1c"/>
<polygon points="476.18,182.18 477.61,184.77 474.74,184.77" fill="#9c9c1c"/>
<polygon points="477.62,184.21 479.06,186.80 476.19,186.80" fill="#9c9c1c"/>
<line x1="467.50" y1="180.57" x2="480.50" y2="180.57" stroke="#9c9c1c" stroke-width="0.7"/>
<line x1="474.00" y1="176.50" x2="474.00" y2="184.63" stroke="#9c9c1c" stroke-width="0.7"/>
<line x1="471.50" y1="176.50" x2="476.50" y2="176.50" stroke="#9c9c1c" stroke-width="0.7"/>
<line x1="471.50" y1="184.63" x2="476.50" y2="184.63" stroke="#9c9c1c" stroke-width="0.7"/>
<text x="454.00" y="140.30" font-size="8.5" fill="#111" font-weight="bold" text-anchor="middle" >PE-18:0_20:4</text>
<text x="397.40" y="178.50" font-size="8.4" fill="#222" text-anchor="middle" transform="rotate(-90 397.40 178.50)" dy="2.9">ppb/protein</text>
<text x="454.50" y="183.50" font-size="5.49" font-weight="bold" fill="#222" text-anchor="middle" textLength="23.56" lengthAdjust="spacingAndGlyphs"><tspan font-style="italic">p</tspan> = 0.3776</text>
<text x="475.30" y="162.50" font-size="5.49" font-weight="bold" fill="#222" text-anchor="middle" textLength="23.56" lengthAdjust="spacingAndGlyphs"><tspan font-style="italic">p</tspan> = 0.0193</text>
<line x1="516.1" y1="147.0" x2="516.1" y2="218.2" stroke="#8c8c8c" stroke-width="1"/>
<line x1="516.1" y1="218.2" x2="579.8" y2="218.2" stroke="#8c8c8c" stroke-width="1"/>
<line x1="514.5" y1="218.20" x2="516.1" y2="218.20" stroke="#8c8c8c" stroke-width="0.8"/>
<text x="513.80" y="220.30" font-size="6.0" fill="#333" text-anchor="end" >0</text>
<line x1="514.5" y1="200.40" x2="516.1" y2="200.40" stroke="#8c8c8c" stroke-width="0.8"/>
<text x="513.80" y="202.50" font-size="6.0" fill="#333" text-anchor="end" >30</text>
<line x1="514.5" y1="182.60" x2="516.1" y2="182.60" stroke="#8c8c8c" stroke-width="0.8"/>
<text x="513.80" y="184.70" font-size="6.0" fill="#333" text-anchor="end" >60</text>
<line x1="514.5" y1="164.80" x2="516.1" y2="164.80" stroke="#8c8c8c" stroke-width="0.8"/>
<text x="513.80" y="166.90" font-size="6.0" fill="#333" text-anchor="end" >90</text>
<line x1="514.5" y1="147.00" x2="516.1" y2="147.00" stroke="#8c8c8c" stroke-width="0.8"/>
<text x="513.80" y="149.10" font-size="6.0" fill="#333" text-anchor="end" >120</text>
<line x1="527.5" y1="218.2" x2="527.5" y2="219.89999999999998" stroke="#8c8c8c" stroke-width="0.8"/>
<polygon points="521.60,187.63 523.10,189.13 521.60,190.63 520.10,189.13" fill="#e8168c"/>
<polygon points="523.40,187.03 524.90,188.53 523.40,190.03 521.90,188.53" fill="#e8168c"/>
<polygon points="525.20,191.78 526.70,193.28 525.20,194.78 523.70,193.28" fill="#e8168c"/>
<polygon points="527.00,188.22 528.50,189.72 527.00,191.22 525.50,189.72" fill="#e8168c"/>
<polygon points="528.80,188.81 530.30,190.31 528.80,191.81 527.30,190.31" fill="#e8168c"/>
<polygon points="530.60,189.41 532.10,190.91 530.60,192.41 529.10,190.91" fill="#e8168c"/>
<polygon points="532.40,190.59 533.90,192.09 532.40,193.59 530.90,192.09" fill="#e8168c"/>
<line x1="520.50" y1="190.31" x2="533.50" y2="190.31" stroke="#e8168c" stroke-width="0.7"/>
<line x1="549.0" y1="218.2" x2="549.0" y2="219.89999999999998" stroke="#8c8c8c" stroke-width="0.8"/>
<circle cx="544.00" cy="187.35" r="1.19" fill="#f7921e"/>
<circle cx="545.80" cy="187.94" r="1.19" fill="#f7921e"/>
<circle cx="547.60" cy="190.91" r="1.19" fill="#f7921e"/>
<circle cx="549.40" cy="188.53" r="1.19" fill="#f7921e"/>
<circle cx="551.20" cy="189.13" r="1.19" fill="#f7921e"/>
<circle cx="553.00" cy="189.72" r="1.19" fill="#f7921e"/>
<line x1="542.00" y1="188.53" x2="555.00" y2="188.53" stroke="#f7921e" stroke-width="0.7"/>
<line x1="570.3" y1="218.2" x2="570.3" y2="219.89999999999998" stroke="#8c8c8c" stroke-width="0.8"/>
<polygon points="566.65,177.01 568.09,179.60 565.21,179.60" fill="#9c9c1c"/>
<polygon points="568.10,174.04 569.54,176.63 566.66,176.63" fill="#9c9c1c"/>
<polygon points="569.55,178.20 570.99,180.78 568.11,180.78" fill="#9c9c1c"/>
<polygon points="571.00,188.88 572.44,191.46 569.56,191.46" fill="#9c9c1c"/>
<polygon points="572.45,179.38 573.89,181.97 571.01,181.97" fill="#9c9c1c"/>
<polygon points="573.90,180.57 575.34,183.16 572.46,183.16" fill="#9c9c1c"/>
<polygon points="575.35,181.16 576.79,183.75 573.91,183.75" fill="#9c9c1c"/>
<line x1="564.50" y1="181.41" x2="577.50" y2="181.41" stroke="#9c9c1c" stroke-width="0.7"/>
<line x1="571.00" y1="179.04" x2="571.00" y2="183.79" stroke="#9c9c1c" stroke-width="0.7"/>
<line x1="568.50" y1="179.04" x2="573.50" y2="179.04" stroke="#9c9c1c" stroke-width="0.7"/>
<line x1="568.50" y1="183.79" x2="573.50" y2="183.79" stroke="#9c9c1c" stroke-width="0.7"/>
<text x="550.50" y="140.30" font-size="8.5" fill="#111" font-weight="bold" text-anchor="middle" >PE-18:0_22:4</text>
<text x="497.80" y="179.00" font-size="8.4" fill="#222" text-anchor="middle" transform="rotate(-90 497.80 179.00)" dy="2.9">ppb/protein</text>
<text x="548.60" y="182.00" font-size="5.49" font-weight="bold" fill="#222" text-anchor="middle" textLength="23.56" lengthAdjust="spacingAndGlyphs"><tspan font-style="italic">p</tspan> = 0.2193</text>
<text x="569.60" y="171.00" font-size="5.49" font-weight="bold" fill="#222" text-anchor="middle" textLength="23.56" lengthAdjust="spacingAndGlyphs"><tspan font-style="italic">p</tspan> = 0.0040</text>
<line x1="613.3" y1="147.0" x2="613.3" y2="218.2" stroke="#8c8c8c" stroke-width="1"/>
<line x1="613.3" y1="218.2" x2="677.4" y2="218.2" stroke="#8c8c8c" stroke-width="1"/>
<line x1="611.6999999999999" y1="218.20" x2="613.3" y2="218.20" stroke="#8c8c8c" stroke-width="0.8"/>
<text x="611.00" y="220.30" font-size="6.0" fill="#333" text-anchor="end" >0</text>
<line x1="611.6999999999999" y1="194.47" x2="613.3" y2="194.47" stroke="#8c8c8c" stroke-width="0.8"/>
<text x="611.00" y="196.57" font-size="6.0" fill="#333" text-anchor="end" >0.002</text>
<line x1="611.6999999999999" y1="170.73" x2="613.3" y2="170.73" stroke="#8c8c8c" stroke-width="0.8"/>
<text x="611.00" y="172.83" font-size="6.0" fill="#333" text-anchor="end" >0.004</text>
<line x1="611.6999999999999" y1="147.00" x2="613.3" y2="147.00" stroke="#8c8c8c" stroke-width="0.8"/>
<text x="611.00" y="149.10" font-size="6.0" fill="#333" text-anchor="end" >0.006</text>
<line x1="624.7" y1="218.2" x2="624.7" y2="219.89999999999998" stroke="#8c8c8c" stroke-width="0.8"/>
<polygon points="620.00,189.41 621.50,190.91 620.00,192.41 618.50,190.91" fill="#e8168c"/>
<polygon points="621.80,187.03 623.30,188.53 621.80,190.03 620.30,188.53" fill="#e8168c"/>
<polygon points="623.60,191.78 625.10,193.28 623.60,194.78 622.10,193.28" fill="#e8168c"/>
<polygon points="625.40,188.22 626.90,189.72 625.40,191.22 623.90,189.72" fill="#e8168c"/>
<polygon points="627.20,189.41 628.70,190.91 627.20,192.41 625.70,190.91" fill="#e8168c"/>
<polygon points="629.00,190.59 630.50,192.09 629.00,193.59 627.50,192.09" fill="#e8168c"/>
<line x1="618.00" y1="190.91" x2="631.00" y2="190.91" stroke="#e8168c" stroke-width="0.7"/>
<line x1="646.2" y1="218.2" x2="646.2" y2="219.89999999999998" stroke="#8c8c8c" stroke-width="0.8"/>
<rect x="640.31" y="186.16" width="2.38" height="2.38" fill="#f7921e"/>
<rect x="642.11" y="184.97" width="2.38" height="2.38" fill="#f7921e"/>
<rect x="643.91" y="188.53" width="2.38" height="2.38" fill="#f7921e"/>
<rect x="645.71" y="187.35" width="2.38" height="2.38" fill="#f7921e"/>
<rect x="647.51" y="187.35" width="2.38" height="2.38" fill="#f7921e"/>
<rect x="649.31" y="188.53" width="2.38" height="2.38" fill="#f7921e"/>
<line x1="639.50" y1="188.53" x2="652.50" y2="188.53" stroke="#f7921e" stroke-width="0.7"/>
<line x1="667.5" y1="218.2" x2="667.5" y2="219.89999999999998" stroke="#8c8c8c" stroke-width="0.8"/>
<polygon points="662.65,178.79 664.09,181.38 661.21,181.38" fill="#9c9c1c"/>
<polygon points="664.10,175.23 665.54,177.82 662.66,177.82" fill="#9c9c1c"/>
<polygon points="665.55,184.72 666.99,187.31 664.11,187.31" fill="#9c9c1c"/>
<polygon points="667.00,177.60 668.44,180.19 665.56,180.19" fill="#9c9c1c"/>
<polygon points="668.45,179.98 669.89,182.56 667.01,182.56" fill="#9c9c1c"/>
<polygon points="669.90,181.16 671.34,183.75 668.46,183.75" fill="#9c9c1c"/>
<polygon points="671.35,182.35 672.79,184.94 669.91,184.94" fill="#9c9c1c"/>
<line x1="660.50" y1="181.41" x2="673.50" y2="181.41" stroke="#9c9c1c" stroke-width="0.7"/>
<line x1="667.00" y1="179.04" x2="667.00" y2="183.79" stroke="#9c9c1c" stroke-width="0.7"/>
<line x1="664.50" y1="179.04" x2="669.50" y2="179.04" stroke="#9c9c1c" stroke-width="0.7"/>
<line x1="664.50" y1="183.79" x2="669.50" y2="183.79" stroke="#9c9c1c" stroke-width="0.7"/>
<text x="647.70" y="140.30" font-size="8.5" fill="#111" font-weight="bold" text-anchor="middle" >OxPE/PE Ratio</text>
<text x="590.70" y="179.00" font-size="8.4" fill="#222" text-anchor="middle" transform="rotate(-90 590.70 179.00)" dy="2.9">OxPE/PE 38:4</text>
<text x="645.90" y="180.50" font-size="5.49" font-weight="bold" fill="#222" text-anchor="middle" textLength="23.56" lengthAdjust="spacingAndGlyphs"><tspan font-style="italic">p</tspan> = 0.0020</text>
<text x="667.80" y="171.50" font-size="5.49" font-weight="bold" fill="#222" text-anchor="middle" textLength="23.56" lengthAdjust="spacingAndGlyphs"><tspan font-style="italic">p</tspan> = 0.0002</text>
<text x="321.60" y="232.10" font-size="7.6" fill="#222" text-anchor="end" >RSL3</text>
<text x="321.60" y="242.10" font-size="7.6" fill="#222" text-anchor="end" >Darapladib</text>
<path d="M332.50 230.20h2.40" stroke="#222" stroke-width="0.85" fill="none"/>
<path d="M332.50 240.60h2.40" stroke="#222" stroke-width="0.85" fill="none"/>
<path d="M353.35 230.20h3.70M355.20 228.35v3.70" stroke="#222" stroke-width="0.85" fill="none"/>
<path d="M354.00 240.60h2.40" stroke="#222" stroke-width="0.85" fill="none"/>
<path d="M374.65 230.20h3.70M376.50 228.35v3.70" stroke="#222" stroke-width="0.85" fill="none"/>
<path d="M374.65 240.60h3.70M376.50 238.75v3.70" stroke="#222" stroke-width="0.85" fill="none"/>
<text x="420.60" y="232.10" font-size="7.6" fill="#222" text-anchor="end" >RSL3</text>
<text x="420.60" y="242.10" font-size="7.6" fill="#222" text-anchor="end" >Darapladib</text>
<path d="M431.30 230.20h2.40" stroke="#222" stroke-width="0.85" fill="none"/>
<path d="M431.30 240.60h2.40" stroke="#222" stroke-width="0.85" fill="none"/>
<path d="M450.95 230.20h3.70M452.80 228.35v3.70" stroke="#222" stroke-width="0.85" fill="none"/>
<path d="M451.60 240.60h2.40" stroke="#222" stroke-width="0.85" fill="none"/>
<path d="M472.65 230.20h3.70M474.50 228.35v3.70" stroke="#222" stroke-width="0.85" fill="none"/>
<path d="M472.65 240.60h3.70M474.50 238.75v3.70" stroke="#222" stroke-width="0.85" fill="none"/>
<text x="516.80" y="232.10" font-size="7.6" fill="#222" text-anchor="end" >RSL3</text>
<text x="516.80" y="242.10" font-size="7.6" fill="#222" text-anchor="end" >Darapladib</text>
<path d="M527.50 230.20h2.40" stroke="#222" stroke-width="0.85" fill="none"/>
<path d="M527.50 240.60h2.40" stroke="#222" stroke-width="0.85" fill="none"/>
<path d="M547.55 230.20h3.70M549.40 228.35v3.70" stroke="#222" stroke-width="0.85" fill="none"/>
<path d="M548.20 240.60h2.40" stroke="#222" stroke-width="0.85" fill="none"/>
<path d="M569.15 230.20h3.70M571.00 228.35v3.70" stroke="#222" stroke-width="0.85" fill="none"/>
<path d="M569.15 240.60h3.70M571.00 238.75v3.70" stroke="#222" stroke-width="0.85" fill="none"/>
<text x="614.40" y="232.10" font-size="7.6" fill="#222" text-anchor="end" >RSL3</text>
<text x="614.40" y="242.10" font-size="7.6" fill="#222" text-anchor="end" >Darapladib</text>
<path d="M623.90 230.20h2.40" stroke="#222" stroke-width="0.85" fill="none"/>
<path d="M623.90 240.60h2.40" stroke="#222" stroke-width="0.85" fill="none"/>
<path d="M644.65 230.20h3.70M646.50 228.35v3.70" stroke="#222" stroke-width="0.85" fill="none"/>
<path d="M645.30 240.60h2.40" stroke="#222" stroke-width="0.85" fill="none"/>
<path d="M666.05 230.20h3.70M667.90 228.35v3.70" stroke="#222" stroke-width="0.85" fill="none"/>
<path d="M666.05 240.60h3.70M667.90 238.75v3.70" stroke="#222" stroke-width="0.85" fill="none"/>
<text x="343.30" y="310.30" font-size="9.6" fill="#111" font-weight="bold" text-anchor="middle" textLength="26.50" lengthAdjust="spacingAndGlyphs" >H1299</text>
<text x="343.10" y="319.40" font-size="9.6" fill="#111" font-weight="bold" text-anchor="middle" textLength="41.50" lengthAdjust="spacingAndGlyphs" >Cell lysate</text>
<line x1="375.1" y1="312.2" x2="430.5" y2="312.2" stroke="#111" stroke-width="1.1"/>
<polygon points="429.5,309.6 435.6,312.2 429.5,314.8" fill="#111"/>
<text x="402.70" y="306.60" font-size="7.0" fill="#111" font-weight="bold" text-anchor="middle" textLength="23.40" lengthAdjust="spacingAndGlyphs" >3 hours</text>
<text x="384.50" y="322.00" font-size="7.0" fill="#111" font-weight="bold" textLength="33.40" lengthAdjust="spacingAndGlyphs" >+ inhibitor</text>
<text x="384.50" y="330.80" font-size="7.0" fill="#111" font-weight="bold" textLength="40.40" lengthAdjust="spacingAndGlyphs" >+ PE-AA-d11</text>
<text x="477.80" y="305.80" font-size="9.6" fill="#111" font-weight="bold" text-anchor="middle" textLength="67.00" lengthAdjust="spacingAndGlyphs" >Measure AA-d11</text>
<text x="478.20" y="315.50" font-size="7.8" fill="#111" font-weight="bold" text-anchor="middle" textLength="49.00" lengthAdjust="spacingAndGlyphs" >released from</text>
<text x="478.00" y="324.90" font-size="7.8" fill="#111" font-weight="bold" text-anchor="middle" textLength="64.30" lengthAdjust="spacingAndGlyphs" >PE(18:0/20:4-d11)</text>
<text x="614.50" y="257.60" font-size="8.5" fill="#111" font-weight="bold" text-anchor="middle" textLength="28.70" lengthAdjust="spacingAndGlyphs" >AA-d11</text>
<line x1="553" y1="265.9" x2="553" y2="341.6" stroke="#999" stroke-width="1"/>
<line x1="553" y1="341.6" x2="667.6" y2="341.6" stroke="#999" stroke-width="1"/>
<line x1="550.8" y1="341.60" x2="553" y2="341.60" stroke="#999" stroke-width="0.8"/>
<text x="549.50" y="343.70" font-size="5.8" fill="#333" text-anchor="end" >0</text>
<line x1="550.8" y1="316.37" x2="553" y2="316.37" stroke="#999" stroke-width="0.8"/>
<text x="549.50" y="318.47" font-size="5.8" fill="#333" text-anchor="end" >2</text>
<line x1="550.8" y1="291.13" x2="553" y2="291.13" stroke="#999" stroke-width="0.8"/>
<text x="549.50" y="293.23" font-size="5.8" fill="#333" text-anchor="end" >4</text>
<line x1="550.8" y1="265.90" x2="553" y2="265.90" stroke="#999" stroke-width="0.8"/>
<text x="549.50" y="268.00" font-size="5.8" fill="#333" text-anchor="end" >6</text>
<text x="536.7" y="302" font-size="8.6" fill="#222" text-anchor="middle" textLength="38.5" lengthAdjust="spacingAndGlyphs" transform="rotate(-90 536.7 302)" dy="3">Response</text>
<line x1="562.40" y1="341.6" x2="562.40" y2="343.6" stroke="#999" stroke-width="0.8"/>
<line x1="574.43" y1="341.6" x2="574.43" y2="343.6" stroke="#999" stroke-width="0.8"/>
<line x1="586.46" y1="341.6" x2="586.46" y2="343.6" stroke="#999" stroke-width="0.8"/>
<line x1="598.49" y1="341.6" x2="598.49" y2="343.6" stroke="#999" stroke-width="0.8"/>
<line x1="610.52" y1="341.6" x2="610.52" y2="343.6" stroke="#999" stroke-width="0.8"/>
<line x1="622.55" y1="341.6" x2="622.55" y2="343.6" stroke="#999" stroke-width="0.8"/>
<line x1="634.58" y1="341.6" x2="634.58" y2="343.6" stroke="#999" stroke-width="0.8"/>
<line x1="646.61" y1="341.6" x2="646.61" y2="343.6" stroke="#999" stroke-width="0.8"/>
<line x1="658.64" y1="341.6" x2="658.64" y2="343.6" stroke="#999" stroke-width="0.8"/>
<line x1="559.00" y1="341.60" x2="565.80" y2="341.60" stroke="#000" stroke-width="2.2" stroke-linecap="round"/>
<polygon points="572.23,279.49 573.78,282.28 570.68,282.28" fill="#111"/>
<polygon points="574.43,285.80 575.98,288.59 572.88,288.59" fill="#111"/>
<polygon points="576.63,283.27 578.18,286.07 575.08,286.07" fill="#111"/>
<line x1="569.93" y1="284.19" x2="578.93" y2="284.19" stroke="#333" stroke-width="0.8"/>
<polygon points="584.26,278.23 585.81,281.02 582.71,281.02" fill="#1c1c8c"/>
<polygon points="586.46,278.86 588.01,281.65 584.91,281.65" fill="#1c1c8c"/>
<polygon points="588.66,279.49 590.21,282.28 587.11,282.28" fill="#1c1c8c"/>
<line x1="581.96" y1="280.41" x2="590.96" y2="280.41" stroke="#333" stroke-width="0.8"/>
<polygon points="596.29,278.23 597.84,281.02 594.74,281.02" fill="#2828e0"/>
<polygon points="598.49,285.80 600.04,288.59 596.94,288.59" fill="#2828e0"/>
<polygon points="600.69,280.75 602.24,283.54 599.14,283.54" fill="#2828e0"/>
<line x1="593.99" y1="282.93" x2="602.99" y2="282.93" stroke="#333" stroke-width="0.8"/>
<polygon points="608.32,307.18 609.94,308.80 608.32,310.42 606.70,308.80" fill="#2828e0"/>
<polygon points="610.52,312.22 612.14,313.84 610.52,315.46 608.90,313.84" fill="#2828e0"/>
<polygon points="612.72,310.96 614.34,312.58 612.72,314.20 611.10,312.58" fill="#2828e0"/>
<line x1="606.02" y1="311.32" x2="615.02" y2="311.32" stroke="#333" stroke-width="0.8"/>
<polygon points="620.35,311.03 621.90,313.82 618.80,313.82" fill="#3f5fe8"/>
<polygon points="622.55,311.03 624.10,313.82 621.00,313.82" fill="#3f5fe8"/>
<polygon points="624.75,311.03 626.30,313.82 623.20,313.82" fill="#3f5fe8"/>
<line x1="618.05" y1="312.58" x2="627.05" y2="312.58" stroke="#333" stroke-width="0.8"/>
<polygon points="632.38,325.54 633.93,328.33 630.83,328.33" fill="#4a9ff0"/>
<polygon points="634.58,327.43 636.13,330.23 633.03,330.23" fill="#4a9ff0"/>
<polygon points="636.78,326.80 638.33,329.59 635.23,329.59" fill="#4a9ff0"/>
<line x1="630.08" y1="328.35" x2="639.08" y2="328.35" stroke="#333" stroke-width="0.8"/>
<circle cx="646.61" cy="275.99" r="1.28" fill="#4060e0"/>
<circle cx="646.61" cy="289.87" r="1.28" fill="#4060e0"/>
<circle cx="646.61" cy="299.97" r="1.28" fill="#4060e0"/>
<line x1="642.11" y1="289.24" x2="651.11" y2="289.24" stroke="#333" stroke-width="0.8"/>
<line x1="646.61" y1="277.25" x2="646.61" y2="301.23" stroke="#555" stroke-width="0.6"/>
<line x1="644.61" y1="277.25" x2="648.61" y2="277.25" stroke="#555" stroke-width="0.6"/>
<line x1="644.61" y1="301.23" x2="648.61" y2="301.23" stroke="#555" stroke-width="0.6"/>
<circle cx="658.64" cy="283.56" r="1.28" fill="#4a9ff0"/>
<circle cx="658.64" cy="293.66" r="1.28" fill="#4a9ff0"/>
<circle cx="658.64" cy="296.18" r="1.28" fill="#4a9ff0"/>
<line x1="654.14" y1="291.13" x2="663.14" y2="291.13" stroke="#333" stroke-width="0.8"/>
<line x1="658.64" y1="283.31" x2="658.64" y2="298.96" stroke="#555" stroke-width="0.6"/>
<line x1="656.64" y1="283.31" x2="660.64" y2="283.31" stroke="#555" stroke-width="0.6"/>
<line x1="656.64" y1="298.96" x2="660.64" y2="298.96" stroke="#555" stroke-width="0.6"/>
<path d="M622.6 299 V265.2 H646.5 V269.9" fill="none" stroke="#111" stroke-width="0.8"/>
<path d="M634.8 317.7 V271.5 H658.6 V276.2" fill="none" stroke="#111" stroke-width="0.8"/>
<text x="634.80" y="262.60" font-size="5.15" font-weight="bold" fill="#222" text-anchor="middle" textLength="22.12" lengthAdjust="spacingAndGlyphs"><tspan font-style="italic">p</tspan> = 0.0418</text>
<text x="661.60" y="269.00" font-size="5.15" font-weight="bold" fill="#222" text-anchor="middle" textLength="22.12" lengthAdjust="spacingAndGlyphs"><tspan font-style="italic">p</tspan> = 0.0056</text>
<text x="564.20" y="349.00" font-size="6.2" fill="#333" text-anchor="end" transform="rotate(-45 564.20 349.00)">initial</text>
<text x="576.23" y="349.00" font-size="6.2" fill="#333" text-anchor="end" transform="rotate(-45 576.23 349.00)">0</text>
<text x="588.26" y="349.00" font-size="6.2" fill="#333" text-anchor="end" transform="rotate(-45 588.26 349.00)">0.001</text>
<text x="600.29" y="349.00" font-size="6.2" fill="#333" text-anchor="end" transform="rotate(-45 600.29 349.00)">0.01</text>
<text x="612.32" y="349.00" font-size="6.2" fill="#333" text-anchor="end" transform="rotate(-45 612.32 349.00)">0.1</text>
<text x="624.35" y="349.00" font-size="6.2" fill="#333" text-anchor="end" transform="rotate(-45 624.35 349.00)">1</text>
<text x="636.38" y="349.00" font-size="6.2" fill="#333" text-anchor="end" transform="rotate(-45 636.38 349.00)">10</text>
<text x="648.41" y="349.00" font-size="6.2" fill="#333" text-anchor="end" transform="rotate(-45 648.41 349.00)">1</text>
<text x="660.44" y="349.00" font-size="6.2" fill="#333" text-anchor="end" transform="rotate(-45 660.44 349.00)">10</text>
<text x="669.70" y="349.50" font-size="6.4" fill="#333" >(μM)</text>
<line x1="565.4" y1="361.2" x2="638" y2="361.2" stroke="#999" stroke-width="1.2"/>
<line x1="640.2" y1="361.2" x2="669.7" y2="361.2" stroke="#999" stroke-width="1.2"/>
<text x="598.50" y="371.30" font-size="7.6" fill="#222" text-anchor="middle" textLength="36.70" lengthAdjust="spacingAndGlyphs" >Darapladib</text>
<text x="654.80" y="371.30" font-size="7.6" fill="#222" text-anchor="middle" textLength="27.60" lengthAdjust="spacingAndGlyphs" >(S)-BEL</text>
<rect x="326.60" y="420.87" width="3.7" height="62.83" fill="#575757"/>
<line x1="328.45" y1="420.37" x2="328.45" y2="421.37" stroke="#222" stroke-width="0.5"/>
<line x1="327.55" y1="420.37" x2="329.35" y2="420.37" stroke="#222" stroke-width="0.5"/>
<circle cx="327.75" cy="421.17" r="0.45" fill="#333"/>
<circle cx="328.45" cy="420.87" r="0.45" fill="#333"/>
<circle cx="329.15" cy="420.57" r="0.45" fill="#333"/>
<rect x="332.20" y="418.99" width="3.7" height="64.71" fill="#a3a3a3"/>
<line x1="334.05" y1="417.73" x2="334.05" y2="420.24" stroke="#222" stroke-width="0.5"/>
<line x1="333.15" y1="417.73" x2="334.95" y2="417.73" stroke="#222" stroke-width="0.5"/>
<circle cx="333.35" cy="419.74" r="0.45" fill="#333"/>
<circle cx="334.05" cy="418.99" r="0.45" fill="#333"/>
<circle cx="334.75" cy="418.23" r="0.45" fill="#333"/>
<rect x="337.90" y="420.24" width="3.7" height="63.46" fill="#4d4dff"/>
<line x1="339.75" y1="419.49" x2="339.75" y2="421.00" stroke="#222" stroke-width="0.5"/>
<line x1="338.85" y1="419.49" x2="340.65" y2="419.49" stroke="#222" stroke-width="0.5"/>
<circle cx="339.05" cy="420.69" r="0.45" fill="#333"/>
<circle cx="339.75" cy="420.24" r="0.45" fill="#333"/>
<circle cx="340.45" cy="419.79" r="0.45" fill="#333"/>
<rect x="343.60" y="432.81" width="3.7" height="50.89" fill="#ff3fd2"/>
<line x1="345.45" y1="431.87" x2="345.45" y2="433.75" stroke="#222" stroke-width="0.5"/>
<line x1="344.55" y1="431.87" x2="346.35" y2="431.87" stroke="#222" stroke-width="0.5"/>
<circle cx="344.75" cy="433.37" r="0.45" fill="#333"/>
<circle cx="345.45" cy="432.81" r="0.45" fill="#333"/>
<circle cx="346.15" cy="432.24" r="0.45" fill="#333"/>
<rect x="355.00" y="442.23" width="3.7" height="41.47" fill="#575757"/>
<line x1="356.85" y1="440.03" x2="356.85" y2="444.43" stroke="#222" stroke-width="0.5"/>
<line x1="355.95" y1="440.03" x2="357.75" y2="440.03" stroke="#222" stroke-width="0.5"/>
<circle cx="356.15" cy="443.55" r="0.45" fill="#333"/>
<circle cx="356.85" cy="442.23" r="0.45" fill="#333"/>
<circle cx="357.55" cy="440.91" r="0.45" fill="#333"/>
<rect x="360.70" y="461.71" width="3.7" height="21.99" fill="#a3a3a3"/>
<line x1="362.55" y1="459.20" x2="362.55" y2="464.22" stroke="#222" stroke-width="0.5"/>
<line x1="361.65" y1="459.20" x2="363.45" y2="459.20" stroke="#222" stroke-width="0.5"/>
<circle cx="361.85" cy="463.22" r="0.45" fill="#333"/>
<circle cx="362.55" cy="461.71" r="0.45" fill="#333"/>
<circle cx="363.25" cy="460.20" r="0.45" fill="#333"/>
<rect x="366.40" y="467.99" width="3.7" height="15.71" fill="#4d4dff"/>
<line x1="368.25" y1="467.36" x2="368.25" y2="468.62" stroke="#222" stroke-width="0.5"/>
<line x1="367.35" y1="467.36" x2="369.15" y2="467.36" stroke="#222" stroke-width="0.5"/>
<circle cx="367.55" cy="468.37" r="0.45" fill="#333"/>
<circle cx="368.25" cy="467.99" r="0.45" fill="#333"/>
<circle cx="368.95" cy="467.62" r="0.45" fill="#333"/>
<rect x="372.10" y="472.39" width="3.7" height="11.31" fill="#ff3fd2"/>
<line x1="373.95" y1="471.13" x2="373.95" y2="473.65" stroke="#222" stroke-width="0.5"/>
<line x1="373.05" y1="471.13" x2="374.85" y2="471.13" stroke="#222" stroke-width="0.5"/>
<circle cx="373.25" cy="473.14" r="0.45" fill="#333"/>
<circle cx="373.95" cy="472.39" r="0.45" fill="#333"/>
<circle cx="374.65" cy="471.64" r="0.45" fill="#333"/>
<rect x="383.50" y="421.50" width="3.7" height="62.20" fill="#575757"/>
<line x1="385.35" y1="419.93" x2="385.35" y2="423.07" stroke="#222" stroke-width="0.5"/>
<line x1="384.45" y1="419.93" x2="386.25" y2="419.93" stroke="#222" stroke-width="0.5"/>
<circle cx="384.65" cy="422.44" r="0.45" fill="#333"/>
<circle cx="385.35" cy="421.50" r="0.45" fill="#333"/>
<circle cx="386.05" cy="420.56" r="0.45" fill="#333"/>
<rect x="389.20" y="424.01" width="3.7" height="59.69" fill="#a3a3a3"/>
<line x1="391.05" y1="420.87" x2="391.05" y2="427.15" stroke="#222" stroke-width="0.5"/>
<line x1="390.15" y1="420.87" x2="391.95" y2="420.87" stroke="#222" stroke-width="0.5"/>
<circle cx="390.35" cy="425.90" r="0.45" fill="#333"/>
<circle cx="391.05" cy="424.01" r="0.45" fill="#333"/>
<circle cx="391.75" cy="422.13" r="0.45" fill="#333"/>
<rect x="394.90" y="430.92" width="3.7" height="52.78" fill="#4d4dff"/>
<line x1="396.75" y1="429.98" x2="396.75" y2="431.87" stroke="#222" stroke-width="0.5"/>
<line x1="395.85" y1="429.98" x2="397.65" y2="429.98" stroke="#222" stroke-width="0.5"/>
<circle cx="396.05" cy="431.49" r="0.45" fill="#333"/>
<circle cx="396.75" cy="430.92" r="0.45" fill="#333"/>
<circle cx="397.45" cy="430.36" r="0.45" fill="#333"/>
<rect x="400.60" y="441.60" width="3.7" height="42.10" fill="#ff3fd2"/>
<line x1="402.45" y1="440.66" x2="402.45" y2="442.55" stroke="#222" stroke-width="0.5"/>
<line x1="401.55" y1="440.66" x2="403.35" y2="440.66" stroke="#222" stroke-width="0.5"/>
<circle cx="401.75" cy="442.17" r="0.45" fill="#333"/>
<circle cx="402.45" cy="441.60" r="0.45" fill="#333"/>
<circle cx="403.15" cy="441.04" r="0.45" fill="#333"/>
<rect x="412.00" y="474.90" width="3.7" height="8.80" fill="#575757"/>
<line x1="413.85" y1="474.53" x2="413.85" y2="475.28" stroke="#222" stroke-width="0.5"/>
<line x1="412.95" y1="474.53" x2="414.75" y2="474.53" stroke="#222" stroke-width="0.5"/>
<circle cx="413.15" cy="475.13" r="0.45" fill="#333"/>
<circle cx="413.85" cy="474.90" r="0.45" fill="#333"/>
<circle cx="414.55" cy="474.68" r="0.45" fill="#333"/>
<rect x="417.70" y="475.53" width="3.7" height="8.17" fill="#a3a3a3"/>
<line x1="419.55" y1="475.16" x2="419.55" y2="475.91" stroke="#222" stroke-width="0.5"/>
<line x1="418.65" y1="475.16" x2="420.45" y2="475.16" stroke="#222" stroke-width="0.5"/>
<circle cx="418.85" cy="475.76" r="0.45" fill="#333"/>
<circle cx="419.55" cy="475.53" r="0.45" fill="#333"/>
<circle cx="420.25" cy="475.31" r="0.45" fill="#333"/>
<rect x="423.30" y="476.16" width="3.7" height="7.54" fill="#4d4dff"/>
<line x1="425.15" y1="475.78" x2="425.15" y2="476.54" stroke="#222" stroke-width="0.5"/>
<line x1="424.25" y1="475.78" x2="426.05" y2="475.78" stroke="#222" stroke-width="0.5"/>
<circle cx="424.45" cy="476.39" r="0.45" fill="#333"/>
<circle cx="425.15" cy="476.16" r="0.45" fill="#333"/>
<circle cx="425.85" cy="475.93" r="0.45" fill="#333"/>
<rect x="429.00" y="477.10" width="3.7" height="6.60" fill="#ff3fd2"/>
<line x1="430.85" y1="476.73" x2="430.85" y2="477.48" stroke="#222" stroke-width="0.5"/>
<line x1="429.95" y1="476.73" x2="431.75" y2="476.73" stroke="#222" stroke-width="0.5"/>
<circle cx="430.15" cy="477.33" r="0.45" fill="#333"/>
<circle cx="430.85" cy="477.10" r="0.45" fill="#333"/>
<circle cx="431.55" cy="476.88" r="0.45" fill="#333"/>
<line x1="325.0" y1="408.00" x2="325.0" y2="484.30" stroke="#111" stroke-width="1.2"/>
<line x1="324.4" y1="483.70" x2="435.0" y2="483.70" stroke="#111" stroke-width="1.2"/>
<line x1="322.4" y1="483.70" x2="325.0" y2="483.70" stroke="#111" stroke-width="0.9"/>
<text x="321.80" y="485.90" font-size="6.3" fill="#222" text-anchor="end" >0</text>
<line x1="322.4" y1="471.13" x2="325.0" y2="471.13" stroke="#111" stroke-width="0.9"/>
<text x="321.80" y="473.33" font-size="6.3" fill="#222" text-anchor="end" >20</text>
<line x1="322.4" y1="458.57" x2="325.0" y2="458.57" stroke="#111" stroke-width="0.9"/>
<text x="321.80" y="460.77" font-size="6.3" fill="#222" text-anchor="end" >40</text>
<line x1="322.4" y1="446.00" x2="325.0" y2="446.00" stroke="#111" stroke-width="0.9"/>
<text x="321.80" y="448.20" font-size="6.3" fill="#222" text-anchor="end" >60</text>
<line x1="322.4" y1="433.44" x2="325.0" y2="433.44" stroke="#111" stroke-width="0.9"/>
<text x="321.80" y="435.64" font-size="6.3" fill="#222" text-anchor="end" >80</text>
<line x1="322.4" y1="420.87" x2="325.0" y2="420.87" stroke="#111" stroke-width="0.9"/>
<text x="321.80" y="423.07" font-size="6.3" fill="#222" text-anchor="end" >100</text>
<line x1="322.4" y1="408.30" x2="325.0" y2="408.30" stroke="#111" stroke-width="0.9"/>
<text x="321.80" y="410.50" font-size="6.3" fill="#222" text-anchor="end" >120</text>
<text x="375.65" y="388.50" font-size="10.8" fill="#111" font-weight="bold" text-anchor="middle" textLength="34.70" lengthAdjust="spacingAndGlyphs" >Hs746T</text>
<text x="300.50" y="445" font-size="8.9" fill="#222" text-anchor="middle" textLength="63.5" lengthAdjust="spacingAndGlyphs" transform="rotate(-90 300.50 445)" dy="3">Cell viability (%)</text>
<text x="323.60" y="494.50" font-size="8.4" fill="#222" text-anchor="end" textLength="21.00" lengthAdjust="spacingAndGlyphs" >RSL3</text>
<text x="323.60" y="504.30" font-size="8.4" fill="#222" text-anchor="end" textLength="41.00" lengthAdjust="spacingAndGlyphs" >Darapladib</text>
<path d="M336.90 491.80h3.00" stroke="#222" stroke-width="0.95" fill="none"/>
<path d="M336.90 503.00h3.00" stroke="#222" stroke-width="0.95" fill="none"/>
<path d="M364.30 491.80h4.20M366.40 489.70v4.20" stroke="#222" stroke-width="0.95" fill="none"/>
<path d="M364.90 503.00h3.00" stroke="#222" stroke-width="0.95" fill="none"/>
<path d="M393.00 491.80h3.00" stroke="#222" stroke-width="0.95" fill="none"/>
<path d="M392.40 503.00h4.20M394.50 500.90v4.20" stroke="#222" stroke-width="0.95" fill="none"/>
<path d="M419.90 491.80h4.20M422.00 489.70v4.20" stroke="#222" stroke-width="0.95" fill="none"/>
<path d="M419.90 503.00h4.20M422.00 500.90v4.20" stroke="#222" stroke-width="0.95" fill="none"/>
<rect x="437.60" y="418.90" width="4.4" height="4.2" fill="#575757"/>
<text x="445.30" y="423.10" font-size="6.0" fill="#333" >AA 0 μM</text>
<rect x="437.60" y="427.00" width="4.4" height="4.2" fill="#a3a3a3"/>
<text x="445.30" y="431.20" font-size="6.0" fill="#333" >AA 25 μM</text>
<rect x="437.60" y="435.10" width="4.4" height="4.2" fill="#4d4dff"/>
<text x="445.30" y="439.30" font-size="6.0" fill="#333" >AA 50 μM</text>
<rect x="437.60" y="443.00" width="4.4" height="4.2" fill="#ff3fd2"/>
<text x="445.30" y="447.20" font-size="6.0" fill="#333" >AA 100 μM</text>
<rect x="520.50" y="420.67" width="3.7" height="62.83" fill="#575757"/>
<line x1="522.35" y1="420.36" x2="522.35" y2="420.98" stroke="#222" stroke-width="0.5"/>
<line x1="521.45" y1="420.36" x2="523.25" y2="420.36" stroke="#222" stroke-width="0.5"/>
<circle cx="521.65" cy="420.86" r="0.45" fill="#333"/>
<circle cx="522.35" cy="420.67" r="0.45" fill="#333"/>
<circle cx="523.05" cy="420.48" r="0.45" fill="#333"/>
<rect x="526.20" y="417.53" width="3.7" height="65.97" fill="#a3a3a3"/>
<line x1="528.05" y1="416.27" x2="528.05" y2="418.79" stroke="#222" stroke-width="0.5"/>
<line x1="527.15" y1="416.27" x2="528.95" y2="416.27" stroke="#222" stroke-width="0.5"/>
<circle cx="527.35" cy="418.28" r="0.45" fill="#333"/>
<circle cx="528.05" cy="417.53" r="0.45" fill="#333"/>
<circle cx="528.75" cy="416.77" r="0.45" fill="#333"/>
<rect x="531.90" y="416.90" width="3.7" height="66.60" fill="#4d4dff"/>
<line x1="533.75" y1="415.02" x2="533.75" y2="418.79" stroke="#222" stroke-width="0.5"/>
<line x1="532.85" y1="415.02" x2="534.65" y2="415.02" stroke="#222" stroke-width="0.5"/>
<circle cx="533.05" cy="418.03" r="0.45" fill="#333"/>
<circle cx="533.75" cy="416.90" r="0.45" fill="#333"/>
<circle cx="534.45" cy="415.77" r="0.45" fill="#333"/>
<rect x="537.50" y="423.18" width="3.7" height="60.32" fill="#ff3fd2"/>
<line x1="539.35" y1="421.93" x2="539.35" y2="424.44" stroke="#222" stroke-width="0.5"/>
<line x1="538.45" y1="421.93" x2="540.25" y2="421.93" stroke="#222" stroke-width="0.5"/>
<circle cx="538.65" cy="423.94" r="0.45" fill="#333"/>
<circle cx="539.35" cy="423.18" r="0.45" fill="#333"/>
<circle cx="540.05" cy="422.43" r="0.45" fill="#333"/>
<rect x="549.00" y="444.55" width="3.7" height="38.95" fill="#575757"/>
<line x1="550.85" y1="442.03" x2="550.85" y2="447.06" stroke="#222" stroke-width="0.5"/>
<line x1="549.95" y1="442.03" x2="551.75" y2="442.03" stroke="#222" stroke-width="0.5"/>
<circle cx="550.15" cy="446.05" r="0.45" fill="#333"/>
<circle cx="550.85" cy="444.55" r="0.45" fill="#333"/>
<circle cx="551.55" cy="443.04" r="0.45" fill="#333"/>
<rect x="554.60" y="426.32" width="3.7" height="57.18" fill="#a3a3a3"/>
<line x1="556.45" y1="425.07" x2="556.45" y2="427.58" stroke="#222" stroke-width="0.5"/>
<line x1="555.55" y1="425.07" x2="557.35" y2="425.07" stroke="#222" stroke-width="0.5"/>
<circle cx="555.75" cy="427.08" r="0.45" fill="#333"/>
<circle cx="556.45" cy="426.32" r="0.45" fill="#333"/>
<circle cx="557.15" cy="425.57" r="0.45" fill="#333"/>
<rect x="560.20" y="421.30" width="3.7" height="62.20" fill="#4d4dff"/>
<line x1="562.05" y1="418.79" x2="562.05" y2="423.81" stroke="#222" stroke-width="0.5"/>
<line x1="561.15" y1="418.79" x2="562.95" y2="418.79" stroke="#222" stroke-width="0.5"/>
<circle cx="561.35" cy="422.81" r="0.45" fill="#333"/>
<circle cx="562.05" cy="421.30" r="0.45" fill="#333"/>
<circle cx="562.75" cy="419.79" r="0.45" fill="#333"/>
<rect x="565.80" y="425.07" width="3.7" height="58.43" fill="#ff3fd2"/>
<line x1="567.65" y1="423.81" x2="567.65" y2="426.32" stroke="#222" stroke-width="0.5"/>
<line x1="566.75" y1="423.81" x2="568.55" y2="423.81" stroke="#222" stroke-width="0.5"/>
<circle cx="566.95" cy="425.82" r="0.45" fill="#333"/>
<circle cx="567.65" cy="425.07" r="0.45" fill="#333"/>
<circle cx="568.35" cy="424.31" r="0.45" fill="#333"/>
<rect x="577.30" y="423.81" width="3.7" height="59.69" fill="#575757"/>
<line x1="579.15" y1="421.93" x2="579.15" y2="425.70" stroke="#222" stroke-width="0.5"/>
<line x1="578.25" y1="421.93" x2="580.05" y2="421.93" stroke="#222" stroke-width="0.5"/>
<circle cx="578.45" cy="424.94" r="0.45" fill="#333"/>
<circle cx="579.15" cy="423.81" r="0.45" fill="#333"/>
<circle cx="579.85" cy="422.68" r="0.45" fill="#333"/>
<rect x="582.90" y="421.93" width="3.7" height="61.57" fill="#a3a3a3"/>
<line x1="584.75" y1="420.04" x2="584.75" y2="423.81" stroke="#222" stroke-width="0.5"/>
<line x1="583.85" y1="420.04" x2="585.65" y2="420.04" stroke="#222" stroke-width="0.5"/>
<circle cx="584.05" cy="423.06" r="0.45" fill="#333"/>
<circle cx="584.75" cy="421.93" r="0.45" fill="#333"/>
<circle cx="585.45" cy="420.80" r="0.45" fill="#333"/>
<rect x="588.50" y="418.16" width="3.7" height="65.34" fill="#4d4dff"/>
<line x1="590.35" y1="416.90" x2="590.35" y2="419.41" stroke="#222" stroke-width="0.5"/>
<line x1="589.45" y1="416.90" x2="591.25" y2="416.90" stroke="#222" stroke-width="0.5"/>
<circle cx="589.65" cy="418.91" r="0.45" fill="#333"/>
<circle cx="590.35" cy="418.16" r="0.45" fill="#333"/>
<circle cx="591.05" cy="417.40" r="0.45" fill="#333"/>
<rect x="594.10" y="426.32" width="3.7" height="57.18" fill="#ff3fd2"/>
<line x1="595.95" y1="424.44" x2="595.95" y2="428.21" stroke="#222" stroke-width="0.5"/>
<line x1="595.05" y1="424.44" x2="596.85" y2="424.44" stroke="#222" stroke-width="0.5"/>
<circle cx="595.25" cy="427.46" r="0.45" fill="#333"/>
<circle cx="595.95" cy="426.32" r="0.45" fill="#333"/>
<circle cx="596.65" cy="425.19" r="0.45" fill="#333"/>
<rect x="605.90" y="466.54" width="3.7" height="16.96" fill="#575757"/>
<line x1="607.75" y1="465.91" x2="607.75" y2="467.16" stroke="#222" stroke-width="0.5"/>
<line x1="606.85" y1="465.91" x2="608.65" y2="465.91" stroke="#222" stroke-width="0.5"/>
<circle cx="607.05" cy="466.91" r="0.45" fill="#333"/>
<circle cx="607.75" cy="466.54" r="0.45" fill="#333"/>
<circle cx="608.45" cy="466.16" r="0.45" fill="#333"/>
<rect x="611.50" y="460.25" width="3.7" height="23.25" fill="#a3a3a3"/>
<line x1="613.35" y1="458.37" x2="613.35" y2="462.14" stroke="#222" stroke-width="0.5"/>
<line x1="612.45" y1="458.37" x2="614.25" y2="458.37" stroke="#222" stroke-width="0.5"/>
<circle cx="612.65" cy="461.38" r="0.45" fill="#333"/>
<circle cx="613.35" cy="460.25" r="0.45" fill="#333"/>
<circle cx="614.05" cy="459.12" r="0.45" fill="#333"/>
<rect x="617.10" y="449.57" width="3.7" height="33.93" fill="#4d4dff"/>
<line x1="618.95" y1="448.32" x2="618.95" y2="450.83" stroke="#222" stroke-width="0.5"/>
<line x1="618.05" y1="448.32" x2="619.85" y2="448.32" stroke="#222" stroke-width="0.5"/>
<circle cx="618.25" cy="450.33" r="0.45" fill="#333"/>
<circle cx="618.95" cy="449.57" r="0.45" fill="#333"/>
<circle cx="619.65" cy="448.82" r="0.45" fill="#333"/>
<rect x="622.70" y="430.09" width="3.7" height="53.41" fill="#ff3fd2"/>
<line x1="624.55" y1="428.84" x2="624.55" y2="431.35" stroke="#222" stroke-width="0.5"/>
<line x1="623.65" y1="428.84" x2="625.45" y2="428.84" stroke="#222" stroke-width="0.5"/>
<circle cx="623.85" cy="430.85" r="0.45" fill="#333"/>
<circle cx="624.55" cy="430.09" r="0.45" fill="#333"/>
<circle cx="625.25" cy="429.34" r="0.45" fill="#333"/>
<line x1="517.6" y1="407.80" x2="517.6" y2="484.10" stroke="#111" stroke-width="1.2"/>
<line x1="517.0" y1="483.50" x2="630.0" y2="483.50" stroke="#111" stroke-width="1.2"/>
<line x1="515.0" y1="483.50" x2="517.6" y2="483.50" stroke="#111" stroke-width="0.9"/>
<text x="514.40" y="485.70" font-size="6.3" fill="#222" text-anchor="end" >0</text>
<line x1="515.0" y1="470.93" x2="517.6" y2="470.93" stroke="#111" stroke-width="0.9"/>
<text x="514.40" y="473.13" font-size="6.3" fill="#222" text-anchor="end" >20</text>
<line x1="515.0" y1="458.37" x2="517.6" y2="458.37" stroke="#111" stroke-width="0.9"/>
<text x="514.40" y="460.57" font-size="6.3" fill="#222" text-anchor="end" >40</text>
<line x1="515.0" y1="445.80" x2="517.6" y2="445.80" stroke="#111" stroke-width="0.9"/>
<text x="514.40" y="448.00" font-size="6.3" fill="#222" text-anchor="end" >60</text>
<line x1="515.0" y1="433.24" x2="517.6" y2="433.24" stroke="#111" stroke-width="0.9"/>
<text x="514.40" y="435.44" font-size="6.3" fill="#222" text-anchor="end" >80</text>
<line x1="515.0" y1="420.67" x2="517.6" y2="420.67" stroke="#111" stroke-width="0.9"/>
<text x="514.40" y="422.87" font-size="6.3" fill="#222" text-anchor="end" >100</text>
<line x1="515.0" y1="408.10" x2="517.6" y2="408.10" stroke="#111" stroke-width="0.9"/>
<text x="514.40" y="410.30" font-size="6.3" fill="#222" text-anchor="end" >120</text>
<text x="567.35" y="388.50" font-size="10.8" fill="#111" font-weight="bold" text-anchor="middle" textLength="33.30" lengthAdjust="spacingAndGlyphs" >Hs746T</text>
<text x="493.40" y="445" font-size="8.9" fill="#222" text-anchor="middle" textLength="63.5" lengthAdjust="spacingAndGlyphs" transform="rotate(-90 493.40 445)" dy="3">Cell viability (%)</text>
<text x="514.80" y="494.50" font-size="8.4" fill="#222" text-anchor="end" textLength="21.00" lengthAdjust="spacingAndGlyphs" >RSL3</text>
<text x="514.80" y="504.30" font-size="8.4" fill="#222" text-anchor="end" textLength="41.00" lengthAdjust="spacingAndGlyphs" >Darapladib</text>
<path d="M528.60 491.80h3.00" stroke="#222" stroke-width="0.95" fill="none"/>
<path d="M528.60 503.00h3.00" stroke="#222" stroke-width="0.95" fill="none"/>
<path d="M555.40 491.80h4.20M557.50 489.70v4.20" stroke="#222" stroke-width="0.95" fill="none"/>
<path d="M556.00 503.00h3.00" stroke="#222" stroke-width="0.95" fill="none"/>
<path d="M584.30 491.80h3.00" stroke="#222" stroke-width="0.95" fill="none"/>
<path d="M583.70 503.00h4.20M585.80 500.90v4.20" stroke="#222" stroke-width="0.95" fill="none"/>
<path d="M611.10 491.80h4.20M613.20 489.70v4.20" stroke="#222" stroke-width="0.95" fill="none"/>
<path d="M611.10 503.00h4.20M613.20 500.90v4.20" stroke="#222" stroke-width="0.95" fill="none"/>
<rect x="631.40" y="418.30" width="4.4" height="4.2" fill="#575757"/>
<text x="639.10" y="422.50" font-size="6.0" fill="#333" >OA 0 μM</text>
<rect x="631.40" y="426.40" width="4.4" height="4.2" fill="#a3a3a3"/>
<text x="639.10" y="430.60" font-size="6.0" fill="#333" >OA 50 μM</text>
<rect x="631.40" y="434.50" width="4.4" height="4.2" fill="#4d4dff"/>
<text x="639.10" y="438.70" font-size="6.0" fill="#333" >OA 100 μM</text>
<rect x="631.40" y="442.60" width="4.4" height="4.2" fill="#ff3fd2"/>
<text x="639.10" y="446.80" font-size="6.0" fill="#333" >OA 250 μM</text>
<path d="M330.2 411.4 V403.4 H357.9 V427.8" fill="none" stroke="#111" stroke-width="0.7"/>
<path d="M357.9 403.4 V396.1 H368.4 V441" fill="none" stroke="#111" stroke-width="0.7"/>
<text x="343.10" y="400.00" font-size="5.26" font-weight="bold" fill="#222" text-anchor="middle" textLength="22.60" lengthAdjust="spacingAndGlyphs"><tspan font-style="italic">p</tspan> &lt; 0.0001</text>
<text x="372.00" y="449.60" font-size="5.26" font-weight="bold" fill="#222" text-anchor="middle" textLength="22.60" lengthAdjust="spacingAndGlyphs"><tspan font-style="italic">p</tspan> &lt; 0.0001</text>
<line x1="361.2" y1="453.2" x2="377.6" y2="453.2" stroke="#888" stroke-width="0.8"/>
<path d="M413.7 458.5 V446.5 H423.6 V458.5" fill="none" stroke="#111" stroke-width="0.7"/>
<text x="424.20" y="464.50" font-size="4.6" fill="#222" font-weight="bold" text-anchor="middle" >n.s</text>
<line x1="415.5" y1="467.3" x2="431.2" y2="467.3" stroke="#888" stroke-width="0.8"/>
<path d="M521.7 412.7 V404.6 H547.6 V425.8" fill="none" stroke="#111" stroke-width="0.7"/>
<path d="M548.6 402 V396.2 H559.2 V402.1" fill="none" stroke="#111" stroke-width="0.7"/>
<text x="535.70" y="401.80" font-size="5.26" font-weight="bold" fill="#222" text-anchor="middle" textLength="22.60" lengthAdjust="spacingAndGlyphs"><tspan font-style="italic">p</tspan> &lt; 0.0001</text>
<text x="564.00" y="408.60" font-size="5.26" font-weight="bold" fill="#222" text-anchor="middle" textLength="22.60" lengthAdjust="spacingAndGlyphs"><tspan font-style="italic">p</tspan> &lt; 0.0001</text>
<line x1="551.8" y1="410.9" x2="568.7" y2="410.9" stroke="#888" stroke-width="0.8"/>
<path d="M604.6 447.9 V405.2 H615.6 V410.2" fill="none" stroke="#111" stroke-width="0.7"/>
<text x="617.60" y="417.60" font-size="5.26" font-weight="bold" fill="#222" text-anchor="middle" textLength="22.60" lengthAdjust="spacingAndGlyphs"><tspan font-style="italic">p</tspan> &lt; 0.0001</text>
<line x1="607.3" y1="420.2" x2="623" y2="420.2" stroke="#111" stroke-width="0.7"/></svg></body></html>
